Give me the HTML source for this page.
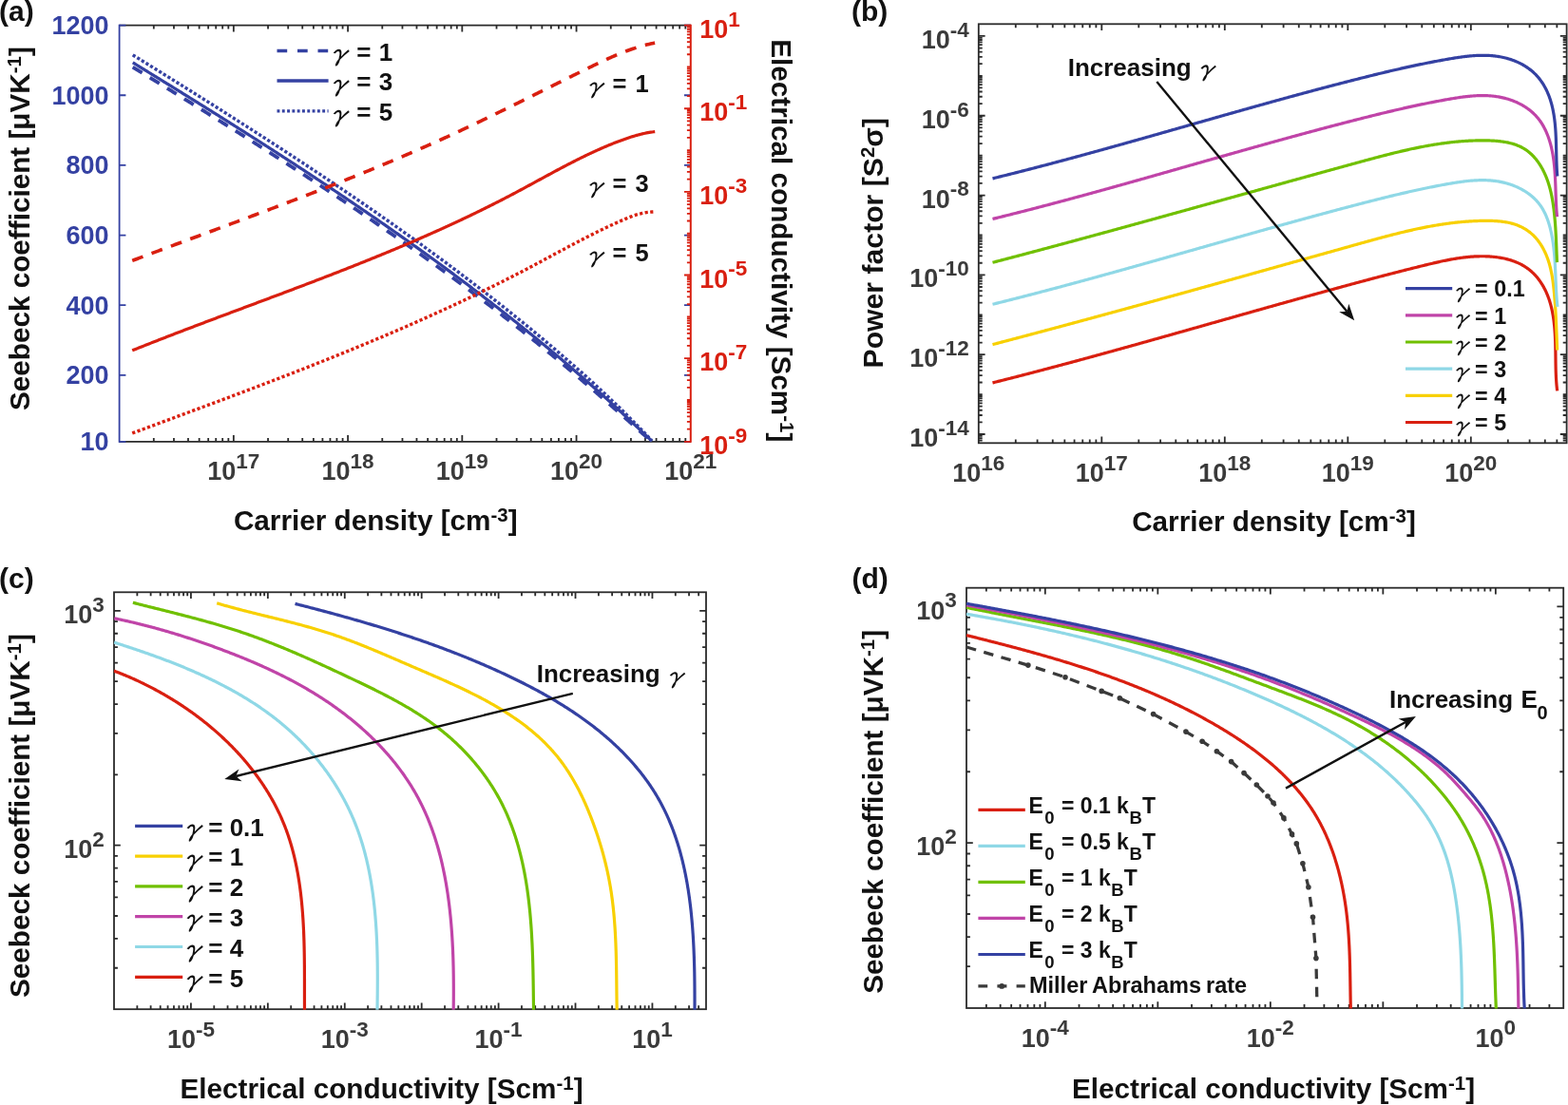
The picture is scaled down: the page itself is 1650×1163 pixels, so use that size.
<!DOCTYPE html>
<html><head><meta charset="utf-8"><title>Figure</title>
<style>html,body{margin:0;padding:0;background:#fff;}svg{display:block;}</style></head>
<body><svg width="1650" height="1163" viewBox="0 0 1650 1163">
<rect width="1650" height="1163" fill="#fff"/>
<path d="M161.8 464.8L161.8 460.9M161.8 26.6L161.8 30.5M182.97 464.8L182.97 460.9M182.97 26.6L182.97 30.5M197.99 464.8L197.99 460.9M197.99 26.6L197.99 30.5M209.64 464.8L209.64 460.9M209.64 26.6L209.64 30.5M219.16 464.8L219.16 460.9M219.16 26.6L219.16 30.5M227.21 464.8L227.21 460.9M227.21 26.6L227.21 30.5M234.19 464.8L234.19 460.9M234.19 26.6L234.19 30.5M240.34 464.8L240.34 460.9M240.34 26.6L240.34 30.5M245.84 464.8L245.84 458M245.84 26.6L245.84 33.4M282.04 464.8L282.04 460.9M282.04 26.6L282.04 30.5M303.21 464.8L303.21 460.9M303.21 26.6L303.21 30.5M318.23 464.8L318.23 460.9M318.23 26.6L318.23 30.5M329.88 464.8L329.88 460.9M329.88 26.6L329.88 30.5M339.4 464.8L339.4 460.9M339.4 26.6L339.4 30.5M347.45 464.8L347.45 460.9M347.45 26.6L347.45 30.5M354.43 464.8L354.43 460.9M354.43 26.6L354.43 30.5M360.58 464.8L360.58 460.9M360.58 26.6L360.58 30.5M366.08 464.8L366.08 458M366.08 26.6L366.08 33.4M402.28 464.8L402.28 460.9M402.28 26.6L402.28 30.5M423.45 464.8L423.45 460.9M423.45 26.6L423.45 30.5M438.47 464.8L438.47 460.9M438.47 26.6L438.47 30.5M450.12 464.8L450.12 460.9M450.12 26.6L450.12 30.5M459.64 464.8L459.64 460.9M459.64 26.6L459.64 30.5M467.69 464.8L467.69 460.9M467.69 26.6L467.69 30.5M474.67 464.8L474.67 460.9M474.67 26.6L474.67 30.5M480.82 464.8L480.82 460.9M480.82 26.6L480.82 30.5M486.32 464.8L486.32 458M486.32 26.6L486.32 33.4M522.52 464.8L522.52 460.9M522.52 26.6L522.52 30.5M543.69 464.8L543.69 460.9M543.69 26.6L543.69 30.5M558.71 464.8L558.71 460.9M558.71 26.6L558.71 30.5M570.36 464.8L570.36 460.9M570.36 26.6L570.36 30.5M579.88 464.8L579.88 460.9M579.88 26.6L579.88 30.5M587.93 464.8L587.93 460.9M587.93 26.6L587.93 30.5M594.91 464.8L594.91 460.9M594.91 26.6L594.91 30.5M601.06 464.8L601.06 460.9M601.06 26.6L601.06 30.5M606.56 464.8L606.56 458M606.56 26.6L606.56 33.4M642.76 464.8L642.76 460.9M642.76 26.6L642.76 30.5M663.93 464.8L663.93 460.9M663.93 26.6L663.93 30.5M678.95 464.8L678.95 460.9M678.95 26.6L678.95 30.5M690.6 464.8L690.6 460.9M690.6 26.6L690.6 30.5M700.12 464.8L700.12 460.9M700.12 26.6L700.12 30.5M708.17 464.8L708.17 460.9M708.17 26.6L708.17 30.5M715.15 464.8L715.15 460.9M715.15 26.6L715.15 30.5M721.3 464.8L721.3 460.9M721.3 26.6L721.3 30.5" stroke="#2b2b2b" stroke-width="1.8" fill="none"/>
<line x1="125.6" y1="26.6" x2="726.8" y2="26.6" stroke="#2b2b2b" stroke-width="1.8"/>
<line x1="125.6" y1="464.8" x2="726.8" y2="464.8" stroke="#2b2b2b" stroke-width="1.8"/>
<path d="M125.6 464.8L132.4 464.8M726.8 464.8L720 464.8M125.6 394.84L132.4 394.84M726.8 394.84L720 394.84M125.6 321.19L132.4 321.19M726.8 321.19L720 321.19M125.6 247.54L132.4 247.54M726.8 247.54L720 247.54M125.6 173.89L132.4 173.89M726.8 173.89L720 173.89M125.6 100.25L132.4 100.25M726.8 100.25L720 100.25M125.6 26.6L132.4 26.6M726.8 26.6L720 26.6" stroke="#3441a2" stroke-width="1.8" fill="none"/>
<path d="M726.8 451.61L722.9 451.61M726.8 443.89L722.9 443.89M726.8 438.42L722.9 438.42M726.8 434.17L722.9 434.17M726.8 430.7L722.9 430.7M726.8 427.77L722.9 427.77M726.8 425.23L722.9 425.23M726.8 422.99L722.9 422.99M726.8 420.98L722.9 420.98M726.8 407.79L722.9 407.79M726.8 400.07L722.9 400.07M726.8 394.6L722.9 394.6M726.8 390.35L722.9 390.35M726.8 386.88L722.9 386.88M726.8 383.95L722.9 383.95M726.8 381.41L722.9 381.41M726.8 379.17L722.9 379.17M726.8 377.16L720 377.16M726.8 363.97L722.9 363.97M726.8 356.25L722.9 356.25M726.8 350.78L722.9 350.78M726.8 346.53L722.9 346.53M726.8 343.06L722.9 343.06M726.8 340.13L722.9 340.13M726.8 337.59L722.9 337.59M726.8 335.35L722.9 335.35M726.8 333.34L722.9 333.34M726.8 320.15L722.9 320.15M726.8 312.43L722.9 312.43M726.8 306.96L722.9 306.96M726.8 302.71L722.9 302.71M726.8 299.24L722.9 299.24M726.8 296.31L722.9 296.31M726.8 293.77L722.9 293.77M726.8 291.53L722.9 291.53M726.8 289.52L720 289.52M726.8 276.33L722.9 276.33M726.8 268.61L722.9 268.61M726.8 263.14L722.9 263.14M726.8 258.89L722.9 258.89M726.8 255.42L722.9 255.42M726.8 252.49L722.9 252.49M726.8 249.95L722.9 249.95M726.8 247.71L722.9 247.71M726.8 245.7L722.9 245.7M726.8 232.51L722.9 232.51M726.8 224.79L722.9 224.79M726.8 219.32L722.9 219.32M726.8 215.07L722.9 215.07M726.8 211.6L722.9 211.6M726.8 208.67L722.9 208.67M726.8 206.13L722.9 206.13M726.8 203.89L722.9 203.89M726.8 201.88L720 201.88M726.8 188.69L722.9 188.69M726.8 180.97L722.9 180.97M726.8 175.5L722.9 175.5M726.8 171.25L722.9 171.25M726.8 167.78L722.9 167.78M726.8 164.85L722.9 164.85M726.8 162.31L722.9 162.31M726.8 160.07L722.9 160.07M726.8 158.06L722.9 158.06M726.8 144.87L722.9 144.87M726.8 137.15L722.9 137.15M726.8 131.68L722.9 131.68M726.8 127.43L722.9 127.43M726.8 123.96L722.9 123.96M726.8 121.03L722.9 121.03M726.8 118.49L722.9 118.49M726.8 116.25L722.9 116.25M726.8 114.24L720 114.24M726.8 101.05L722.9 101.05M726.8 93.33L722.9 93.33M726.8 87.86L722.9 87.86M726.8 83.61L722.9 83.61M726.8 80.14L722.9 80.14M726.8 77.21L722.9 77.21M726.8 74.67L722.9 74.67M726.8 72.43L722.9 72.43M726.8 70.42L722.9 70.42M726.8 57.23L722.9 57.23M726.8 49.51L722.9 49.51M726.8 44.04L722.9 44.04M726.8 39.79L722.9 39.79M726.8 36.32L722.9 36.32M726.8 33.39L722.9 33.39M726.8 30.85L722.9 30.85M726.8 28.61L722.9 28.61M726.8 464.8L720 464.8M726.8 26.6L720 26.6" stroke="#d91f10" stroke-width="1.8" fill="none"/>
<line x1="125.6" y1="25.7" x2="125.6" y2="465.7" stroke="#3441a2" stroke-width="1.8"/>
<line x1="726.8" y1="25.7" x2="726.8" y2="465.7" stroke="#d91f10" stroke-width="2.0"/>
<text x="114.6" y="36.2" font-family="'Liberation Sans', Arial, Helvetica, sans-serif" font-size="27" font-weight="bold" fill="#3441a2" text-anchor="end">1200</text>
<text x="114.6" y="109.85" font-family="'Liberation Sans', Arial, Helvetica, sans-serif" font-size="27" font-weight="bold" fill="#3441a2" text-anchor="end">1000</text>
<text x="114.6" y="183.49" font-family="'Liberation Sans', Arial, Helvetica, sans-serif" font-size="27" font-weight="bold" fill="#3441a2" text-anchor="end">800</text>
<text x="114.6" y="257.14" font-family="'Liberation Sans', Arial, Helvetica, sans-serif" font-size="27" font-weight="bold" fill="#3441a2" text-anchor="end">600</text>
<text x="114.6" y="330.79" font-family="'Liberation Sans', Arial, Helvetica, sans-serif" font-size="27" font-weight="bold" fill="#3441a2" text-anchor="end">400</text>
<text x="114.6" y="404.44" font-family="'Liberation Sans', Arial, Helvetica, sans-serif" font-size="27" font-weight="bold" fill="#3441a2" text-anchor="end">200</text>
<text x="114.6" y="474.4" font-family="'Liberation Sans', Arial, Helvetica, sans-serif" font-size="27" font-weight="bold" fill="#3441a2" text-anchor="end">10</text>
<text x="245.84" y="505.3" font-family="'Liberation Sans', Arial, Helvetica, sans-serif" font-size="27" font-weight="bold" fill="#3a3a3a" text-anchor="middle">10<tspan dy="-12.2" font-size="22.5">17</tspan></text>
<text x="366.08" y="505.3" font-family="'Liberation Sans', Arial, Helvetica, sans-serif" font-size="27" font-weight="bold" fill="#3a3a3a" text-anchor="middle">10<tspan dy="-12.2" font-size="22.5">18</tspan></text>
<text x="486.32" y="505.3" font-family="'Liberation Sans', Arial, Helvetica, sans-serif" font-size="27" font-weight="bold" fill="#3a3a3a" text-anchor="middle">10<tspan dy="-12.2" font-size="22.5">19</tspan></text>
<text x="606.56" y="505.3" font-family="'Liberation Sans', Arial, Helvetica, sans-serif" font-size="27" font-weight="bold" fill="#3a3a3a" text-anchor="middle">10<tspan dy="-12.2" font-size="22.5">20</tspan></text>
<text x="726.8" y="505.3" font-family="'Liberation Sans', Arial, Helvetica, sans-serif" font-size="27" font-weight="bold" fill="#3a3a3a" text-anchor="middle">10<tspan dy="-12.2" font-size="22.5">21</tspan></text>
<text x="736.2" y="39.7" font-family="'Liberation Sans', Arial, Helvetica, sans-serif" font-size="27" font-weight="bold" fill="#d91f10" text-anchor="start">10<tspan dy="-12.2" font-size="22.5">1</tspan></text>
<text x="736.2" y="127.34" font-family="'Liberation Sans', Arial, Helvetica, sans-serif" font-size="27" font-weight="bold" fill="#d91f10" text-anchor="start">10<tspan dy="-12.2" font-size="22.5">-1</tspan></text>
<text x="736.2" y="214.98" font-family="'Liberation Sans', Arial, Helvetica, sans-serif" font-size="27" font-weight="bold" fill="#d91f10" text-anchor="start">10<tspan dy="-12.2" font-size="22.5">-3</tspan></text>
<text x="736.2" y="302.62" font-family="'Liberation Sans', Arial, Helvetica, sans-serif" font-size="27" font-weight="bold" fill="#d91f10" text-anchor="start">10<tspan dy="-12.2" font-size="22.5">-5</tspan></text>
<text x="736.2" y="390.26" font-family="'Liberation Sans', Arial, Helvetica, sans-serif" font-size="27" font-weight="bold" fill="#d91f10" text-anchor="start">10<tspan dy="-12.2" font-size="22.5">-7</tspan></text>
<text x="736.2" y="477.9" font-family="'Liberation Sans', Arial, Helvetica, sans-serif" font-size="27" font-weight="bold" fill="#d91f10" text-anchor="start">10<tspan dy="-12.2" font-size="22.5">-9</tspan></text>
<path d="M1068.79 466.3L1068.79 462.4M1068.79 25.3L1068.79 29.2M1091.59 466.3L1091.59 462.4M1091.59 25.3L1091.59 29.2M1107.77 466.3L1107.77 462.4M1107.77 25.3L1107.77 29.2M1120.32 466.3L1120.32 462.4M1120.32 25.3L1120.32 29.2M1130.58 466.3L1130.58 462.4M1130.58 25.3L1130.58 29.2M1139.25 466.3L1139.25 462.4M1139.25 25.3L1139.25 29.2M1146.76 466.3L1146.76 462.4M1146.76 25.3L1146.76 29.2M1153.38 466.3L1153.38 462.4M1153.38 25.3L1153.38 29.2M1159.31 466.3L1159.31 459.5M1159.31 25.3L1159.31 32.1M1198.29 466.3L1198.29 462.4M1198.29 25.3L1198.29 29.2M1221.1 466.3L1221.1 462.4M1221.1 25.3L1221.1 29.2M1237.28 466.3L1237.28 462.4M1237.28 25.3L1237.28 29.2M1249.83 466.3L1249.83 462.4M1249.83 25.3L1249.83 29.2M1260.08 466.3L1260.08 462.4M1260.08 25.3L1260.08 29.2M1268.75 466.3L1268.75 462.4M1268.75 25.3L1268.75 29.2M1276.26 466.3L1276.26 462.4M1276.26 25.3L1276.26 29.2M1282.89 466.3L1282.89 462.4M1282.89 25.3L1282.89 29.2M1288.81 466.3L1288.81 459.5M1288.81 25.3L1288.81 32.1M1327.8 466.3L1327.8 462.4M1327.8 25.3L1327.8 29.2M1350.6 466.3L1350.6 462.4M1350.6 25.3L1350.6 29.2M1366.78 466.3L1366.78 462.4M1366.78 25.3L1366.78 29.2M1379.33 466.3L1379.33 462.4M1379.33 25.3L1379.33 29.2M1389.59 466.3L1389.59 462.4M1389.59 25.3L1389.59 29.2M1398.26 466.3L1398.26 462.4M1398.26 25.3L1398.26 29.2M1405.77 466.3L1405.77 462.4M1405.77 25.3L1405.77 29.2M1412.39 466.3L1412.39 462.4M1412.39 25.3L1412.39 29.2M1418.32 466.3L1418.32 459.5M1418.32 25.3L1418.32 32.1M1457.3 466.3L1457.3 462.4M1457.3 25.3L1457.3 29.2M1480.11 466.3L1480.11 462.4M1480.11 25.3L1480.11 29.2M1496.29 466.3L1496.29 462.4M1496.29 25.3L1496.29 29.2M1508.84 466.3L1508.84 462.4M1508.84 25.3L1508.84 29.2M1519.09 466.3L1519.09 462.4M1519.09 25.3L1519.09 29.2M1527.76 466.3L1527.76 462.4M1527.76 25.3L1527.76 29.2M1535.27 466.3L1535.27 462.4M1535.27 25.3L1535.27 29.2M1541.9 466.3L1541.9 462.4M1541.9 25.3L1541.9 29.2M1547.82 466.3L1547.82 459.5M1547.82 25.3L1547.82 32.1M1586.81 466.3L1586.81 462.4M1586.81 25.3L1586.81 29.2M1609.61 466.3L1609.61 462.4M1609.61 25.3L1609.61 29.2M1625.8 466.3L1625.8 462.4M1625.8 25.3L1625.8 29.2M1638.35 466.3L1638.35 462.4M1638.35 25.3L1638.35 29.2M1029.8 463.49L1033.7 463.49M1648.6 463.49L1644.7 463.49M1029.8 461.06L1033.7 461.06M1648.6 461.06L1644.7 461.06M1029.8 458.92L1033.7 458.92M1648.6 458.92L1644.7 458.92M1029.8 457L1036.6 457M1648.6 457L1641.8 457M1029.8 444.39L1033.7 444.39M1648.6 444.39L1644.7 444.39M1029.8 437.01L1033.7 437.01M1648.6 437.01L1644.7 437.01M1029.8 431.77L1033.7 431.77M1648.6 431.77L1644.7 431.77M1029.8 427.71L1033.7 427.71M1648.6 427.71L1644.7 427.71M1029.8 424.39L1033.7 424.39M1648.6 424.39L1644.7 424.39M1029.8 421.59L1033.7 421.59M1648.6 421.59L1644.7 421.59M1029.8 419.16L1033.7 419.16M1648.6 419.16L1644.7 419.16M1029.8 417.01L1033.7 417.01M1648.6 417.01L1644.7 417.01M1029.8 415.09L1033.7 415.09M1648.6 415.09L1644.7 415.09M1029.8 402.48L1033.7 402.48M1648.6 402.48L1644.7 402.48M1029.8 395.1L1033.7 395.1M1648.6 395.1L1644.7 395.1M1029.8 389.86L1033.7 389.86M1648.6 389.86L1644.7 389.86M1029.8 385.8L1033.7 385.8M1648.6 385.8L1644.7 385.8M1029.8 382.48L1033.7 382.48M1648.6 382.48L1644.7 382.48M1029.8 379.68L1033.7 379.68M1648.6 379.68L1644.7 379.68M1029.8 377.25L1033.7 377.25M1648.6 377.25L1644.7 377.25M1029.8 375.1L1033.7 375.1M1648.6 375.1L1644.7 375.1M1029.8 373.19L1036.6 373.19M1648.6 373.19L1641.8 373.19M1029.8 360.57L1033.7 360.57M1648.6 360.57L1644.7 360.57M1029.8 353.19L1033.7 353.19M1648.6 353.19L1644.7 353.19M1029.8 347.95L1033.7 347.95M1648.6 347.95L1644.7 347.95M1029.8 343.89L1033.7 343.89M1648.6 343.89L1644.7 343.89M1029.8 340.57L1033.7 340.57M1648.6 340.57L1644.7 340.57M1029.8 337.77L1033.7 337.77M1648.6 337.77L1644.7 337.77M1029.8 335.34L1033.7 335.34M1648.6 335.34L1644.7 335.34M1029.8 333.19L1033.7 333.19M1648.6 333.19L1644.7 333.19M1029.8 331.28L1033.7 331.28M1648.6 331.28L1644.7 331.28M1029.8 318.66L1033.7 318.66M1648.6 318.66L1644.7 318.66M1029.8 311.28L1033.7 311.28M1648.6 311.28L1644.7 311.28M1029.8 306.05L1033.7 306.05M1648.6 306.05L1644.7 306.05M1029.8 301.98L1033.7 301.98M1648.6 301.98L1644.7 301.98M1029.8 298.67L1033.7 298.67M1648.6 298.67L1644.7 298.67M1029.8 295.86L1033.7 295.86M1648.6 295.86L1644.7 295.86M1029.8 293.43L1033.7 293.43M1648.6 293.43L1644.7 293.43M1029.8 291.29L1033.7 291.29M1648.6 291.29L1644.7 291.29M1029.8 289.37L1036.6 289.37M1648.6 289.37L1641.8 289.37M1029.8 276.75L1033.7 276.75M1648.6 276.75L1644.7 276.75M1029.8 269.37L1033.7 269.37M1648.6 269.37L1644.7 269.37M1029.8 264.14L1033.7 264.14M1648.6 264.14L1644.7 264.14M1029.8 260.07L1033.7 260.07M1648.6 260.07L1644.7 260.07M1029.8 256.76L1033.7 256.76M1648.6 256.76L1644.7 256.76M1029.8 253.95L1033.7 253.95M1648.6 253.95L1644.7 253.95M1029.8 251.52L1033.7 251.52M1648.6 251.52L1644.7 251.52M1029.8 249.38L1033.7 249.38M1648.6 249.38L1644.7 249.38M1029.8 247.46L1033.7 247.46M1648.6 247.46L1644.7 247.46M1029.8 234.84L1033.7 234.84M1648.6 234.84L1644.7 234.84M1029.8 227.46L1033.7 227.46M1648.6 227.46L1644.7 227.46M1029.8 222.23L1033.7 222.23M1648.6 222.23L1644.7 222.23M1029.8 218.17L1033.7 218.17M1648.6 218.17L1644.7 218.17M1029.8 214.85L1033.7 214.85M1648.6 214.85L1644.7 214.85M1029.8 212.04L1033.7 212.04M1648.6 212.04L1644.7 212.04M1029.8 209.61L1033.7 209.61M1648.6 209.61L1644.7 209.61M1029.8 207.47L1033.7 207.47M1648.6 207.47L1644.7 207.47M1029.8 205.55L1036.6 205.55M1648.6 205.55L1641.8 205.55M1029.8 192.93L1033.7 192.93M1648.6 192.93L1644.7 192.93M1029.8 185.55L1033.7 185.55M1648.6 185.55L1644.7 185.55M1029.8 180.32L1033.7 180.32M1648.6 180.32L1644.7 180.32M1029.8 176.26L1033.7 176.26M1648.6 176.26L1644.7 176.26M1029.8 172.94L1033.7 172.94M1648.6 172.94L1644.7 172.94M1029.8 170.13L1033.7 170.13M1648.6 170.13L1644.7 170.13M1029.8 167.7L1033.7 167.7M1648.6 167.7L1644.7 167.7M1029.8 165.56L1033.7 165.56M1648.6 165.56L1644.7 165.56M1029.8 163.64L1033.7 163.64M1648.6 163.64L1644.7 163.64M1029.8 151.03L1033.7 151.03M1648.6 151.03L1644.7 151.03M1029.8 143.65L1033.7 143.65M1648.6 143.65L1644.7 143.65M1029.8 138.41L1033.7 138.41M1648.6 138.41L1644.7 138.41M1029.8 134.35L1033.7 134.35M1648.6 134.35L1644.7 134.35M1029.8 131.03L1033.7 131.03M1648.6 131.03L1644.7 131.03M1029.8 128.22L1033.7 128.22M1648.6 128.22L1644.7 128.22M1029.8 125.79L1033.7 125.79M1648.6 125.79L1644.7 125.79M1029.8 123.65L1033.7 123.65M1648.6 123.65L1644.7 123.65M1029.8 121.73L1036.6 121.73M1648.6 121.73L1641.8 121.73M1029.8 109.12L1033.7 109.12M1648.6 109.12L1644.7 109.12M1029.8 101.74L1033.7 101.74M1648.6 101.74L1644.7 101.74M1029.8 96.5L1033.7 96.5M1648.6 96.5L1644.7 96.5M1029.8 92.44L1033.7 92.44M1648.6 92.44L1644.7 92.44M1029.8 89.12L1033.7 89.12M1648.6 89.12L1644.7 89.12M1029.8 86.32L1033.7 86.32M1648.6 86.32L1644.7 86.32M1029.8 83.89L1033.7 83.89M1648.6 83.89L1644.7 83.89M1029.8 81.74L1033.7 81.74M1648.6 81.74L1644.7 81.74M1029.8 79.82L1033.7 79.82M1648.6 79.82L1644.7 79.82M1029.8 67.21L1033.7 67.21M1648.6 67.21L1644.7 67.21M1029.8 59.83L1033.7 59.83M1648.6 59.83L1644.7 59.83M1029.8 54.59L1033.7 54.59M1648.6 54.59L1644.7 54.59M1029.8 50.53L1033.7 50.53M1648.6 50.53L1644.7 50.53M1029.8 47.21L1033.7 47.21M1648.6 47.21L1644.7 47.21M1029.8 44.41L1033.7 44.41M1648.6 44.41L1644.7 44.41M1029.8 41.98L1033.7 41.98M1648.6 41.98L1644.7 41.98M1029.8 39.83L1033.7 39.83M1648.6 39.83L1644.7 39.83M1029.8 37.92L1036.6 37.92M1648.6 37.92L1641.8 37.92" stroke="#2b2b2b" stroke-width="1.8" fill="none"/>
<rect x="1029.8" y="25.3" width="618.8" height="441" fill="none" stroke="#2b2b2b" stroke-width="1.8"/>
<text x="1029.8" y="507.3" font-family="'Liberation Sans', Arial, Helvetica, sans-serif" font-size="27" font-weight="bold" fill="#3a3a3a" text-anchor="middle">10<tspan dy="-12.2" font-size="22.5">16</tspan></text>
<text x="1159.31" y="507.3" font-family="'Liberation Sans', Arial, Helvetica, sans-serif" font-size="27" font-weight="bold" fill="#3a3a3a" text-anchor="middle">10<tspan dy="-12.2" font-size="22.5">17</tspan></text>
<text x="1288.81" y="507.3" font-family="'Liberation Sans', Arial, Helvetica, sans-serif" font-size="27" font-weight="bold" fill="#3a3a3a" text-anchor="middle">10<tspan dy="-12.2" font-size="22.5">18</tspan></text>
<text x="1418.32" y="507.3" font-family="'Liberation Sans', Arial, Helvetica, sans-serif" font-size="27" font-weight="bold" fill="#3a3a3a" text-anchor="middle">10<tspan dy="-12.2" font-size="22.5">19</tspan></text>
<text x="1547.82" y="507.3" font-family="'Liberation Sans', Arial, Helvetica, sans-serif" font-size="27" font-weight="bold" fill="#3a3a3a" text-anchor="middle">10<tspan dy="-12.2" font-size="22.5">20</tspan></text>
<text x="1019.8" y="51.02" font-family="'Liberation Sans', Arial, Helvetica, sans-serif" font-size="27" font-weight="bold" fill="#3a3a3a" text-anchor="end">10<tspan dy="-12.2" font-size="22.5">-4</tspan></text>
<text x="1019.8" y="134.83" font-family="'Liberation Sans', Arial, Helvetica, sans-serif" font-size="27" font-weight="bold" fill="#3a3a3a" text-anchor="end">10<tspan dy="-12.2" font-size="22.5">-6</tspan></text>
<text x="1019.8" y="218.65" font-family="'Liberation Sans', Arial, Helvetica, sans-serif" font-size="27" font-weight="bold" fill="#3a3a3a" text-anchor="end">10<tspan dy="-12.2" font-size="22.5">-8</tspan></text>
<text x="1019.8" y="302.47" font-family="'Liberation Sans', Arial, Helvetica, sans-serif" font-size="27" font-weight="bold" fill="#3a3a3a" text-anchor="end">10<tspan dy="-12.2" font-size="22.5">-10</tspan></text>
<text x="1019.8" y="386.29" font-family="'Liberation Sans', Arial, Helvetica, sans-serif" font-size="27" font-weight="bold" fill="#3a3a3a" text-anchor="end">10<tspan dy="-12.2" font-size="22.5">-12</tspan></text>
<text x="1019.8" y="470.1" font-family="'Liberation Sans', Arial, Helvetica, sans-serif" font-size="27" font-weight="bold" fill="#3a3a3a" text-anchor="end">10<tspan dy="-12.2" font-size="22.5">-14</tspan></text>
<path d="M144.36 1062.2L144.36 1058.3M144.36 623.3L144.36 627.2M158.61 1062.2L158.61 1058.3M158.61 623.3L158.61 627.2M168.72 1062.2L168.72 1058.3M168.72 623.3L168.72 627.2M176.56 1062.2L176.56 1058.3M176.56 623.3L176.56 627.2M182.97 1062.2L182.97 1058.3M182.97 623.3L182.97 627.2M188.39 1062.2L188.39 1058.3M188.39 623.3L188.39 627.2M193.08 1062.2L193.08 1058.3M193.08 623.3L193.08 627.2M197.22 1062.2L197.22 1058.3M197.22 623.3L197.22 627.2M200.92 1062.2L200.92 1055.4M200.92 623.3L200.92 630.1M225.28 1062.2L225.28 1058.3M225.28 623.3L225.28 627.2M239.53 1062.2L239.53 1058.3M239.53 623.3L239.53 627.2M249.64 1062.2L249.64 1058.3M249.64 623.3L249.64 627.2M257.48 1062.2L257.48 1058.3M257.48 623.3L257.48 627.2M263.89 1062.2L263.89 1058.3M263.89 623.3L263.89 627.2M269.31 1062.2L269.31 1058.3M269.31 623.3L269.31 627.2M274 1062.2L274 1058.3M274 623.3L274 627.2M278.14 1062.2L278.14 1058.3M278.14 623.3L278.14 627.2M281.84 1062.2L281.84 1055.4M281.84 623.3L281.84 630.1M306.2 1062.2L306.2 1058.3M306.2 623.3L306.2 627.2M320.45 1062.2L320.45 1058.3M320.45 623.3L320.45 627.2M330.56 1062.2L330.56 1058.3M330.56 623.3L330.56 627.2M338.4 1062.2L338.4 1058.3M338.4 623.3L338.4 627.2M344.81 1062.2L344.81 1058.3M344.81 623.3L344.81 627.2M350.23 1062.2L350.23 1058.3M350.23 623.3L350.23 627.2M354.92 1062.2L354.92 1058.3M354.92 623.3L354.92 627.2M359.06 1062.2L359.06 1058.3M359.06 623.3L359.06 627.2M362.76 1062.2L362.76 1055.4M362.76 623.3L362.76 630.1M387.12 1062.2L387.12 1058.3M387.12 623.3L387.12 627.2M401.37 1062.2L401.37 1058.3M401.37 623.3L401.37 627.2M411.48 1062.2L411.48 1058.3M411.48 623.3L411.48 627.2M419.32 1062.2L419.32 1058.3M419.32 623.3L419.32 627.2M425.73 1062.2L425.73 1058.3M425.73 623.3L425.73 627.2M431.15 1062.2L431.15 1058.3M431.15 623.3L431.15 627.2M435.84 1062.2L435.84 1058.3M435.84 623.3L435.84 627.2M439.98 1062.2L439.98 1058.3M439.98 623.3L439.98 627.2M443.68 1062.2L443.68 1055.4M443.68 623.3L443.68 630.1M468.04 1062.2L468.04 1058.3M468.04 623.3L468.04 627.2M482.29 1062.2L482.29 1058.3M482.29 623.3L482.29 627.2M492.4 1062.2L492.4 1058.3M492.4 623.3L492.4 627.2M500.24 1062.2L500.24 1058.3M500.24 623.3L500.24 627.2M506.65 1062.2L506.65 1058.3M506.65 623.3L506.65 627.2M512.06 1062.2L512.06 1058.3M512.06 623.3L512.06 627.2M516.76 1062.2L516.76 1058.3M516.76 623.3L516.76 627.2M520.9 1062.2L520.9 1058.3M520.9 623.3L520.9 627.2M524.6 1062.2L524.6 1055.4M524.6 623.3L524.6 630.1M548.96 1062.2L548.96 1058.3M548.96 623.3L548.96 627.2M563.21 1062.2L563.21 1058.3M563.21 623.3L563.21 627.2M573.32 1062.2L573.32 1058.3M573.32 623.3L573.32 627.2M581.16 1062.2L581.16 1058.3M581.16 623.3L581.16 627.2M587.57 1062.2L587.57 1058.3M587.57 623.3L587.57 627.2M592.98 1062.2L592.98 1058.3M592.98 623.3L592.98 627.2M597.68 1062.2L597.68 1058.3M597.68 623.3L597.68 627.2M601.82 1062.2L601.82 1058.3M601.82 623.3L601.82 627.2M605.52 1062.2L605.52 1055.4M605.52 623.3L605.52 630.1M629.88 1062.2L629.88 1058.3M629.88 623.3L629.88 627.2M644.13 1062.2L644.13 1058.3M644.13 623.3L644.13 627.2M654.24 1062.2L654.24 1058.3M654.24 623.3L654.24 627.2M662.08 1062.2L662.08 1058.3M662.08 623.3L662.08 627.2M668.49 1062.2L668.49 1058.3M668.49 623.3L668.49 627.2M673.9 1062.2L673.9 1058.3M673.9 623.3L673.9 627.2M678.6 1062.2L678.6 1058.3M678.6 623.3L678.6 627.2M682.74 1062.2L682.74 1058.3M682.74 623.3L682.74 627.2M686.44 1062.2L686.44 1055.4M686.44 623.3L686.44 630.1M710.8 1062.2L710.8 1058.3M710.8 623.3L710.8 627.2M725.05 1062.2L725.05 1058.3M725.05 623.3L725.05 627.2M735.16 1062.2L735.16 1058.3M735.16 623.3L735.16 627.2M120 1018.74L123.9 1018.74M743 1018.74L739.1 1018.74M120 987.9L123.9 987.9M743 987.9L739.1 987.9M120 963.98L123.9 963.98M743 963.98L739.1 963.98M120 944.43L123.9 944.43M743 944.43L739.1 944.43M120 927.91L123.9 927.91M743 927.91L739.1 927.91M120 913.59L123.9 913.59M743 913.59L739.1 913.59M120 900.97L123.9 900.97M743 900.97L739.1 900.97M120 889.67L126.8 889.67M743 889.67L736.2 889.67M120 815.37L123.9 815.37M743 815.37L739.1 815.37M120 771.91L123.9 771.91M743 771.91L739.1 771.91M120 741.07L123.9 741.07M743 741.07L739.1 741.07M120 717.15L123.9 717.15M743 717.15L739.1 717.15M120 697.6L123.9 697.6M743 697.6L739.1 697.6M120 681.08L123.9 681.08M743 681.08L739.1 681.08M120 666.76L123.9 666.76M743 666.76L739.1 666.76M120 654.14L123.9 654.14M743 654.14L739.1 654.14M120 642.84L126.8 642.84M743 642.84L736.2 642.84" stroke="#2b2b2b" stroke-width="1.8" fill="none"/>
<rect x="120.0" y="623.3" width="623" height="438.9" fill="none" stroke="#2b2b2b" stroke-width="1.8"/>
<text x="200.92" y="1102.7" font-family="'Liberation Sans', Arial, Helvetica, sans-serif" font-size="27" font-weight="bold" fill="#3a3a3a" text-anchor="middle">10<tspan dy="-12.2" font-size="22.5">-5</tspan></text>
<text x="362.76" y="1102.7" font-family="'Liberation Sans', Arial, Helvetica, sans-serif" font-size="27" font-weight="bold" fill="#3a3a3a" text-anchor="middle">10<tspan dy="-12.2" font-size="22.5">-3</tspan></text>
<text x="524.6" y="1102.7" font-family="'Liberation Sans', Arial, Helvetica, sans-serif" font-size="27" font-weight="bold" fill="#3a3a3a" text-anchor="middle">10<tspan dy="-12.2" font-size="22.5">-1</tspan></text>
<text x="686.44" y="1102.7" font-family="'Liberation Sans', Arial, Helvetica, sans-serif" font-size="27" font-weight="bold" fill="#3a3a3a" text-anchor="middle">10<tspan dy="-12.2" font-size="22.5">1</tspan></text>
<text x="109.8" y="655.94" font-family="'Liberation Sans', Arial, Helvetica, sans-serif" font-size="27" font-weight="bold" fill="#3a3a3a" text-anchor="end">10<tspan dy="-12.2" font-size="22.5">3</tspan></text>
<text x="109.8" y="902.77" font-family="'Liberation Sans', Arial, Helvetica, sans-serif" font-size="27" font-weight="bold" fill="#3a3a3a" text-anchor="end">10<tspan dy="-12.2" font-size="22.5">2</tspan></text>
<path d="M1037.87 1061L1037.87 1057.1M1037.87 618.7L1037.87 622.6M1052.67 1061L1052.67 1057.1M1052.67 618.7L1052.67 622.6M1064.16 1061L1064.16 1057.1M1064.16 618.7L1064.16 622.6M1073.54 1061L1073.54 1057.1M1073.54 618.7L1073.54 622.6M1081.47 1061L1081.47 1057.1M1081.47 618.7L1081.47 622.6M1088.35 1061L1088.35 1057.1M1088.35 618.7L1088.35 622.6M1094.41 1061L1094.41 1057.1M1094.41 618.7L1094.41 622.6M1099.83 1061L1099.83 1054.2M1099.83 618.7L1099.83 625.5M1135.51 1061L1135.51 1057.1M1135.51 618.7L1135.51 622.6M1156.37 1061L1156.37 1057.1M1156.37 618.7L1156.37 622.6M1171.18 1061L1171.18 1057.1M1171.18 618.7L1171.18 622.6M1182.66 1061L1182.66 1057.1M1182.66 618.7L1182.66 622.6M1192.05 1061L1192.05 1057.1M1192.05 618.7L1192.05 622.6M1199.98 1061L1199.98 1057.1M1199.98 618.7L1199.98 622.6M1206.85 1061L1206.85 1057.1M1206.85 618.7L1206.85 622.6M1212.91 1061L1212.91 1057.1M1212.91 618.7L1212.91 622.6M1218.34 1061L1218.34 1054.2M1218.34 618.7L1218.34 625.5M1254.01 1061L1254.01 1057.1M1254.01 618.7L1254.01 622.6M1274.88 1061L1274.88 1057.1M1274.88 618.7L1274.88 622.6M1289.68 1061L1289.68 1057.1M1289.68 618.7L1289.68 622.6M1301.17 1061L1301.17 1057.1M1301.17 618.7L1301.17 622.6M1310.55 1061L1310.55 1057.1M1310.55 618.7L1310.55 622.6M1318.49 1061L1318.49 1057.1M1318.49 618.7L1318.49 622.6M1325.36 1061L1325.36 1057.1M1325.36 618.7L1325.36 622.6M1331.42 1061L1331.42 1057.1M1331.42 618.7L1331.42 622.6M1336.84 1061L1336.84 1054.2M1336.84 618.7L1336.84 625.5M1372.52 1061L1372.52 1057.1M1372.52 618.7L1372.52 622.6M1393.38 1061L1393.38 1057.1M1393.38 618.7L1393.38 622.6M1408.19 1061L1408.19 1057.1M1408.19 618.7L1408.19 622.6M1419.67 1061L1419.67 1057.1M1419.67 618.7L1419.67 622.6M1429.06 1061L1429.06 1057.1M1429.06 618.7L1429.06 622.6M1436.99 1061L1436.99 1057.1M1436.99 618.7L1436.99 622.6M1443.86 1061L1443.86 1057.1M1443.86 618.7L1443.86 622.6M1449.92 1061L1449.92 1057.1M1449.92 618.7L1449.92 622.6M1455.35 1061L1455.35 1054.2M1455.35 618.7L1455.35 625.5M1491.02 1061L1491.02 1057.1M1491.02 618.7L1491.02 622.6M1511.89 1061L1511.89 1057.1M1511.89 618.7L1511.89 622.6M1526.69 1061L1526.69 1057.1M1526.69 618.7L1526.69 622.6M1538.18 1061L1538.18 1057.1M1538.18 618.7L1538.18 622.6M1547.56 1061L1547.56 1057.1M1547.56 618.7L1547.56 622.6M1555.5 1061L1555.5 1057.1M1555.5 618.7L1555.5 622.6M1562.37 1061L1562.37 1057.1M1562.37 618.7L1562.37 622.6M1568.43 1061L1568.43 1057.1M1568.43 618.7L1568.43 622.6M1573.85 1061L1573.85 1054.2M1573.85 618.7L1573.85 625.5M1609.53 1061L1609.53 1057.1M1609.53 618.7L1609.53 622.6M1630.39 1061L1630.39 1057.1M1630.39 618.7L1630.39 622.6M1017 1017.2L1020.9 1017.2M1645.2 1017.2L1641.3 1017.2M1017 986.12L1020.9 986.12M1645.2 986.12L1641.3 986.12M1017 962.02L1020.9 962.02M1645.2 962.02L1641.3 962.02M1017 942.32L1020.9 942.32M1645.2 942.32L1641.3 942.32M1017 925.67L1020.9 925.67M1645.2 925.67L1641.3 925.67M1017 911.24L1020.9 911.24M1645.2 911.24L1641.3 911.24M1017 898.52L1020.9 898.52M1645.2 898.52L1641.3 898.52M1017 887.14L1023.8 887.14M1645.2 887.14L1638.4 887.14M1017 812.26L1020.9 812.26M1645.2 812.26L1641.3 812.26M1017 768.46L1020.9 768.46M1645.2 768.46L1641.3 768.46M1017 737.38L1020.9 737.38M1645.2 737.38L1641.3 737.38M1017 713.27L1020.9 713.27M1645.2 713.27L1641.3 713.27M1017 693.58L1020.9 693.58M1645.2 693.58L1641.3 693.58M1017 676.93L1020.9 676.93M1645.2 676.93L1641.3 676.93M1017 662.5L1020.9 662.5M1645.2 662.5L1641.3 662.5M1017 649.78L1020.9 649.78M1645.2 649.78L1641.3 649.78M1017 638.4L1023.8 638.4M1645.2 638.4L1638.4 638.4" stroke="#2b2b2b" stroke-width="1.8" fill="none"/>
<rect x="1017.0" y="618.7" width="628.2" height="442.3" fill="none" stroke="#2b2b2b" stroke-width="1.8"/>
<text x="1099.83" y="1101.5" font-family="'Liberation Sans', Arial, Helvetica, sans-serif" font-size="27" font-weight="bold" fill="#3a3a3a" text-anchor="middle">10<tspan dy="-12.2" font-size="22.5">-4</tspan></text>
<text x="1336.84" y="1101.5" font-family="'Liberation Sans', Arial, Helvetica, sans-serif" font-size="27" font-weight="bold" fill="#3a3a3a" text-anchor="middle">10<tspan dy="-12.2" font-size="22.5">-2</tspan></text>
<text x="1573.85" y="1101.5" font-family="'Liberation Sans', Arial, Helvetica, sans-serif" font-size="27" font-weight="bold" fill="#3a3a3a" text-anchor="middle">10<tspan dy="-12.2" font-size="22.5">0</tspan></text>
<text x="1006.8" y="651.5" font-family="'Liberation Sans', Arial, Helvetica, sans-serif" font-size="27" font-weight="bold" fill="#3a3a3a" text-anchor="end">10<tspan dy="-12.2" font-size="22.5">3</tspan></text>
<text x="1006.8" y="900.24" font-family="'Liberation Sans', Arial, Helvetica, sans-serif" font-size="27" font-weight="bold" fill="#3a3a3a" text-anchor="end">10<tspan dy="-12.2" font-size="22.5">2</tspan></text>
<defs>
<clipPath id="cA"><rect x="125.1" y="26.1" width="602.2" height="439.2"/></clipPath>
<clipPath id="cB"><rect x="1029.3" y="24.8" width="619.8" height="442"/></clipPath>
<clipPath id="cC"><rect x="119.5" y="622.8" width="624" height="439.9"/></clipPath>
<clipPath id="cD"><rect x="1016.5" y="618.2" width="629.2" height="443.3"/></clipPath>
</defs>
<g clip-path="url(#cA)">
<path d="M139.72 70.65L141.16 71.53L142.61 72.41L144.05 73.30L145.49 74.18L146.94 75.07L148.38 75.95L149.83 76.84L151.27 77.73L152.71 78.61L154.16 79.50L155.60 80.38L157.05 81.27L158.49 82.16L159.93 83.04L161.38 83.93L162.82 84.82L164.26 85.71L165.71 86.59L167.15 87.48L168.60 88.37L170.04 89.26L171.48 90.15L172.92 91.04L174.37 91.93L175.81 92.82L177.25 93.71L178.70 94.60L180.14 95.49L181.58 96.38L183.03 97.27L184.47 98.16L185.91 99.05L187.35 99.94L188.79 100.83L190.24 101.73L191.68 102.62L193.12 103.51L194.56 104.41L196.00 105.30L197.45 106.19L198.89 107.09L200.33 107.98L201.77 108.88L203.21 109.77L204.65 110.67L206.09 111.56L207.53 112.46L208.97 113.36L210.42 114.25L211.86 115.15L213.30 116.05L214.74 116.94L216.18 117.84L217.62 118.74L219.06 119.64L220.49 120.54L221.93 121.44L223.37 122.34L224.81 123.24L226.25 124.14L227.69 125.04L229.13 125.94L230.57 126.84L232.00 127.74L233.44 128.65L234.88 129.55L236.32 130.45L237.75 131.36L239.19 132.26L240.63 133.16L242.06 134.07L243.50 134.97L244.94 135.88L246.37 136.79L247.81 137.69L249.24 138.60L250.68 139.51L252.12 140.41L253.55 141.32L254.99 142.23L256.42 143.14L257.85 144.05L259.29 144.96L260.72 145.87L262.16 146.78L263.59 147.69L265.02 148.60L266.45 149.51L267.89 150.42L269.32 151.34L270.75 152.25L272.18 153.16L273.61 154.08L275.05 154.99L276.48 155.91L277.91 156.82L279.34 157.74L280.77 158.65L282.20 159.57L283.63 160.49L285.06 161.40L286.49 162.32L287.91 163.24L289.34 164.16L290.77 165.08L292.20 166.00L293.63 166.92L295.05 167.84L296.48 168.76L297.91 169.69L299.33 170.61L300.76 171.53L302.19 172.45L303.61 173.38L305.04 174.30L306.46 175.23L307.89 176.15L309.31 177.08L310.73 178.01L312.16 178.93L313.58 179.86L315.00 180.79L316.42 181.72L317.85 182.65L319.27 183.58L320.69 184.51L322.11 185.44L323.53 186.37L324.95 187.30L326.37 188.24L327.79 189.17L329.21 190.10L330.63 191.04L332.05 191.97L333.46 192.91L334.88 193.84L336.30 194.78L337.72 195.72L339.13 196.66L340.55 197.59L341.96 198.53L343.38 199.47L344.79 200.41L346.21 201.35L347.62 202.30L349.04 203.24L350.45 204.18L351.86 205.12L353.28 206.07L354.69 207.01L356.10 207.96L357.51 208.90L358.92 209.85L360.33 210.79L361.74 211.74L363.15 212.69L364.56 213.64L365.97 214.59L367.38 215.54L368.78 216.49L370.19 217.44L371.60 218.39L373.00 219.34L374.41 220.30L375.81 221.25L377.22 222.21L378.62 223.16L380.03 224.12L381.43 225.07L382.83 226.03L384.24 226.99L385.64 227.95L387.04 228.91L388.44 229.87L389.84 230.83L391.24 231.79L392.64 232.75L394.04 233.71L395.44 234.68L396.84 235.64L398.23 236.61L399.63 237.57L401.03 238.54L402.42 239.50L403.82 240.47L405.21 241.44L406.61 242.41L408.00 243.38L409.40 244.35L410.79 245.32L412.18 246.29L413.57 247.27L414.96 248.24L416.35 249.21L417.74 250.19L419.13 251.16L420.52 252.14L421.91 253.12L423.30 254.09L424.69 255.07L426.07 256.05L427.46 257.03L428.85 258.01L430.23 258.99L431.62 259.97L433.00 260.95L434.38 261.93L435.77 262.91L437.15 263.89L438.53 264.88L439.91 265.86L441.29 266.84L442.67 267.83L444.05 268.81L445.43 269.80L446.81 270.79L448.18 271.78L449.56 272.76L450.94 273.75L452.31 274.74L453.69 275.74L455.06 276.73L456.44 277.72L457.81 278.71L459.18 279.71L460.55 280.70L461.92 281.70L463.30 282.70L464.66 283.69L466.03 284.69L467.40 285.69L468.77 286.69L470.14 287.69L471.50 288.70L472.87 289.70L474.24 290.70L475.60 291.71L476.96 292.71L478.33 293.72L479.69 294.73L481.05 295.73L482.41 296.74L483.78 297.75L485.14 298.76L486.49 299.78L487.85 300.79L489.21 301.80L490.57 302.82L491.92 303.83L493.28 304.85L494.64 305.86L495.99 306.88L497.34 307.90L498.70 308.92L500.05 309.94L501.40 310.96L502.75 311.98L504.10 313.01L505.45 314.03L506.80 315.06L508.15 316.08L509.49 317.11L510.84 318.14L512.19 319.17L513.53 320.20L514.88 321.23L516.22 322.26L517.56 323.29L518.90 324.33L520.25 325.36L521.59 326.40L522.93 327.43L524.27 328.47L525.60 329.51L526.94 330.55L528.28 331.59L529.61 332.63L530.95 333.67L532.28 334.71L533.62 335.76L534.95 336.80L536.28 337.85L537.61 338.90L538.94 339.94L540.27 340.99L541.60 342.04L542.93 343.09L544.26 344.15L545.58 345.20L546.91 346.25L548.23 347.31L549.56 348.37L550.88 349.42L552.20 350.48L553.52 351.54L554.85 352.60L556.17 353.66L557.48 354.72L558.80 355.79L560.12 356.85L561.44 357.91L562.75 358.97L564.07 360.03L565.38 361.09L566.69 362.15L568.01 363.21L569.32 364.27L570.63 365.34L571.94 366.41L573.25 367.47L574.55 368.54L575.86 369.61L577.17 370.68L578.47 371.75L579.78 372.82L581.08 373.90L582.38 374.97L583.69 376.05L584.99 377.12L586.29 378.20L587.59 379.28L588.88 380.36L590.18 381.44L591.48 382.52L592.77 383.61L594.07 384.69L595.36 385.78L596.65 386.86L597.95 387.95L599.24 389.04L600.53 390.13L601.82 391.22L603.10 392.31L604.39 393.41L605.68 394.50L606.96 395.60L608.25 396.69L609.53 397.79L610.81 398.89L612.10 399.99L613.38 401.09L614.66 402.19L615.93 403.30L617.21 404.40L618.49 405.51L619.76 406.62L621.04 407.71L622.31 408.80L623.59 409.88L624.86 410.98L626.13 412.07L627.40 413.16L628.67 414.26L629.94 415.35L631.20 416.45L632.47 417.55L633.73 418.65L635.00 419.75L636.26 420.85L637.52 421.95L638.78 423.05L640.04 424.16L641.30 425.27L642.56 426.37L643.82 427.48L645.07 428.59L646.33 429.71L647.58 430.82L648.84 431.93L650.09 433.05L651.34 434.14L652.59 435.24L653.84 436.34L655.08 437.43L656.33 438.53L657.58 439.64L658.82 440.74L660.06 441.84L661.31 442.95L662.55 444.05L663.79 445.16L665.03 446.27L666.27 447.38L667.50 448.49L668.74 449.61L669.97 450.72L671.21 451.84L672.44 452.96L673.67 454.07L674.90 455.19L676.13 456.27L677.36 457.35L678.59 458.43L679.81 459.50L681.04 460.58L682.26 461.67L683.49 462.75L684.71 463.83L685.93 464.92" stroke="#3441a2" stroke-width="3.8" fill="none" stroke-linejoin="round" stroke-dasharray="11.6 9.6"/>
<path d="M139.72 65.85L141.16 66.73L142.61 67.62L144.05 68.50L145.49 69.39L146.94 70.28L148.38 71.16L149.83 72.05L151.27 72.94L152.71 73.82L154.16 74.71L155.60 75.60L157.05 76.49L158.49 77.38L159.93 78.26L161.38 79.15L162.82 80.04L164.26 80.93L165.71 81.82L167.15 82.71L168.60 83.60L170.04 84.49L171.48 85.38L172.92 86.27L174.37 87.16L175.81 88.05L177.25 88.94L178.70 89.84L180.14 90.73L181.58 91.62L183.03 92.51L184.47 93.40L185.91 94.30L187.35 95.19L188.79 96.08L190.24 96.98L191.68 97.87L193.12 98.77L194.56 99.66L196.00 100.56L197.45 101.45L198.89 102.35L200.33 103.24L201.77 104.14L203.21 105.04L204.65 105.93L206.09 106.83L207.53 107.73L208.97 108.63L210.42 109.53L211.86 110.42L213.30 111.32L214.74 112.22L216.18 113.12L217.62 114.02L219.06 114.92L220.49 115.82L221.93 116.72L223.37 117.62L224.81 118.53L226.25 119.43L227.69 120.33L229.13 121.23L230.57 122.14L232.00 123.04L233.44 123.94L234.88 124.85L236.32 125.75L237.75 126.66L239.19 127.56L240.63 128.47L242.06 129.37L243.50 130.28L244.94 131.19L246.37 132.10L247.81 133.00L249.24 133.91L250.68 134.82L252.12 135.73L253.55 136.64L254.99 137.55L256.42 138.46L257.85 139.37L259.29 140.28L260.72 141.19L262.16 142.10L263.59 143.02L265.02 143.93L266.45 144.84L267.89 145.76L269.32 146.67L270.75 147.58L272.18 148.50L273.61 149.41L275.05 150.33L276.48 151.25L277.91 152.16L279.34 153.08L280.77 154.00L282.20 154.92L283.63 155.84L285.06 156.75L286.49 157.67L287.91 158.59L289.34 159.52L290.77 160.44L292.20 161.36L293.63 162.28L295.05 163.20L296.48 164.13L297.91 165.05L299.33 165.97L300.76 166.90L302.19 167.82L303.61 168.75L305.04 169.67L306.46 170.60L307.89 171.53L309.31 172.46L310.73 173.38L312.16 174.31L313.58 175.24L315.00 176.17L316.42 177.10L317.85 178.03L319.27 178.96L320.69 179.90L322.11 180.83L323.53 181.76L324.95 182.70L326.37 183.63L327.79 184.56L329.21 185.50L330.63 186.44L332.05 187.37L333.46 188.31L334.88 189.25L336.30 190.18L337.72 191.12L339.13 192.06L340.55 193.00L341.96 193.94L343.38 194.88L344.79 195.82L346.21 196.77L347.62 197.71L349.04 198.65L350.45 199.60L351.86 200.54L353.28 201.49L354.69 202.43L356.10 203.38L357.51 204.33L358.92 205.27L360.33 206.22L361.74 207.17L363.15 208.12L364.56 209.07L365.97 210.02L367.38 210.97L368.78 211.93L370.19 212.88L371.60 213.83L373.00 214.79L374.41 215.74L375.81 216.70L377.22 217.65L378.62 218.61L380.03 219.57L381.43 220.52L382.83 221.48L384.24 222.44L385.64 223.40L387.04 224.36L388.44 225.32L389.84 226.29L391.24 227.25L392.64 228.21L394.04 229.18L395.44 230.14L396.84 231.11L398.23 232.07L399.63 233.04L401.03 234.01L402.42 234.98L403.82 235.94L405.21 236.91L406.61 237.89L408.00 238.86L409.40 239.83L410.79 240.80L412.18 241.77L413.57 242.75L414.96 243.72L416.35 244.70L417.74 245.67L419.13 246.65L420.52 247.63L421.91 248.61L423.30 249.59L424.69 250.57L426.07 251.55L427.46 252.53L428.85 253.51L430.23 254.50L431.62 255.48L433.00 256.46L434.38 257.45L435.77 258.44L437.15 259.42L438.53 260.41L439.91 261.40L441.29 262.39L442.67 263.38L444.05 264.37L445.43 265.36L446.81 266.35L448.18 267.35L449.56 268.34L450.94 269.33L452.31 270.33L453.69 271.33L455.06 272.32L456.44 273.32L457.81 274.32L459.18 275.32L460.55 276.32L461.92 277.32L463.30 278.33L464.66 279.33L466.03 280.33L467.40 281.34L468.77 282.34L470.14 283.35L471.50 284.36L472.87 285.36L474.24 286.37L475.60 287.38L476.96 288.39L478.33 289.41L479.69 290.42L481.05 291.43L482.41 292.45L483.78 293.46L485.14 294.48L486.49 295.49L487.85 296.51L489.21 297.53L490.57 298.55L491.92 299.57L493.28 300.59L494.64 301.61L495.99 302.64L497.34 303.66L498.70 304.68L500.05 305.71L501.40 306.74L502.75 307.76L504.10 308.79L505.45 309.82L506.80 310.85L508.15 311.88L509.49 312.92L510.84 313.95L512.19 314.98L513.53 316.02L514.88 317.05L516.22 318.09L517.56 319.13L518.90 320.17L520.25 321.21L521.59 322.25L522.93 323.29L524.27 324.33L525.60 325.37L526.94 326.42L528.28 327.46L529.61 328.51L530.95 329.56L532.28 330.61L533.62 331.66L534.95 332.71L536.28 333.76L537.61 334.81L538.94 335.86L540.27 336.92L541.60 337.97L542.93 339.03L544.26 340.09L545.58 341.14L546.91 342.20L548.23 343.26L549.56 344.33L550.88 345.39L552.20 346.45L553.52 347.52L554.85 348.58L556.17 349.65L557.48 350.71L558.80 351.78L560.12 352.85L561.44 353.92L562.75 354.99L564.07 356.07L565.38 357.14L566.69 358.22L568.01 359.29L569.32 360.37L570.63 361.45L571.94 362.52L573.25 363.60L574.55 364.69L575.86 365.77L577.17 366.85L578.47 367.93L579.78 369.02L581.08 370.11L582.38 371.19L583.69 372.28L584.99 373.37L586.29 374.46L587.59 375.55L588.88 376.65L590.18 377.74L591.48 378.84L592.77 379.93L594.07 381.03L595.36 382.13L596.65 383.23L597.95 384.33L599.24 385.43L600.53 386.53L601.82 387.64L603.10 388.74L604.39 389.85L605.68 390.96L606.96 392.07L608.25 393.17L609.53 394.29L610.81 395.40L612.10 396.51L613.38 397.62L614.66 398.74L615.93 399.86L617.21 400.97L618.49 402.09L619.76 403.21L621.04 404.33L622.31 405.46L623.59 406.58L624.86 407.71L626.13 408.83L627.40 409.96L628.67 411.09L629.94 412.22L631.20 413.35L632.47 414.48L633.73 415.61L635.00 416.75L636.26 417.88L637.52 419.02L638.78 420.16L640.04 421.29L641.30 422.43L642.56 423.58L643.82 424.72L645.07 425.86L646.33 427.01L647.58 428.15L648.84 429.30L650.09 430.45L651.34 431.60L652.59 432.75L653.84 433.90L655.08 435.06L656.33 436.21L657.58 437.37L658.82 438.53L660.06 439.69L661.31 440.85L662.55 442.01L663.79 443.17L665.03 444.33L666.27 445.50L667.50 446.66L668.74 447.83L669.97 449.00L671.21 450.17L672.44 451.34L673.67 452.52L674.90 453.69L676.13 454.86L677.36 456.04L678.59 457.22L679.81 458.40L681.04 459.58L682.26 460.76L683.49 461.94L684.71 463.13L685.93 464.31" stroke="#3441a2" stroke-width="3.2" fill="none" stroke-linejoin="round"/>
<path d="M139.72 57.85L141.16 58.74L142.61 59.63L144.05 60.52L145.49 61.42L146.94 62.31L148.38 63.21L149.83 64.10L151.27 65.00L152.71 65.89L154.16 66.79L155.60 67.68L157.05 68.58L158.49 69.47L159.93 70.37L161.38 71.26L162.82 72.16L164.26 73.06L165.71 73.95L167.15 74.85L168.60 75.75L170.04 76.65L171.48 77.54L172.92 78.44L174.37 79.34L175.81 80.24L177.25 81.14L178.70 82.04L180.14 82.94L181.58 83.83L183.03 84.73L184.47 85.63L185.91 86.54L187.35 87.44L188.79 88.34L190.24 89.24L191.68 90.14L193.12 91.04L194.56 91.94L196.00 92.85L197.45 93.75L198.89 94.65L200.33 95.56L201.77 96.46L203.21 97.36L204.65 98.27L206.09 99.17L207.53 100.08L208.97 100.98L210.42 101.89L211.86 102.80L213.30 103.70L214.74 104.61L216.18 105.52L217.62 106.42L219.06 107.33L220.49 108.24L221.93 109.15L223.37 110.06L224.81 110.96L226.25 111.87L227.69 112.78L229.13 113.69L230.57 114.60L232.00 115.52L233.44 116.43L234.88 117.34L236.32 118.25L237.75 119.16L239.19 120.08L240.63 120.99L242.06 121.90L243.50 122.82L244.94 123.73L246.37 124.65L247.81 125.56L249.24 126.48L250.68 127.39L252.12 128.31L253.55 129.23L254.99 130.14L256.42 131.06L257.85 131.98L259.29 132.90L260.72 133.82L262.16 134.74L263.59 135.66L265.02 136.58L266.45 137.50L267.89 138.42L269.32 139.34L270.75 140.26L272.18 141.18L273.61 142.11L275.05 143.03L276.48 143.95L277.91 144.88L279.34 145.80L280.77 146.73L282.20 147.65L283.63 148.58L285.06 149.51L286.49 150.43L287.91 151.36L289.34 152.29L290.77 153.22L292.20 154.14L293.63 155.07L295.05 156.00L296.48 156.93L297.91 157.87L299.33 158.80L300.76 159.73L302.19 160.66L303.61 161.59L305.04 162.53L306.46 163.46L307.89 164.40L309.31 165.33L310.73 166.27L312.16 167.20L313.58 168.14L315.00 169.08L316.42 170.01L317.85 170.95L319.27 171.89L320.69 172.83L322.11 173.77L323.53 174.71L324.95 175.65L326.37 176.59L327.79 177.54L329.21 178.48L330.63 179.42L332.05 180.36L333.46 181.31L334.88 182.25L336.30 183.20L337.72 184.15L339.13 185.09L340.55 186.04L341.96 186.99L343.38 187.94L344.79 188.88L346.21 189.83L347.62 190.78L349.04 191.73L350.45 192.69L351.86 193.64L353.28 194.59L354.69 195.54L356.10 196.50L357.51 197.45L358.92 198.41L360.33 199.36L361.74 200.32L363.15 201.28L364.56 202.23L365.97 203.19L367.38 204.15L368.78 205.11L370.19 206.07L371.60 207.03L373.00 207.99L374.41 208.95L375.81 209.92L377.22 210.88L378.62 211.84L380.03 212.81L381.43 213.77L382.83 214.74L384.24 215.71L385.64 216.67L387.04 217.64L388.44 218.61L389.84 219.58L391.24 220.55L392.64 221.52L394.04 222.49L395.44 223.46L396.84 224.44L398.23 225.41L399.63 226.38L401.03 227.36L402.42 228.33L403.82 229.31L405.21 230.29L406.61 231.26L408.00 232.24L409.40 233.22L410.79 234.20L412.18 235.18L413.57 236.16L414.96 237.15L416.35 238.13L417.74 239.11L419.13 240.10L420.52 241.08L421.91 242.07L423.30 243.05L424.69 244.04L426.07 245.03L427.46 246.02L428.85 247.01L430.23 248.00L431.62 248.99L433.00 249.99L434.38 250.99L435.77 251.99L437.15 252.99L438.53 253.99L439.91 254.99L441.29 255.99L442.67 256.99L444.05 258.00L445.43 259.00L446.81 260.01L448.18 261.01L449.56 262.02L450.94 263.03L452.31 264.04L453.69 265.05L455.06 266.06L456.44 267.07L457.81 268.08L459.18 269.09L460.55 270.10L461.92 271.12L463.30 272.13L464.66 273.15L466.03 274.16L467.40 275.18L468.77 276.20L470.14 277.22L471.50 278.24L472.87 279.26L474.24 280.28L475.60 281.30L476.96 282.33L478.33 283.35L479.69 284.38L481.05 285.40L482.41 286.43L483.78 287.46L485.14 288.49L486.49 289.51L487.85 290.54L489.21 291.58L490.57 292.61L491.92 293.64L493.28 294.67L494.64 295.71L495.99 296.74L497.34 297.78L498.70 298.82L500.05 299.86L501.40 300.90L502.75 301.94L504.10 302.98L505.45 304.02L506.80 305.06L508.15 306.10L509.49 307.15L510.84 308.19L512.19 309.24L513.53 310.29L514.88 311.34L516.22 312.39L517.56 313.44L518.90 314.49L520.25 315.54L521.59 316.59L522.93 317.65L524.27 318.70L525.60 319.76L526.94 320.81L528.28 321.87L529.61 322.93L530.95 323.99L532.28 325.05L533.62 326.11L534.95 327.18L536.28 328.24L537.61 329.30L538.94 330.37L540.27 331.44L541.60 332.50L542.93 333.57L544.26 334.64L545.58 335.71L546.91 336.78L548.23 337.86L549.56 338.93L550.88 340.00L552.20 341.08L553.52 342.16L554.85 343.23L556.17 344.31L557.48 345.39L558.80 346.47L560.12 347.55L561.44 348.65L562.75 349.74L564.07 350.83L565.38 351.93L566.69 353.03L568.01 354.12L569.32 355.22L570.63 356.32L571.94 357.42L573.25 358.53L574.55 359.63L575.86 360.73L577.17 361.84L578.47 362.94L579.78 364.05L581.08 365.16L582.38 366.27L583.69 367.38L584.99 368.49L586.29 369.60L587.59 370.71L588.88 371.83L590.18 372.94L591.48 374.06L592.77 375.18L594.07 376.30L595.36 377.42L596.65 378.54L597.95 379.66L599.24 380.78L600.53 381.91L601.82 383.03L603.10 384.16L604.39 385.29L605.68 386.42L606.96 387.55L608.25 388.68L609.53 389.81L610.81 390.94L612.10 392.08L613.38 393.21L614.66 394.35L615.93 395.49L617.21 396.63L618.49 397.77L619.76 398.91L621.04 400.08L622.31 401.25L623.59 402.42L624.86 403.60L626.13 404.78L627.40 405.95L628.67 407.13L629.94 408.31L631.20 409.49L632.47 410.68L633.73 411.86L635.00 413.05L636.26 414.23L637.52 415.42L638.78 416.61L640.04 417.80L641.30 418.99L642.56 420.18L643.82 421.37L645.07 422.57L646.33 423.76L647.58 424.96L648.84 426.16L650.09 427.36L651.34 428.58L652.59 429.81L653.84 431.03L655.08 432.26L656.33 433.49L657.58 434.72L658.82 435.96L660.06 437.19L661.31 438.42L662.55 439.66L663.79 440.90L665.03 442.13L666.27 443.37L667.50 444.61L668.74 445.86L669.97 447.10L671.21 448.34L672.44 449.59L673.67 450.84L674.90 452.08L676.13 453.38L677.36 454.68L678.59 455.98L679.81 457.28L681.04 458.58L682.26 459.89L683.49 461.19L684.71 462.50L685.93 463.81" stroke="#3441a2" stroke-width="3.4" fill="none" stroke-linejoin="round" stroke-dasharray="3.2 2.2"/>
<path d="M139.22 274.33L140.62 273.80L142.01 273.27L143.41 272.75L144.81 272.22L146.21 271.69L147.61 271.17L149.01 270.64L150.41 270.12L151.81 269.59L153.21 269.07L154.61 268.54L156.01 268.02L157.41 267.49L158.81 266.97L160.21 266.44L161.61 265.92L163.01 265.40L164.41 264.87L165.81 264.35L167.21 263.83L168.61 263.30L170.02 262.78L171.42 262.26L172.82 261.74L174.22 261.21L175.62 260.69L177.02 260.17L178.42 259.65L179.83 259.13L181.23 258.60L182.63 258.08L184.03 257.56L185.43 257.04L186.83 256.52L188.24 256.00L189.64 255.48L191.04 254.96L192.44 254.43L193.84 253.91L195.25 253.39L196.65 252.87L198.05 252.35L199.45 251.83L200.86 251.31L202.26 250.79L203.66 250.27L205.06 249.75L206.47 249.23L207.87 248.71L209.27 248.19L210.67 247.67L212.08 247.14L213.48 246.62L214.88 246.10L216.28 245.58L217.69 245.06L219.09 244.54L220.49 244.02L221.89 243.50L223.30 242.98L224.70 242.46L226.10 241.94L227.50 241.42L228.91 240.89L230.31 240.37L231.71 239.85L233.11 239.33L234.51 238.81L235.92 238.29L237.32 237.76L238.72 237.24L240.12 236.72L241.53 236.20L242.93 235.68L244.33 235.15L245.73 234.63L247.13 234.11L248.54 233.59L249.94 233.06L251.34 232.54L252.74 232.02L254.14 231.49L255.54 230.97L256.95 230.44L258.35 229.92L259.75 229.40L261.15 228.87L262.55 228.35L263.95 227.82L265.35 227.30L266.76 226.77L268.16 226.25L269.56 225.72L270.96 225.19L272.36 224.67L273.76 224.14L275.16 223.61L276.56 223.09L277.96 222.56L279.36 222.03L280.76 221.50L282.16 220.97L283.56 220.45L284.96 219.92L286.36 219.39L287.76 218.86L289.16 218.33L290.56 217.80L291.96 217.27L293.35 216.74L294.75 216.21L296.15 215.67L297.55 215.14L298.95 214.61L300.35 214.08L301.75 213.54L303.14 213.01L304.54 212.48L305.94 211.94L307.34 211.41L308.73 210.87L310.13 210.34L311.53 209.80L312.92 209.27L314.32 208.73L315.72 208.19L317.11 207.65L318.51 207.12L319.91 206.58L321.30 206.04L322.70 205.50L324.09 204.96L325.49 204.42L326.88 203.88L328.28 203.34L329.67 202.80L331.07 202.26L332.46 201.71L333.85 201.17L335.25 200.63L336.64 200.08L338.03 199.54L339.43 198.99L340.82 198.45L342.21 197.90L343.61 197.35L345.00 196.81L346.39 196.26L347.78 195.71L349.17 195.16L350.56 194.61L351.96 194.06L353.35 193.51L354.74 192.96L356.13 192.41L357.52 191.86L358.91 191.30L360.30 190.75L361.69 190.20L363.08 189.64L364.46 189.09L365.85 188.53L367.24 187.97L368.63 187.42L370.02 186.86L371.40 186.30L372.79 185.74L374.18 185.18L375.56 184.62L376.95 184.06L378.34 183.50L379.72 182.93L381.11 182.37L382.49 181.81L383.88 181.24L385.26 180.68L386.65 180.11L388.03 179.54L389.42 178.98L390.80 178.41L392.18 177.84L393.56 177.27L394.95 176.70L396.33 176.13L397.71 175.56L399.09 174.98L400.47 174.41L401.85 173.84L403.23 173.26L404.61 172.68L405.99 172.11L407.37 171.53L408.75 170.95L410.13 170.37L411.51 169.79L412.89 169.21L414.27 168.63L415.64 168.05L417.02 167.47L418.40 166.88L419.77 166.30L421.15 165.71L422.53 165.13L423.90 164.54L425.28 163.95L426.65 163.36L428.02 162.77L429.40 162.18L430.77 161.59L432.14 161.00L433.52 160.40L434.89 159.81L436.26 159.21L437.63 158.62L439.00 158.02L440.37 157.42L441.74 156.82L443.11 156.22L444.48 155.62L445.85 155.02L447.22 154.42L448.59 153.81L449.96 153.21L451.32 152.60L452.69 152.00L454.06 151.39L455.42 150.78L456.79 150.17L458.16 149.56L459.52 148.95L460.88 148.33L462.25 147.72L463.61 147.11L464.97 146.49L466.34 145.87L467.70 145.26L469.06 144.64L470.42 144.02L471.78 143.40L473.14 142.77L474.50 142.15L475.86 141.53L477.22 140.90L478.58 140.27L479.94 139.65L481.30 139.02L482.65 138.39L484.01 137.76L485.37 137.13L486.72 136.49L488.08 135.86L489.43 135.22L490.79 134.59L492.14 133.95L493.49 133.31L494.85 132.68L496.20 132.04L497.55 131.39L498.90 130.75L500.25 130.11L501.60 129.47L502.96 128.82L504.31 128.18L505.66 127.53L507.00 126.88L508.35 126.24L509.70 125.59L511.05 124.94L512.40 124.29L513.75 123.64L515.09 122.99L516.44 122.34L517.79 121.68L519.13 121.03L520.48 120.38L521.83 119.72L523.17 119.07L524.52 118.41L525.86 117.75L527.21 117.10L528.55 116.44L529.90 115.78L531.24 115.12L532.58 114.46L533.93 113.80L535.27 113.14L536.61 112.48L537.96 111.82L539.30 111.16L540.64 110.50L541.98 109.84L543.32 109.17L544.67 108.51L546.01 107.85L547.35 107.18L548.69 106.52L550.03 105.85L551.37 105.19L552.71 104.53L554.05 103.86L555.39 103.19L556.73 102.53L558.07 101.86L559.41 101.20L560.75 100.53L562.09 99.87L563.43 99.20L564.77 98.53L566.11 97.87L567.45 97.20L568.79 96.53L570.13 95.87L571.47 95.20L572.81 94.53L574.14 93.87L575.48 93.20L576.82 92.53L578.16 91.87L579.50 91.20L580.84 90.53L582.18 89.87L583.52 89.20L584.85 88.53L586.19 87.87L587.53 87.20L588.87 86.54L590.21 85.87L591.55 85.21L592.89 84.54L594.22 83.88L595.56 83.21L596.90 82.55L598.24 81.88L599.58 81.22L600.92 80.56L602.26 79.89L603.60 79.23L604.94 78.57L606.27 77.91L607.61 77.25L608.95 76.58L610.29 75.92L611.63 75.26L612.97 74.60L614.31 73.95L615.65 73.29L616.99 72.63L618.33 71.97L619.67 71.31L621.01 70.66L622.36 70.01L623.70 69.35L625.04 68.70L626.38 68.06L627.73 67.41L629.07 66.77L630.42 66.13L631.77 65.49L633.12 64.86L634.47 64.23L635.82 63.60L637.17 62.98L638.52 62.36L639.88 61.75L641.24 61.14L642.60 60.54L643.96 59.94L645.32 59.35L646.69 58.76L648.06 58.18L649.43 57.61L650.80 57.04L652.17 56.48L653.55 55.93L654.93 55.39L656.31 54.85L657.70 54.32L659.09 53.80L660.48 53.28L661.88 52.78L663.27 52.28L664.68 51.79L666.08 51.31L667.49 50.85L668.90 50.39L670.32 49.94L671.74 49.50L673.16 49.07L674.59 48.65L676.02 48.25L677.45 47.85L678.89 47.47L680.34 47.10L681.78 46.74L683.24 46.39L684.69 46.05L686.16 45.73L687.62 45.42L689.09 45.12" stroke="#d91f10" stroke-width="3.6" fill="none" stroke-linejoin="round" stroke-dasharray="12 9.7"/>
<path d="M139.19 368.85L140.58 368.30L141.97 367.74L143.36 367.19L144.75 366.63L146.14 366.08L147.53 365.53L148.92 364.97L150.31 364.42L151.71 363.87L153.10 363.32L154.49 362.77L155.88 362.22L157.28 361.67L158.67 361.13L160.06 360.58L161.46 360.03L162.85 359.49L164.24 358.94L165.64 358.40L167.03 357.85L168.43 357.31L169.82 356.77L171.22 356.22L172.61 355.68L174.01 355.14L175.41 354.60L176.80 354.06L178.20 353.52L179.60 352.98L180.99 352.44L182.39 351.90L183.79 351.37L185.19 350.83L186.58 350.29L187.98 349.76L189.38 349.22L190.78 348.69L192.18 348.15L193.58 347.62L194.98 347.08L196.38 346.55L197.77 346.02L199.17 345.48L200.57 344.95L201.97 344.42L203.37 343.89L204.77 343.35L206.17 342.82L207.58 342.29L208.98 341.76L210.38 341.23L211.78 340.70L213.18 340.17L214.58 339.64L215.98 339.11L217.38 338.59L218.79 338.06L220.19 337.53L221.59 337.00L222.99 336.47L224.39 335.95L225.79 335.42L227.20 334.89L228.60 334.37L230.00 333.84L231.40 333.31L232.81 332.79L234.21 332.26L235.61 331.73L237.02 331.21L238.42 330.68L239.82 330.16L241.22 329.63L242.63 329.11L244.03 328.58L245.43 328.06L246.84 327.53L248.24 327.01L249.64 326.48L251.05 325.96L252.45 325.43L253.85 324.91L255.26 324.39L256.66 323.86L258.06 323.34L259.47 322.81L260.87 322.29L262.27 321.76L263.68 321.24L265.08 320.71L266.48 320.19L267.89 319.67L269.29 319.14L270.70 318.62L272.10 318.09L273.50 317.57L274.91 317.04L276.31 316.52L277.71 315.99L279.12 315.47L280.52 314.94L281.92 314.42L283.32 313.89L284.73 313.37L286.13 312.84L287.53 312.31L288.94 311.79L290.34 311.26L291.74 310.74L293.14 310.21L294.55 309.68L295.95 309.15L297.35 308.63L298.75 308.10L300.16 307.57L301.56 307.04L302.96 306.52L304.36 305.99L305.76 305.46L307.17 304.93L308.57 304.40L309.97 303.87L311.37 303.34L312.77 302.81L314.17 302.28L315.57 301.75L316.97 301.22L318.37 300.69L319.77 300.16L321.18 299.62L322.58 299.09L323.98 298.56L325.38 298.02L326.77 297.49L328.17 296.96L329.57 296.42L330.97 295.89L332.37 295.35L333.77 294.82L335.17 294.28L336.57 293.74L337.97 293.20L339.36 292.67L340.76 292.13L342.16 291.59L343.56 291.05L344.95 290.51L346.35 289.97L347.75 289.43L349.14 288.89L350.54 288.35L351.94 287.80L353.33 287.26L354.73 286.72L356.12 286.17L357.52 285.63L358.91 285.08L360.31 284.54L361.70 283.99L363.09 283.44L364.49 282.90L365.88 282.35L367.27 281.80L368.67 281.25L370.06 280.70L371.45 280.15L372.84 279.59L374.24 279.04L375.63 278.49L377.02 277.94L378.41 277.38L379.80 276.83L381.19 276.27L382.58 275.71L383.97 275.15L385.36 274.60L386.75 274.04L388.14 273.48L389.53 272.92L390.91 272.35L392.30 271.79L393.69 271.23L395.07 270.67L396.46 270.10L397.85 269.54L399.23 268.97L400.62 268.40L402.00 267.83L403.39 267.26L404.77 266.69L406.16 266.12L407.54 265.55L408.92 264.98L410.31 264.41L411.69 263.83L413.07 263.26L414.45 262.68L415.83 262.10L417.21 261.52L418.59 260.94L419.97 260.36L421.35 259.78L422.73 259.20L424.11 258.62L425.49 258.03L426.87 257.45L428.25 256.86L429.62 256.27L431.00 255.69L432.38 255.10L433.75 254.51L435.13 253.91L436.50 253.32L437.87 252.73L439.25 252.13L440.62 251.54L441.99 250.94L443.37 250.34L444.74 249.74L446.11 249.14L447.48 248.54L448.85 247.94L450.22 247.33L451.59 246.73L452.96 246.12L454.33 245.52L455.70 244.91L457.06 244.30L458.43 243.69L459.80 243.07L461.16 242.46L462.53 241.85L463.89 241.23L465.26 240.61L466.62 239.99L467.98 239.37L469.34 238.75L470.71 238.13L472.07 237.51L473.43 236.88L474.79 236.25L476.15 235.63L477.51 235.00L478.87 234.37L480.22 233.73L481.58 233.10L482.94 232.47L484.29 231.83L485.65 231.19L487.00 230.56L488.36 229.91L489.71 229.27L491.07 228.63L492.42 227.99L493.77 227.34L495.12 226.69L496.47 226.04L497.82 225.39L499.17 224.74L500.52 224.09L501.87 223.43L503.22 222.78L504.56 222.12L505.91 221.46L507.26 220.80L508.60 220.14L509.94 219.47L511.29 218.81L512.63 218.14L513.97 217.47L515.31 216.80L516.66 216.13L518.00 215.46L519.33 214.78L520.67 214.11L522.01 213.43L523.35 212.75L524.69 212.07L526.02 211.38L527.36 210.70L528.69 210.01L530.03 209.32L531.36 208.63L532.69 207.94L534.02 207.25L535.35 206.55L536.68 205.86L538.01 205.16L539.34 204.46L540.67 203.76L542.00 203.05L543.32 202.35L544.65 201.64L545.97 200.93L547.30 200.22L548.62 199.51L549.95 198.80L551.27 198.09L552.59 197.37L553.92 196.66L555.24 195.94L556.56 195.23L557.88 194.51L559.20 193.79L560.52 193.08L561.84 192.36L563.16 191.64L564.48 190.92L565.80 190.20L567.12 189.48L568.44 188.77L569.76 188.05L571.08 187.33L572.40 186.61L573.72 185.90L575.05 185.18L576.37 184.47L577.69 183.75L579.01 183.04L580.33 182.33L581.65 181.61L582.98 180.90L584.30 180.19L585.62 179.49L586.95 178.78L588.27 178.08L589.59 177.37L590.92 176.67L592.25 175.97L593.57 175.28L594.90 174.58L596.23 173.89L597.56 173.20L598.89 172.51L600.22 171.82L601.55 171.14L602.88 170.46L604.22 169.78L605.55 169.10L606.89 168.43L608.22 167.76L609.56 167.09L610.90 166.43L612.24 165.77L613.58 165.11L614.93 164.46L616.27 163.81L617.62 163.16L618.96 162.52L620.31 161.88L621.66 161.24L623.01 160.61L624.36 159.99L625.72 159.36L627.07 158.74L628.43 158.13L629.79 157.52L631.15 156.92L632.51 156.31L633.88 155.72L635.24 155.13L636.61 154.54L637.98 153.96L639.35 153.38L640.73 152.81L642.10 152.25L643.48 151.69L644.86 151.13L646.24 150.59L647.62 150.04L649.01 149.50L650.40 148.97L651.79 148.45L653.18 147.93L654.58 147.41L655.97 146.91L657.37 146.41L658.78 145.91L660.18 145.43L661.59 144.96L663.00 144.49L664.42 144.04L665.84 143.60L667.26 143.17L668.69 142.75L670.12 142.34L671.56 141.95L673.00 141.58L674.45 141.22L675.90 140.87L677.36 140.55L678.82 140.24L680.29 139.94L681.76 139.67L683.24 139.42L684.73 139.18L686.22 138.97L687.72 138.78L689.23 138.61" stroke="#d91f10" stroke-width="3.2" fill="none" stroke-linejoin="round"/>
<path d="M139.22 455.94L140.63 455.42L142.04 454.90L143.44 454.38L144.85 453.85L146.25 453.33L147.66 452.81L149.07 452.29L150.47 451.76L151.88 451.24L153.28 450.72L154.69 450.20L156.10 449.68L157.50 449.16L158.91 448.63L160.32 448.11L161.72 447.59L163.13 447.07L164.54 446.55L165.94 446.03L167.35 445.50L168.76 444.98L170.16 444.46L171.57 443.94L172.98 443.42L174.38 442.90L175.79 442.37L177.20 441.85L178.61 441.33L180.01 440.81L181.42 440.29L182.83 439.77L184.23 439.24L185.64 438.72L187.05 438.20L188.46 437.68L189.86 437.16L191.27 436.63L192.68 436.11L194.08 435.59L195.49 435.07L196.90 434.55L198.31 434.02L199.71 433.50L201.12 432.98L202.53 432.46L203.93 431.93L205.34 431.41L206.75 430.89L208.15 430.36L209.56 429.84L210.97 429.32L212.38 428.79L213.78 428.27L215.19 427.75L216.60 427.22L218.00 426.70L219.41 426.17L220.82 425.65L222.22 425.12L223.63 424.60L225.04 424.07L226.44 423.55L227.85 423.02L229.25 422.50L230.66 421.97L232.07 421.45L233.47 420.92L234.88 420.39L236.29 419.87L237.69 419.34L239.10 418.81L240.50 418.29L241.91 417.76L243.31 417.23L244.72 416.70L246.13 416.17L247.53 415.65L248.94 415.12L250.34 414.59L251.75 414.06L253.15 413.53L254.56 413.00L255.96 412.47L257.37 411.94L258.77 411.41L260.18 410.88L261.58 410.35L262.98 409.81L264.39 409.28L265.79 408.75L267.20 408.22L268.60 407.69L270.00 407.15L271.41 406.62L272.81 406.09L274.21 405.55L275.62 405.02L277.02 404.48L278.42 403.95L279.83 403.41L281.23 402.88L282.63 402.34L284.03 401.80L285.44 401.27L286.84 400.73L288.24 400.19L289.64 399.65L291.04 399.11L292.45 398.58L293.85 398.04L295.25 397.50L296.65 396.96L298.05 396.42L299.45 395.87L300.85 395.33L302.25 394.79L303.65 394.25L305.05 393.71L306.45 393.16L307.85 392.62L309.25 392.08L310.65 391.53L312.05 390.99L313.45 390.44L314.85 389.90L316.24 389.35L317.64 388.80L319.04 388.26L320.44 387.71L321.84 387.16L323.23 386.61L324.63 386.06L326.03 385.51L327.42 384.96L328.82 384.41L330.22 383.86L331.61 383.31L333.01 382.75L334.41 382.20L335.80 381.65L337.20 381.09L338.59 380.54L339.99 379.98L341.38 379.43L342.78 378.87L344.17 378.32L345.56 377.76L346.96 377.20L348.35 376.64L349.74 376.08L351.14 375.52L352.53 374.96L353.92 374.40L355.31 373.84L356.71 373.28L358.10 372.72L359.49 372.15L360.88 371.59L362.27 371.02L363.66 370.46L365.05 369.89L366.44 369.33L367.83 368.76L369.22 368.19L370.61 367.62L372.00 367.05L373.39 366.48L374.78 365.91L376.17 365.34L377.55 364.77L378.94 364.20L380.33 363.62L381.71 363.05L383.10 362.48L384.49 361.90L385.87 361.33L387.26 360.75L388.65 360.17L390.03 359.59L391.42 359.01L392.80 358.43L394.18 357.85L395.57 357.27L396.95 356.69L398.33 356.11L399.72 355.53L401.10 354.94L402.48 354.36L403.86 353.77L405.25 353.19L406.63 352.60L408.01 352.01L409.39 351.42L410.77 350.83L412.15 350.24L413.53 349.65L414.91 349.06L416.29 348.47L417.66 347.87L419.04 347.28L420.42 346.68L421.80 346.09L423.17 345.49L424.55 344.89L425.93 344.30L427.30 343.70L428.68 343.10L430.05 342.50L431.43 341.89L432.80 341.29L434.18 340.69L435.55 340.08L436.92 339.48L438.30 338.87L439.67 338.26L441.04 337.66L442.41 337.05L443.79 336.44L445.16 335.83L446.53 335.22L447.90 334.60L449.27 333.99L450.64 333.38L452.00 332.76L453.37 332.14L454.74 331.53L456.11 330.91L457.48 330.29L458.84 329.67L460.21 329.05L461.58 328.43L462.94 327.81L464.31 327.18L465.67 326.56L467.04 325.93L468.40 325.31L469.76 324.68L471.13 324.05L472.49 323.42L473.85 322.79L475.21 322.16L476.57 321.52L477.93 320.89L479.29 320.26L480.65 319.62L482.01 318.98L483.37 318.35L484.73 317.71L486.09 317.07L487.45 316.43L488.80 315.78L490.16 315.14L491.52 314.50L492.87 313.85L494.23 313.21L495.58 312.56L496.94 311.91L498.29 311.26L499.64 310.61L501.00 309.96L502.35 309.31L503.70 308.65L505.05 308.00L506.40 307.34L507.75 306.69L509.10 306.03L510.45 305.37L511.80 304.71L513.15 304.05L514.50 303.38L515.84 302.72L517.19 302.05L518.54 301.39L519.88 300.72L521.23 300.05L522.57 299.38L523.92 298.71L525.26 298.04L526.60 297.37L527.95 296.69L529.29 296.02L530.63 295.34L531.97 294.66L533.31 293.98L534.65 293.30L535.99 292.62L537.33 291.94L538.67 291.25L540.01 290.57L541.34 289.88L542.68 289.19L544.02 288.51L545.35 287.82L546.69 287.12L548.02 286.43L549.35 285.74L550.69 285.04L552.02 284.35L553.35 283.65L554.68 282.95L556.02 282.25L557.35 281.55L558.68 280.85L560.00 280.14L561.33 279.44L562.66 278.73L563.99 278.02L565.32 277.31L566.64 276.61L567.97 275.90L569.30 275.19L570.62 274.48L571.95 273.76L573.27 273.05L574.60 272.34L575.92 271.63L577.25 270.92L578.57 270.20L579.90 269.49L581.22 268.78L582.55 268.07L583.87 267.35L585.20 266.64L586.52 265.93L587.84 265.22L589.17 264.51L590.49 263.80L591.82 263.09L593.14 262.38L594.47 261.67L595.79 260.96L597.12 260.26L598.44 259.55L599.77 258.85L601.10 258.14L602.42 257.44L603.75 256.74L605.08 256.04L606.41 255.34L607.73 254.65L609.06 253.95L610.39 253.26L611.72 252.57L613.05 251.88L614.38 251.19L615.72 250.50L617.05 249.82L618.38 249.14L619.71 248.46L621.05 247.78L622.38 247.11L623.72 246.44L625.06 245.77L626.40 245.10L627.73 244.44L629.07 243.78L630.41 243.12L631.76 242.46L633.10 241.81L634.44 241.16L635.79 240.51L637.13 239.87L638.48 239.23L639.83 238.59L641.18 237.96L642.53 237.33L643.88 236.71L645.23 236.08L646.59 235.46L647.94 234.85L649.30 234.24L650.66 233.63L652.01 233.03L653.38 232.43L654.74 231.83L656.10 231.25L657.47 230.66L658.84 230.09L660.21 229.52L661.59 228.97L662.97 228.43L664.36 227.91L665.75 227.40L667.15 226.91L668.55 226.44L669.97 225.99L671.39 225.57L672.82 225.17L674.26 224.80L675.71 224.46L677.17 224.15L678.64 223.87L680.12 223.62L681.61 223.41L683.12 223.24L684.64 223.10L686.18 223.01L687.73 222.96L689.29 222.95" stroke="#d91f10" stroke-width="3.4" fill="none" stroke-linejoin="round" stroke-dasharray="3.2 2.4"/>
</g>
<g clip-path="url(#cB)">
<path d="M1044.48 402.88L1045.65 402.59L1046.81 402.30L1047.98 402.01L1049.14 401.71L1050.31 401.42L1051.47 401.13L1052.63 400.84L1053.80 400.54L1054.96 400.25L1056.13 399.95L1057.29 399.66L1058.46 399.36L1059.62 399.07L1060.79 398.77L1061.95 398.47L1063.11 398.18L1064.28 397.88L1065.44 397.58L1066.60 397.29L1067.77 396.99L1068.93 396.69L1070.10 396.39L1071.26 396.09L1072.42 395.79L1073.59 395.49L1074.75 395.19L1075.91 394.89L1077.08 394.59L1078.24 394.29L1079.40 393.99L1080.57 393.69L1081.73 393.39L1082.89 393.08L1084.06 392.78L1085.22 392.48L1086.38 392.18L1087.54 391.87L1088.71 391.57L1089.87 391.26L1091.03 390.96L1092.20 390.66L1093.36 390.35L1094.52 390.05L1095.68 389.74L1096.85 389.43L1098.01 389.13L1099.17 388.82L1100.33 388.52L1101.49 388.21L1102.66 387.90L1103.82 387.59L1104.98 387.29L1106.14 386.98L1107.30 386.67L1108.47 386.36L1109.63 386.05L1110.79 385.74L1111.95 385.43L1113.11 385.13L1114.27 384.82L1115.44 384.51L1116.60 384.19L1117.76 383.88L1118.92 383.57L1120.08 383.26L1121.24 382.95L1122.41 382.64L1123.57 382.33L1124.73 382.02L1125.89 381.70L1127.05 381.39L1128.21 381.08L1129.37 380.77L1130.53 380.45L1131.69 380.14L1132.85 379.83L1134.02 379.51L1135.18 379.20L1136.34 378.88L1137.50 378.57L1138.66 378.25L1139.82 377.94L1140.98 377.62L1142.14 377.31L1143.30 376.99L1144.46 376.68L1145.62 376.36L1146.78 376.04L1147.94 375.73L1149.10 375.41L1150.26 375.09L1151.42 374.78L1152.58 374.46L1153.74 374.14L1154.90 373.82L1156.06 373.51L1157.22 373.19L1158.38 372.87L1159.54 372.55L1160.70 372.23L1161.86 371.91L1163.02 371.60L1164.18 371.28L1165.34 370.96L1166.50 370.64L1167.66 370.32L1168.82 370.00L1169.98 369.68L1171.14 369.36L1172.30 369.04L1173.46 368.72L1174.62 368.40L1175.78 368.08L1176.94 367.75L1178.10 367.43L1179.26 367.11L1180.42 366.79L1181.58 366.47L1182.73 366.15L1183.89 365.83L1185.05 365.50L1186.21 365.18L1187.37 364.86L1188.53 364.54L1189.69 364.21L1190.85 363.89L1192.01 363.57L1193.17 363.25L1194.32 362.92L1195.48 362.60L1196.64 362.28L1197.80 361.95L1198.96 361.63L1200.12 361.30L1201.28 360.98L1202.44 360.66L1203.59 360.33L1204.75 360.01L1205.91 359.68L1207.07 359.36L1208.23 359.03L1209.39 358.71L1210.55 358.39L1211.70 358.06L1212.86 357.74L1214.02 357.41L1215.18 357.08L1216.34 356.76L1217.50 356.43L1218.66 356.11L1219.81 355.78L1220.97 355.46L1222.13 355.13L1223.29 354.81L1224.45 354.48L1225.60 354.15L1226.76 353.83L1227.92 353.50L1229.08 353.18L1230.24 352.85L1231.40 352.52L1232.55 352.20L1233.71 351.87L1234.87 351.54L1236.03 351.22L1237.19 350.89L1238.34 350.56L1239.50 350.24L1240.66 349.91L1241.82 349.58L1242.98 349.26L1244.13 348.93L1245.29 348.60L1246.45 348.27L1247.61 347.95L1248.76 347.62L1249.92 347.29L1251.08 346.96L1252.24 346.64L1253.40 346.31L1254.55 345.98L1255.71 345.65L1256.87 345.33L1258.03 345.00L1259.18 344.67L1260.34 344.34L1261.50 344.02L1262.66 343.69L1263.81 343.36L1264.97 343.03L1266.13 342.71L1267.29 342.38L1268.44 342.05L1269.60 341.72L1270.76 341.40L1271.92 341.07L1273.07 340.74L1274.23 340.41L1275.39 340.08L1276.55 339.76L1277.70 339.43L1278.86 339.10L1280.02 338.77L1281.18 338.44L1282.33 338.12L1283.49 337.79L1284.65 337.46L1285.81 337.13L1286.96 336.81L1288.12 336.48L1289.28 336.15L1290.44 335.82L1291.59 335.50L1292.75 335.17L1293.91 334.84L1295.07 334.51L1296.22 334.19L1297.38 333.86L1298.54 333.53L1299.70 333.20L1300.85 332.88L1302.01 332.55L1303.17 332.22L1304.32 331.89L1305.48 331.57L1306.64 331.24L1307.80 330.91L1308.95 330.58L1310.11 330.26L1311.27 329.93L1312.43 329.60L1313.58 329.28L1314.74 328.95L1315.90 328.62L1317.05 328.30L1318.21 327.97L1319.37 327.64L1320.53 327.32L1321.68 326.99L1322.84 326.66L1324.00 326.34L1325.16 326.01L1326.31 325.69L1327.47 325.36L1328.63 325.03L1329.78 324.71L1330.94 324.38L1332.10 324.06L1333.26 323.73L1334.41 323.40L1335.57 323.08L1336.73 322.75L1337.89 322.43L1339.04 322.10L1340.20 321.78L1341.36 321.45L1342.51 321.13L1343.67 320.80L1344.83 320.48L1345.99 320.15L1347.14 319.83L1348.30 319.51L1349.46 319.18L1350.62 318.86L1351.77 318.53L1352.93 318.21L1354.09 317.89L1355.25 317.56L1356.40 317.24L1357.56 316.92L1358.72 316.59L1359.88 316.27L1361.03 315.95L1362.19 315.62L1363.35 315.30L1364.50 314.98L1365.66 314.66L1366.82 314.33L1367.98 314.01L1369.13 313.69L1370.29 313.37L1371.45 313.05L1372.61 312.73L1373.77 312.40L1374.92 312.08L1376.08 311.76L1377.24 311.44L1378.40 311.12L1379.55 310.80L1380.71 310.48L1381.87 310.16L1383.03 309.84L1384.18 309.52L1385.34 309.20L1386.50 308.88L1387.66 308.56L1388.81 308.24L1389.97 307.92L1391.13 307.60L1392.29 307.28L1393.45 306.97L1394.60 306.65L1395.76 306.33L1396.92 306.01L1398.08 305.69L1399.24 305.38L1400.39 305.06L1401.55 304.74L1402.71 304.42L1403.87 304.11L1405.02 303.79L1406.18 303.47L1407.34 303.16L1408.50 302.84L1409.66 302.53L1410.82 302.21L1411.97 301.90L1413.13 301.58L1414.29 301.27L1415.45 300.95L1416.61 300.64L1417.76 300.32L1418.92 300.01L1420.08 299.70L1421.24 299.38L1422.40 299.07L1423.56 298.76L1424.71 298.44L1425.87 298.13L1427.03 297.82L1428.19 297.51L1429.35 297.19L1430.51 296.88L1431.66 296.57L1432.82 296.26L1433.98 295.95L1435.14 295.64L1436.30 295.33L1437.46 295.02L1438.62 294.71L1439.78 294.40L1440.94 294.09L1442.10 293.78L1443.25 293.47L1444.41 293.16L1445.57 292.86L1446.73 292.55L1447.89 292.24L1449.05 291.93L1450.21 291.63L1451.37 291.32L1452.53 291.02L1453.70 290.71L1454.86 290.41L1456.02 290.10L1457.18 289.80L1458.34 289.49L1459.50 289.19L1460.66 288.89L1461.83 288.59L1462.99 288.28L1464.15 287.98L1465.31 287.68L1466.48 287.38L1467.64 287.08L1468.80 286.78L1469.97 286.48L1471.13 286.18L1472.30 285.88L1473.46 285.58L1474.63 285.29L1475.79 284.99L1476.96 284.69L1478.12 284.40L1479.29 284.10L1480.46 283.81L1481.62 283.51L1482.79 283.22L1483.96 282.93L1485.13 282.63L1486.29 282.34L1487.46 282.05L1488.63 281.76L1489.80 281.47L1490.97 281.18L1492.14 280.89L1493.31 280.60L1494.48 280.31L1495.65 280.02L1496.83 279.74L1498.00 279.45L1499.17 279.16L1500.35 278.88L1501.52 278.59L1502.69 278.31L1503.87 278.03L1505.04 277.75L1506.22 277.47L1507.39 277.19L1508.57 276.91L1509.75 276.64L1510.93 276.37L1512.10 276.10L1513.28 275.83L1514.46 275.57L1515.64 275.31L1516.82 275.05L1518.01 274.80L1519.19 274.55L1520.37 274.31L1521.55 274.06L1522.74 273.83L1523.92 273.59L1525.11 273.37L1526.29 273.14L1527.48 272.93L1528.67 272.71L1529.85 272.51L1531.04 272.31L1532.23 272.11L1533.42 271.92L1534.61 271.74L1535.81 271.57L1537.00 271.40L1538.19 271.23L1539.39 271.08L1540.58 270.93L1541.78 270.79L1542.97 270.66L1544.17 270.54L1545.37 270.42L1546.57 270.31L1547.77 270.21L1548.97 270.12L1550.17 270.04L1551.38 269.97L1552.58 269.91L1553.79 269.86L1554.99 269.81L1556.20 269.78L1557.41 269.76L1558.62 269.74L1559.83 269.74L1561.04 269.75L1562.25 269.77L1563.46 269.80L1564.68 269.85L1565.89 269.90L1567.11 269.97L1568.32 270.04L1569.54 270.13L1570.76 270.24L1571.98 270.35L1573.19 270.48L1574.41 270.63L1575.62 270.78L1576.83 270.96L1578.04 271.14L1579.25 271.34L1580.45 271.56L1581.65 271.79L1582.84 272.04L1584.03 272.31L1585.21 272.59L1586.38 272.88L1587.55 273.20L1588.71 273.53L1589.87 273.88L1591.01 274.25L1592.15 274.64L1593.28 275.05L1594.40 275.47L1595.51 275.92L1596.60 276.39L1597.69 276.87L1598.77 277.38L1599.83 277.90L1600.88 278.45L1601.92 279.02L1602.95 279.61L1603.96 280.21L1604.96 280.84L1605.94 281.49L1606.91 282.16L1607.86 282.84L1608.80 283.55L1609.72 284.28L1610.63 285.02L1611.52 285.79L1612.39 286.57L1613.24 287.37L1614.07 288.19L1614.89 289.03L1615.69 289.89L1616.47 290.77L1617.24 291.66L1617.99 292.56L1618.72 293.48L1619.43 294.42L1620.13 295.37L1620.80 296.33L1621.47 297.31L1622.11 298.30L1622.74 299.30L1623.35 300.32L1623.95 301.34L1624.52 302.38L1625.08 303.43L1625.63 304.48L1626.16 305.55L1626.67 306.62L1627.16 307.70L1627.64 308.79L1628.11 309.88L1628.55 310.99L1628.98 312.09L1629.40 313.21L1629.80 314.33L1630.19 315.46L1630.56 316.59L1630.91 317.73L1631.26 318.87L1631.59 320.02L1631.90 321.18L1632.21 322.34L1632.50 323.50L1632.77 324.67L1633.04 325.85L1633.29 327.03L1633.53 328.21L1633.76 329.40L1633.98 330.59L1634.19 331.78L1634.39 332.98L1634.58 334.18L1634.75 335.39L1634.92 336.60L1635.08 337.81L1635.23 339.02L1635.37 340.24L1635.50 341.46L1635.63 342.68L1635.75 343.91L1635.85 345.14L1635.96 346.37L1636.05 347.60L1636.14 348.83L1636.22 350.06L1636.30 351.30L1636.37 352.54L1636.43 353.77L1636.49 355.01L1636.54 356.25L1636.59 357.49L1636.64 358.73L1636.68 359.97L1636.71 361.21L1636.75 362.45L1636.78 363.69L1636.80 364.93L1636.83 366.17L1636.85 367.41L1636.87 368.65L1636.89 369.89L1636.91 371.12L1636.92 372.36L1636.94 373.59L1636.95 374.82L1636.97 376.05L1636.98 377.28L1636.99 378.51L1637.01 379.73L1637.02 380.95L1637.04 382.17L1637.06 383.39L1637.08 384.60L1637.10 385.81L1637.12 387.02L1637.15 388.22L1637.18 389.42L1637.21 390.62L1637.25 391.81L1637.29 393.00L1637.33 394.19L1637.38 395.37L1637.44 396.55L1637.49 397.72L1637.56 398.88L1637.63 400.05L1637.70 401.20L1637.78 402.36L1637.87 403.50L1637.96 404.65L1638.06 405.78L1638.17 406.91L1638.29 408.04L1638.41 409.15L1638.54 410.27L1638.68 411.37" stroke="#d91f10" stroke-width="3.2" fill="none" stroke-linejoin="round"/>
<path d="M1044.50 362.59L1045.66 362.29L1046.81 361.99L1047.97 361.69L1049.12 361.38L1050.28 361.08L1051.44 360.78L1052.59 360.47L1053.75 360.17L1054.90 359.86L1056.06 359.56L1057.21 359.26L1058.37 358.95L1059.52 358.65L1060.68 358.34L1061.84 358.04L1062.99 357.73L1064.15 357.43L1065.30 357.12L1066.46 356.82L1067.61 356.51L1068.77 356.21L1069.92 355.90L1071.08 355.60L1072.23 355.29L1073.39 354.99L1074.54 354.68L1075.70 354.37L1076.85 354.07L1078.01 353.76L1079.16 353.45L1080.32 353.15L1081.47 352.84L1082.63 352.53L1083.78 352.23L1084.94 351.92L1086.09 351.61L1087.25 351.31L1088.40 351.00L1089.56 350.69L1090.71 350.38L1091.87 350.07L1093.02 349.77L1094.17 349.46L1095.33 349.15L1096.48 348.84L1097.64 348.53L1098.79 348.23L1099.95 347.92L1101.10 347.61L1102.26 347.30L1103.41 346.99L1104.56 346.68L1105.72 346.37L1106.87 346.06L1108.03 345.75L1109.18 345.44L1110.34 345.13L1111.49 344.82L1112.64 344.51L1113.80 344.20L1114.95 343.89L1116.11 343.58L1117.26 343.27L1118.41 342.96L1119.57 342.65L1120.72 342.34L1121.88 342.03L1123.03 341.72L1124.18 341.41L1125.34 341.10L1126.49 340.79L1127.64 340.48L1128.80 340.16L1129.95 339.85L1131.11 339.54L1132.26 339.23L1133.41 338.92L1134.57 338.61L1135.72 338.29L1136.87 337.98L1138.03 337.67L1139.18 337.36L1140.33 337.05L1141.49 336.73L1142.64 336.42L1143.79 336.11L1144.95 335.79L1146.10 335.48L1147.25 335.17L1148.41 334.86L1149.56 334.54L1150.71 334.23L1151.87 333.92L1153.02 333.60L1154.17 333.29L1155.33 332.98L1156.48 332.66L1157.63 332.35L1158.79 332.03L1159.94 331.72L1161.09 331.41L1162.25 331.09L1163.40 330.78L1164.55 330.46L1165.71 330.15L1166.86 329.83L1168.01 329.52L1169.16 329.20L1170.32 328.89L1171.47 328.58L1172.62 328.26L1173.78 327.95L1174.93 327.63L1176.08 327.31L1177.23 327.00L1178.39 326.68L1179.54 326.37L1180.69 326.05L1181.84 325.74L1183.00 325.42L1184.15 325.11L1185.30 324.79L1186.46 324.47L1187.61 324.16L1188.76 323.84L1189.91 323.53L1191.07 323.21L1192.22 322.89L1193.37 322.58L1194.52 322.26L1195.68 321.94L1196.83 321.63L1197.98 321.31L1199.13 320.99L1200.28 320.68L1201.44 320.36L1202.59 320.04L1203.74 319.73L1204.89 319.41L1206.05 319.09L1207.20 318.77L1208.35 318.46L1209.50 318.14L1210.66 317.82L1211.81 317.50L1212.96 317.19L1214.11 316.87L1215.26 316.55L1216.42 316.23L1217.57 315.92L1218.72 315.60L1219.87 315.28L1221.02 314.96L1222.18 314.64L1223.33 314.33L1224.48 314.01L1225.63 313.69L1226.78 313.37L1227.94 313.05L1229.09 312.73L1230.24 312.41L1231.39 312.10L1232.54 311.78L1233.70 311.46L1234.85 311.14L1236.00 310.82L1237.15 310.50L1238.30 310.18L1239.45 309.86L1240.61 309.54L1241.76 309.23L1242.91 308.91L1244.06 308.59L1245.21 308.27L1246.37 307.95L1247.52 307.63L1248.67 307.31L1249.82 306.99L1250.97 306.67L1252.12 306.35L1253.27 306.03L1254.43 305.71L1255.58 305.39L1256.73 305.07L1257.88 304.75L1259.03 304.43L1260.18 304.11L1261.34 303.79L1262.49 303.47L1263.64 303.15L1264.79 302.83L1265.94 302.51L1267.09 302.19L1268.24 301.87L1269.40 301.55L1270.55 301.23L1271.70 300.91L1272.85 300.59L1274.00 300.27L1275.15 299.95L1276.30 299.63L1277.46 299.31L1278.61 298.98L1279.76 298.66L1280.91 298.34L1282.06 298.02L1283.21 297.70L1284.36 297.38L1285.51 297.06L1286.67 296.74L1287.82 296.42L1288.97 296.10L1290.12 295.77L1291.27 295.45L1292.42 295.13L1293.57 294.81L1294.72 294.49L1295.88 294.17L1297.03 293.85L1298.18 293.53L1299.33 293.20L1300.48 292.88L1301.63 292.56L1302.78 292.24L1303.93 291.92L1305.08 291.60L1306.24 291.28L1307.39 290.95L1308.54 290.63L1309.69 290.31L1310.84 289.99L1311.99 289.67L1313.14 289.35L1314.29 289.02L1315.44 288.70L1316.59 288.38L1317.75 288.06L1318.90 287.74L1320.05 287.41L1321.20 287.09L1322.35 286.77L1323.50 286.45L1324.65 286.13L1325.80 285.80L1326.95 285.48L1328.10 285.16L1329.26 284.84L1330.41 284.52L1331.56 284.19L1332.71 283.87L1333.86 283.55L1335.01 283.23L1336.16 282.91L1337.31 282.58L1338.46 282.26L1339.61 281.94L1340.76 281.62L1341.92 281.29L1343.07 280.97L1344.22 280.65L1345.37 280.33L1346.52 280.01L1347.67 279.68L1348.82 279.36L1349.97 279.04L1351.12 278.72L1352.27 278.39L1353.42 278.07L1354.57 277.75L1355.73 277.43L1356.88 277.10L1358.03 276.78L1359.18 276.46L1360.33 276.14L1361.48 275.81L1362.63 275.49L1363.78 275.17L1364.93 274.85L1366.08 274.52L1367.23 274.20L1368.38 273.88L1369.53 273.56L1370.69 273.23L1371.84 272.91L1372.99 272.59L1374.14 272.27L1375.29 271.94L1376.44 271.62L1377.59 271.30L1378.74 270.98L1379.89 270.65L1381.04 270.33L1382.19 270.01L1383.34 269.69L1384.49 269.36L1385.64 269.04L1386.80 268.72L1387.95 268.40L1389.10 268.07L1390.25 267.75L1391.40 267.43L1392.55 267.11L1393.70 266.78L1394.85 266.46L1396.00 266.14L1397.15 265.82L1398.30 265.50L1399.45 265.17L1400.60 264.85L1401.75 264.53L1402.91 264.21L1404.06 263.88L1405.21 263.56L1406.36 263.24L1407.51 262.92L1408.66 262.59L1409.81 262.27L1410.96 261.95L1412.11 261.63L1413.26 261.30L1414.41 260.98L1415.56 260.66L1416.71 260.34L1417.86 260.02L1419.02 259.69L1420.17 259.37L1421.32 259.05L1422.47 258.73L1423.62 258.41L1424.77 258.08L1425.92 257.76L1427.07 257.44L1428.22 257.12L1429.37 256.80L1430.52 256.47L1431.67 256.15L1432.82 255.83L1433.98 255.51L1435.13 255.19L1436.28 254.87L1437.43 254.55L1438.58 254.23L1439.73 253.91L1440.88 253.59L1442.03 253.27L1443.19 252.95L1444.34 252.64L1445.49 252.32L1446.64 252.01L1447.79 251.69L1448.95 251.38L1450.10 251.06L1451.25 250.75L1452.40 250.44L1453.56 250.13L1454.71 249.82L1455.86 249.52L1457.02 249.21L1458.17 248.90L1459.33 248.60L1460.48 248.30L1461.64 248.00L1462.79 247.70L1463.95 247.40L1465.10 247.10L1466.26 246.81L1467.42 246.51L1468.57 246.22L1469.73 245.93L1470.89 245.64L1472.05 245.36L1473.21 245.07L1474.36 244.79L1475.52 244.51L1476.68 244.23L1477.84 243.95L1479.00 243.68L1480.16 243.40L1481.33 243.13L1482.49 242.86L1483.65 242.60L1484.81 242.33L1485.98 242.07L1487.14 241.81L1488.30 241.56L1489.47 241.30L1490.63 241.05L1491.80 240.80L1492.97 240.55L1494.13 240.31L1495.30 240.07L1496.47 239.83L1497.64 239.60L1498.81 239.36L1499.98 239.13L1501.15 238.91L1502.32 238.68L1503.49 238.46L1504.66 238.25L1505.84 238.03L1507.01 237.82L1508.19 237.61L1509.36 237.41L1510.54 237.21L1511.71 237.01L1512.89 236.81L1514.07 236.62L1515.25 236.44L1516.43 236.25L1517.61 236.07L1518.79 235.90L1519.97 235.72L1521.15 235.55L1522.33 235.39L1523.52 235.23L1524.70 235.07L1525.89 234.92L1527.08 234.77L1528.26 234.62L1529.45 234.48L1530.64 234.34L1531.83 234.21L1533.02 234.08L1534.21 233.96L1535.41 233.83L1536.60 233.72L1537.80 233.61L1538.99 233.50L1540.19 233.40L1541.38 233.30L1542.58 233.21L1543.78 233.12L1544.98 233.03L1546.18 232.95L1547.39 232.88L1548.59 232.81L1549.79 232.75L1551.00 232.69L1552.21 232.63L1553.41 232.58L1554.62 232.54L1555.83 232.50L1557.04 232.46L1558.25 232.43L1559.47 232.41L1560.68 232.39L1561.89 232.38L1563.11 232.37L1564.33 232.37L1565.55 232.37L1566.76 232.38L1567.98 232.40L1569.20 232.43L1570.41 232.47L1571.63 232.51L1572.84 232.57L1574.05 232.64L1575.26 232.72L1576.46 232.81L1577.66 232.91L1578.86 233.03L1580.06 233.16L1581.25 233.31L1582.43 233.47L1583.61 233.65L1584.79 233.84L1585.96 234.05L1587.12 234.28L1588.27 234.53L1589.42 234.80L1590.56 235.09L1591.70 235.39L1592.82 235.72L1593.94 236.07L1595.05 236.44L1596.15 236.84L1597.24 237.26L1598.32 237.70L1599.39 238.17L1600.45 238.66L1601.50 239.17L1602.53 239.71L1603.55 240.28L1604.56 240.86L1605.56 241.47L1606.54 242.10L1607.50 242.76L1608.45 243.44L1609.38 244.14L1610.30 244.86L1611.19 245.61L1612.07 246.37L1612.94 247.16L1613.78 247.98L1614.60 248.81L1615.41 249.66L1616.19 250.53L1616.96 251.42L1617.71 252.33L1618.44 253.26L1619.16 254.20L1619.85 255.16L1620.53 256.14L1621.19 257.13L1621.83 258.14L1622.45 259.16L1623.06 260.19L1623.65 261.23L1624.22 262.29L1624.77 263.36L1625.31 264.44L1625.83 265.53L1626.33 266.62L1626.81 267.73L1627.28 268.84L1627.73 269.97L1628.16 271.09L1628.58 272.23L1628.98 273.37L1629.37 274.52L1629.73 275.67L1630.09 276.82L1630.43 277.99L1630.75 279.15L1631.07 280.32L1631.36 281.50L1631.65 282.67L1631.92 283.86L1632.18 285.04L1632.43 286.23L1632.67 287.42L1632.90 288.61L1633.12 289.81L1633.33 291.01L1633.52 292.21L1633.71 293.41L1633.89 294.61L1634.07 295.81L1634.23 297.02L1634.39 298.22L1634.54 299.43L1634.68 300.63L1634.82 301.84L1634.96 303.04L1635.08 304.24L1635.21 305.44L1635.32 306.64L1635.44 307.84L1635.55 309.04L1635.66 310.24L1635.76 311.43L1635.87 312.62L1635.96 313.81L1636.06 315.00L1636.15 316.19L1636.24 317.38L1636.33 318.56L1636.41 319.75L1636.50 320.93L1636.58 322.11L1636.65 323.29L1636.73 324.48L1636.80 325.66L1636.87 326.84L1636.94 328.02L1637.01 329.19L1637.07 330.37L1637.13 331.55L1637.19 332.73L1637.25 333.91L1637.31 335.09L1637.37 336.27L1637.42 337.45L1637.47 338.63L1637.53 339.81L1637.58 340.99L1637.63 342.17L1637.68 343.35L1637.73 344.53L1637.77 345.71L1637.82 346.90L1637.87 348.08L1637.91 349.27L1637.96 350.46L1638.00 351.65L1638.05 352.84L1638.09 354.03L1638.14 355.22L1638.18 356.41L1638.22 357.61L1638.27 358.81L1638.31 360.01L1638.36 361.21L1638.40 362.41L1638.45 363.62L1638.50 364.83L1638.54 366.04L1638.59 367.25L1638.64 368.47" stroke="#f8d000" stroke-width="3.2" fill="none" stroke-linejoin="round"/>
<path d="M1044.50 320.27L1045.64 319.98L1046.79 319.70L1047.94 319.41L1049.09 319.13L1050.24 318.84L1051.39 318.55L1052.54 318.27L1053.68 317.98L1054.83 317.69L1055.98 317.41L1057.13 317.12L1058.28 316.83L1059.43 316.54L1060.57 316.25L1061.72 315.96L1062.87 315.67L1064.02 315.38L1065.17 315.09L1066.31 314.80L1067.46 314.50L1068.61 314.21L1069.76 313.92L1070.91 313.63L1072.05 313.33L1073.20 313.04L1074.35 312.74L1075.50 312.45L1076.65 312.15L1077.79 311.86L1078.94 311.56L1080.09 311.27L1081.24 310.97L1082.38 310.67L1083.53 310.38L1084.68 310.08L1085.83 309.78L1086.97 309.48L1088.12 309.18L1089.27 308.89L1090.41 308.59L1091.56 308.29L1092.71 307.99L1093.86 307.69L1095.00 307.39L1096.15 307.08L1097.30 306.78L1098.44 306.48L1099.59 306.18L1100.74 305.88L1101.89 305.58L1103.03 305.27L1104.18 304.97L1105.33 304.67L1106.47 304.36L1107.62 304.06L1108.77 303.75L1109.91 303.45L1111.06 303.14L1112.21 302.84L1113.35 302.53L1114.50 302.23L1115.65 301.92L1116.79 301.61L1117.94 301.31L1119.08 301.00L1120.23 300.69L1121.38 300.39L1122.52 300.08L1123.67 299.77L1124.82 299.46L1125.96 299.15L1127.11 298.84L1128.25 298.53L1129.40 298.22L1130.55 297.91L1131.69 297.60L1132.84 297.29L1133.99 296.98L1135.13 296.67L1136.28 296.36L1137.42 296.05L1138.57 295.74L1139.71 295.43L1140.86 295.11L1142.01 294.80L1143.15 294.49L1144.30 294.18L1145.44 293.86L1146.59 293.55L1147.73 293.24L1148.88 292.92L1150.03 292.61L1151.17 292.30L1152.32 291.98L1153.46 291.67L1154.61 291.35L1155.75 291.04L1156.90 290.72L1158.04 290.41L1159.19 290.09L1160.34 289.78L1161.48 289.46L1162.63 289.14L1163.77 288.83L1164.92 288.51L1166.06 288.19L1167.21 287.88L1168.35 287.56L1169.50 287.24L1170.64 286.93L1171.79 286.61L1172.93 286.29L1174.08 285.97L1175.22 285.65L1176.37 285.34L1177.51 285.02L1178.66 284.70L1179.80 284.38L1180.95 284.06L1182.09 283.74L1183.24 283.42L1184.38 283.10L1185.53 282.78L1186.67 282.46L1187.82 282.14L1188.96 281.82L1190.11 281.50L1191.25 281.18L1192.40 280.86L1193.54 280.54L1194.69 280.22L1195.83 279.90L1196.97 279.58L1198.12 279.26L1199.26 278.94L1200.41 278.62L1201.55 278.29L1202.70 277.97L1203.84 277.65L1204.99 277.33L1206.13 277.01L1207.27 276.69L1208.42 276.36L1209.56 276.04L1210.71 275.72L1211.85 275.40L1213.00 275.07L1214.14 274.75L1215.29 274.43L1216.43 274.11L1217.57 273.78L1218.72 273.46L1219.86 273.14L1221.01 272.81L1222.15 272.49L1223.30 272.17L1224.44 271.84L1225.58 271.52L1226.73 271.20L1227.87 270.87L1229.02 270.55L1230.16 270.23L1231.30 269.90L1232.45 269.58L1233.59 269.26L1234.74 268.93L1235.88 268.61L1237.02 268.28L1238.17 267.96L1239.31 267.64L1240.46 267.31L1241.60 266.99L1242.74 266.66L1243.89 266.34L1245.03 266.02L1246.18 265.69L1247.32 265.37L1248.46 265.04L1249.61 264.72L1250.75 264.39L1251.89 264.07L1253.04 263.75L1254.18 263.42L1255.33 263.10L1256.47 262.77L1257.61 262.45L1258.76 262.12L1259.90 261.80L1261.04 261.48L1262.19 261.15L1263.33 260.83L1264.48 260.50L1265.62 260.18L1266.76 259.85L1267.91 259.53L1269.05 259.21L1270.19 258.88L1271.34 258.56L1272.48 258.23L1273.62 257.91L1274.77 257.58L1275.91 257.26L1277.05 256.94L1278.20 256.61L1279.34 256.29L1280.48 255.96L1281.63 255.64L1282.77 255.32L1283.92 254.99L1285.06 254.67L1286.20 254.35L1287.35 254.02L1288.49 253.70L1289.63 253.37L1290.78 253.05L1291.92 252.73L1293.06 252.40L1294.21 252.08L1295.35 251.76L1296.49 251.44L1297.64 251.11L1298.78 250.79L1299.92 250.47L1301.07 250.14L1302.21 249.82L1303.35 249.50L1304.50 249.18L1305.64 248.85L1306.78 248.53L1307.93 248.21L1309.07 247.89L1310.21 247.57L1311.36 247.24L1312.50 246.92L1313.64 246.60L1314.79 246.28L1315.93 245.96L1317.07 245.64L1318.22 245.31L1319.36 244.99L1320.50 244.67L1321.65 244.35L1322.79 244.03L1323.93 243.71L1325.08 243.39L1326.22 243.07L1327.36 242.75L1328.51 242.43L1329.65 242.11L1330.79 241.79L1331.93 241.47L1333.08 241.15L1334.22 240.83L1335.36 240.51L1336.51 240.19L1337.65 239.88L1338.79 239.56L1339.94 239.24L1341.08 238.92L1342.22 238.60L1343.37 238.28L1344.51 237.97L1345.65 237.65L1346.80 237.33L1347.94 237.01L1349.08 236.70L1350.23 236.38L1351.37 236.06L1352.51 235.75L1353.66 235.43L1354.80 235.11L1355.94 234.80L1357.09 234.48L1358.23 234.17L1359.37 233.85L1360.52 233.54L1361.66 233.22L1362.80 232.91L1363.94 232.59L1365.09 232.28L1366.23 231.97L1367.37 231.65L1368.52 231.34L1369.66 231.02L1370.80 230.71L1371.95 230.40L1373.09 230.09L1374.23 229.77L1375.38 229.46L1376.52 229.15L1377.66 228.84L1378.81 228.53L1379.95 228.21L1381.09 227.90L1382.24 227.59L1383.38 227.28L1384.52 226.97L1385.67 226.66L1386.81 226.35L1387.95 226.04L1389.10 225.73L1390.24 225.43L1391.38 225.12L1392.53 224.81L1393.67 224.50L1394.81 224.19L1395.96 223.88L1397.10 223.58L1398.24 223.27L1399.39 222.96L1400.53 222.66L1401.67 222.35L1402.82 222.05L1403.96 221.74L1405.10 221.43L1406.25 221.13L1407.39 220.82L1408.53 220.52L1409.68 220.22L1410.82 219.91L1411.96 219.61L1413.11 219.31L1414.25 219.00L1415.39 218.70L1416.54 218.40L1417.68 218.10L1418.82 217.80L1419.97 217.49L1421.11 217.19L1422.25 216.89L1423.40 216.59L1424.54 216.29L1425.68 215.99L1426.83 215.69L1427.97 215.40L1429.12 215.10L1430.26 214.80L1431.40 214.50L1432.55 214.20L1433.69 213.91L1434.83 213.61L1435.98 213.32L1437.12 213.02L1438.27 212.72L1439.41 212.43L1440.56 212.14L1441.70 211.84L1442.84 211.55L1443.99 211.26L1445.13 210.97L1446.28 210.68L1447.43 210.38L1448.57 210.10L1449.72 209.81L1450.86 209.52L1452.01 209.23L1453.16 208.94L1454.31 208.66L1455.45 208.37L1456.60 208.09L1457.75 207.80L1458.90 207.52L1460.05 207.24L1461.20 206.96L1462.35 206.67L1463.50 206.40L1464.65 206.12L1465.80 205.84L1466.95 205.56L1468.10 205.29L1469.25 205.01L1470.41 204.74L1471.56 204.46L1472.71 204.19L1473.87 203.92L1475.02 203.65L1476.18 203.38L1477.33 203.11L1478.49 202.85L1479.65 202.58L1480.81 202.32L1481.96 202.05L1483.12 201.79L1484.28 201.53L1485.44 201.27L1486.60 201.01L1487.77 200.75L1488.93 200.50L1490.09 200.24L1491.25 199.99L1492.42 199.73L1493.58 199.48L1494.75 199.23L1495.92 198.99L1497.08 198.74L1498.25 198.49L1499.42 198.25L1500.59 198.01L1501.76 197.76L1502.93 197.52L1504.11 197.29L1505.28 197.05L1506.45 196.81L1507.63 196.58L1508.80 196.35L1509.98 196.12L1511.16 195.89L1512.34 195.66L1513.52 195.43L1514.70 195.21L1515.88 194.99L1517.06 194.77L1518.25 194.55L1519.43 194.33L1520.62 194.11L1521.80 193.90L1522.99 193.69L1524.18 193.48L1525.37 193.27L1526.56 193.06L1527.75 192.86L1528.95 192.66L1530.14 192.46L1531.33 192.27L1532.53 192.09L1533.72 191.90L1534.92 191.72L1536.11 191.55L1537.31 191.38L1538.50 191.22L1539.70 191.07L1540.89 190.92L1542.09 190.78L1543.29 190.64L1544.48 190.51L1545.68 190.39L1546.87 190.28L1548.07 190.17L1549.26 190.08L1550.46 189.99L1551.65 189.91L1552.84 189.85L1554.04 189.79L1555.23 189.74L1556.42 189.70L1557.61 189.67L1558.80 189.66L1559.99 189.65L1561.17 189.66L1562.36 189.68L1563.55 189.71L1564.73 189.75L1565.91 189.81L1567.09 189.88L1568.27 189.96L1569.45 190.06L1570.63 190.17L1571.80 190.29L1572.98 190.43L1574.15 190.59L1575.32 190.76L1576.49 190.95L1577.65 191.15L1578.82 191.37L1579.98 191.60L1581.13 191.85L1582.29 192.12L1583.44 192.40L1584.59 192.70L1585.73 193.02L1586.87 193.35L1588.00 193.70L1589.13 194.07L1590.25 194.45L1591.36 194.85L1592.47 195.26L1593.57 195.69L1594.66 196.14L1595.74 196.60L1596.81 197.08L1597.88 197.58L1598.93 198.09L1599.98 198.62L1601.01 199.17L1602.03 199.73L1603.05 200.31L1604.05 200.90L1605.03 201.51L1606.01 202.14L1606.97 202.79L1607.92 203.45L1608.86 204.12L1609.78 204.82L1610.68 205.53L1611.57 206.26L1612.45 207.00L1613.31 207.76L1614.15 208.54L1614.98 209.33L1615.79 210.14L1616.58 210.97L1617.35 211.81L1618.11 212.67L1618.84 213.55L1619.56 214.44L1620.25 215.35L1620.93 216.27L1621.59 217.22L1622.22 218.18L1622.84 219.15L1623.43 220.14L1624.01 221.15L1624.56 222.17L1625.10 223.20L1625.62 224.25L1626.12 225.30L1626.61 226.37L1627.07 227.46L1627.52 228.55L1627.96 229.65L1628.38 230.76L1628.78 231.88L1629.17 233.01L1629.54 234.15L1629.90 235.29L1630.25 236.44L1630.58 237.60L1630.90 238.76L1631.21 239.93L1631.50 241.10L1631.78 242.27L1632.06 243.45L1632.32 244.63L1632.57 245.82L1632.81 247.00L1633.04 248.19L1633.26 249.38L1633.48 250.57L1633.68 251.76L1633.87 252.95L1634.06 254.15L1634.24 255.34L1634.40 256.54L1634.57 257.74L1634.72 258.94L1634.87 260.14L1635.01 261.34L1635.14 262.55L1635.26 263.75L1635.38 264.95L1635.50 266.16L1635.61 267.36L1635.71 268.57L1635.81 269.78L1635.90 270.98L1635.99 272.19L1636.07 273.39L1636.15 274.60L1636.22 275.81L1636.29 277.01L1636.36 278.22L1636.43 279.42L1636.49 280.63L1636.55 281.83L1636.61 283.03L1636.66 284.24L1636.71 285.44L1636.76 286.64L1636.81 287.84L1636.86 289.03L1636.91 290.23L1636.96 291.43L1637.00 292.62L1637.05 293.81L1637.10 295.01L1637.14 296.20L1637.19 297.38L1637.24 298.57L1637.29 299.75L1637.34 300.94L1637.40 302.11L1637.45 303.29L1637.51 304.47L1637.57 305.64L1637.63 306.81L1637.70 307.98L1637.77 309.14L1637.84 310.31L1637.91 311.47L1637.99 312.62L1638.08 313.78L1638.17 314.93L1638.26 316.07L1638.36 317.22L1638.47 318.36L1638.58 319.50L1638.69 320.63L1638.81 321.76L1638.94 322.88" stroke="#8fd8e6" stroke-width="3.2" fill="none" stroke-linejoin="round"/>
<path d="M1044.49 276.31L1045.63 276.01L1046.78 275.71L1047.92 275.41L1049.06 275.11L1050.20 274.81L1051.35 274.51L1052.49 274.21L1053.63 273.91L1054.77 273.61L1055.91 273.31L1057.06 273.01L1058.20 272.71L1059.34 272.41L1060.48 272.11L1061.62 271.81L1062.77 271.51L1063.91 271.21L1065.05 270.91L1066.19 270.60L1067.33 270.30L1068.47 270.00L1069.62 269.70L1070.76 269.40L1071.90 269.09L1073.04 268.79L1074.18 268.49L1075.32 268.19L1076.46 267.88L1077.61 267.58L1078.75 267.28L1079.89 266.97L1081.03 266.67L1082.17 266.37L1083.31 266.06L1084.45 265.76L1085.59 265.46L1086.73 265.15L1087.87 264.85L1089.01 264.54L1090.15 264.24L1091.29 263.94L1092.43 263.63L1093.57 263.33L1094.71 263.02L1095.86 262.72L1097.00 262.41L1098.14 262.11L1099.28 261.80L1100.42 261.50L1101.56 261.19L1102.70 260.88L1103.84 260.58L1104.98 260.27L1106.11 259.97L1107.25 259.66L1108.39 259.36L1109.53 259.05L1110.67 258.74L1111.81 258.44L1112.95 258.13L1114.09 257.82L1115.23 257.52L1116.37 257.21L1117.51 256.90L1118.65 256.59L1119.79 256.29L1120.93 255.98L1122.07 255.67L1123.21 255.36L1124.34 255.06L1125.48 254.75L1126.62 254.44L1127.76 254.13L1128.90 253.83L1130.04 253.52L1131.18 253.21L1132.32 252.90L1133.46 252.59L1134.59 252.28L1135.73 251.97L1136.87 251.67L1138.01 251.36L1139.15 251.05L1140.29 250.74L1141.43 250.43L1142.56 250.12L1143.70 249.81L1144.84 249.50L1145.98 249.19L1147.12 248.88L1148.26 248.57L1149.39 248.26L1150.53 247.95L1151.67 247.64L1152.81 247.33L1153.95 247.02L1155.08 246.71L1156.22 246.40L1157.36 246.09L1158.50 245.78L1159.64 245.47L1160.77 245.16L1161.91 244.85L1163.05 244.54L1164.19 244.23L1165.32 243.92L1166.46 243.61L1167.60 243.30L1168.74 242.98L1169.88 242.67L1171.01 242.36L1172.15 242.05L1173.29 241.74L1174.43 241.43L1175.56 241.12L1176.70 240.80L1177.84 240.49L1178.97 240.18L1180.11 239.87L1181.25 239.56L1182.39 239.24L1183.52 238.93L1184.66 238.62L1185.80 238.31L1186.94 238.00L1188.07 237.68L1189.21 237.37L1190.35 237.06L1191.48 236.75L1192.62 236.43L1193.76 236.12L1194.89 235.81L1196.03 235.50L1197.17 235.18L1198.31 234.87L1199.44 234.56L1200.58 234.24L1201.72 233.93L1202.85 233.62L1203.99 233.30L1205.13 232.99L1206.26 232.68L1207.40 232.36L1208.54 232.05L1209.67 231.74L1210.81 231.42L1211.95 231.11L1213.08 230.80L1214.22 230.48L1215.36 230.17L1216.49 229.85L1217.63 229.54L1218.77 229.23L1219.90 228.91L1221.04 228.60L1222.18 228.28L1223.31 227.97L1224.45 227.66L1225.59 227.34L1226.72 227.03L1227.86 226.71L1229.00 226.40L1230.13 226.08L1231.27 225.77L1232.40 225.46L1233.54 225.14L1234.68 224.83L1235.81 224.51L1236.95 224.20L1238.09 223.88L1239.22 223.57L1240.36 223.25L1241.50 222.94L1242.63 222.62L1243.77 222.31L1244.90 221.99L1246.04 221.68L1247.18 221.36L1248.31 221.05L1249.45 220.73L1250.59 220.42L1251.72 220.10L1252.86 219.79L1253.99 219.47L1255.13 219.16L1256.27 218.84L1257.40 218.53L1258.54 218.21L1259.68 217.90L1260.81 217.58L1261.95 217.27L1263.08 216.95L1264.22 216.64L1265.36 216.32L1266.49 216.01L1267.63 215.69L1268.77 215.37L1269.90 215.06L1271.04 214.74L1272.17 214.43L1273.31 214.11L1274.45 213.80L1275.58 213.48L1276.72 213.17L1277.85 212.85L1278.99 212.53L1280.13 212.22L1281.26 211.90L1282.40 211.59L1283.54 211.27L1284.67 210.96L1285.81 210.64L1286.94 210.33L1288.08 210.01L1289.22 209.69L1290.35 209.38L1291.49 209.06L1292.62 208.75L1293.76 208.43L1294.90 208.12L1296.03 207.80L1297.17 207.48L1298.31 207.17L1299.44 206.85L1300.58 206.54L1301.71 206.22L1302.85 205.91L1303.99 205.59L1305.12 205.27L1306.26 204.96L1307.40 204.64L1308.53 204.33L1309.67 204.01L1310.80 203.69L1311.94 203.38L1313.08 203.06L1314.21 202.75L1315.35 202.43L1316.49 202.12L1317.62 201.80L1318.76 201.48L1319.90 201.17L1321.03 200.85L1322.17 200.54L1323.31 200.22L1324.44 199.91L1325.58 199.59L1326.71 199.27L1327.85 198.96L1328.99 198.64L1330.12 198.33L1331.26 198.01L1332.40 197.70L1333.53 197.38L1334.67 197.07L1335.81 196.75L1336.94 196.43L1338.08 196.12L1339.22 195.80L1340.35 195.49L1341.49 195.17L1342.63 194.86L1343.76 194.54L1344.90 194.23L1346.04 193.91L1347.17 193.60L1348.31 193.28L1349.45 192.97L1350.58 192.65L1351.72 192.34L1352.86 192.02L1354.00 191.71L1355.13 191.39L1356.27 191.07L1357.41 190.76L1358.54 190.44L1359.68 190.13L1360.82 189.81L1361.95 189.50L1363.09 189.19L1364.23 188.87L1365.37 188.56L1366.50 188.24L1367.64 187.93L1368.78 187.61L1369.91 187.30L1371.05 186.98L1372.19 186.67L1373.33 186.35L1374.46 186.04L1375.60 185.72L1376.74 185.41L1377.88 185.09L1379.01 184.78L1380.15 184.47L1381.29 184.15L1382.43 183.84L1383.56 183.52L1384.70 183.21L1385.84 182.90L1386.98 182.58L1388.11 182.27L1389.25 181.95L1390.39 181.64L1391.53 181.33L1392.67 181.01L1393.80 180.70L1394.94 180.38L1396.08 180.07L1397.22 179.76L1398.36 179.44L1399.49 179.13L1400.63 178.82L1401.77 178.50L1402.91 178.19L1404.05 177.88L1405.18 177.56L1406.32 177.25L1407.46 176.94L1408.60 176.62L1409.74 176.31L1410.88 176.00L1412.01 175.69L1413.15 175.37L1414.29 175.06L1415.43 174.75L1416.57 174.43L1417.71 174.12L1418.85 173.81L1419.98 173.50L1421.12 173.18L1422.26 172.87L1423.40 172.56L1424.54 172.25L1425.68 171.94L1426.82 171.62L1427.96 171.31L1429.10 171.00L1430.24 170.69L1431.37 170.38L1432.51 170.07L1433.65 169.75L1434.79 169.44L1435.93 169.13L1437.07 168.82L1438.21 168.51L1439.35 168.21L1440.49 167.90L1441.63 167.59L1442.77 167.28L1443.91 166.98L1445.05 166.67L1446.19 166.37L1447.33 166.06L1448.48 165.76L1449.62 165.46L1450.76 165.16L1451.90 164.86L1453.04 164.56L1454.18 164.26L1455.33 163.96L1456.47 163.67L1457.61 163.37L1458.76 163.08L1459.90 162.79L1461.04 162.50L1462.19 162.21L1463.33 161.92L1464.48 161.64L1465.62 161.35L1466.77 161.07L1467.91 160.79L1469.06 160.51L1470.20 160.23L1471.35 159.96L1472.50 159.68L1473.64 159.41L1474.79 159.14L1475.94 158.87L1477.09 158.61L1478.24 158.34L1479.38 158.08L1480.53 157.82L1481.68 157.57L1482.83 157.31L1483.99 157.06L1485.14 156.81L1486.29 156.56L1487.44 156.32L1488.59 156.07L1489.75 155.83L1490.90 155.60L1492.05 155.36L1493.21 155.13L1494.36 154.90L1495.52 154.67L1496.68 154.45L1497.83 154.23L1498.99 154.01L1500.15 153.79L1501.31 153.58L1502.46 153.37L1503.62 153.17L1504.78 152.97L1505.94 152.77L1507.11 152.57L1508.27 152.38L1509.43 152.19L1510.59 152.00L1511.76 151.82L1512.92 151.64L1514.09 151.46L1515.25 151.29L1516.42 151.12L1517.59 150.96L1518.75 150.80L1519.92 150.64L1521.09 150.49L1522.26 150.34L1523.43 150.19L1524.60 150.05L1525.77 149.91L1526.95 149.78L1528.12 149.65L1529.29 149.52L1530.47 149.40L1531.64 149.28L1532.82 149.17L1534.00 149.06L1535.17 148.96L1536.35 148.86L1537.53 148.76L1538.71 148.67L1539.89 148.58L1541.08 148.50L1542.26 148.43L1543.44 148.35L1544.63 148.29L1545.81 148.22L1547.00 148.16L1548.19 148.11L1549.37 148.06L1550.56 148.02L1551.75 147.98L1552.94 147.95L1554.14 147.92L1555.33 147.90L1556.52 147.88L1557.72 147.87L1558.91 147.86L1560.11 147.86L1561.30 147.86L1562.50 147.87L1563.70 147.89L1564.90 147.91L1566.10 147.93L1567.30 147.97L1568.50 148.01L1569.70 148.06L1570.89 148.12L1572.09 148.19L1573.28 148.27L1574.47 148.36L1575.65 148.46L1576.84 148.57L1578.02 148.69L1579.19 148.83L1580.36 148.98L1581.52 149.14L1582.68 149.32L1583.84 149.51L1584.98 149.72L1586.12 149.94L1587.26 150.18L1588.38 150.44L1589.50 150.71L1590.61 151.00L1591.71 151.32L1592.80 151.64L1593.88 151.99L1594.96 152.36L1596.02 152.75L1597.07 153.16L1598.11 153.60L1599.14 154.05L1600.16 154.53L1601.16 155.03L1602.15 155.56L1603.13 156.11L1604.10 156.68L1605.05 157.28L1605.99 157.91L1606.91 158.56L1607.82 159.24L1608.71 159.94L1609.59 160.67L1610.45 161.43L1611.30 162.21L1612.13 163.01L1612.95 163.83L1613.75 164.68L1614.54 165.55L1615.31 166.43L1616.07 167.34L1616.81 168.26L1617.53 169.20L1618.24 170.16L1618.93 171.13L1619.61 172.12L1620.27 173.13L1620.92 174.15L1621.55 175.18L1622.16 176.22L1622.76 177.28L1623.34 178.34L1623.90 179.42L1624.45 180.50L1624.98 181.60L1625.50 182.70L1626.00 183.81L1626.48 184.92L1626.95 186.04L1627.40 187.17L1627.84 188.30L1628.26 189.44L1628.66 190.58L1629.05 191.73L1629.43 192.88L1629.79 194.03L1630.14 195.19L1630.48 196.35L1630.80 197.52L1631.11 198.68L1631.41 199.86L1631.70 201.03L1631.98 202.20L1632.24 203.38L1632.50 204.56L1632.74 205.74L1632.98 206.92L1633.20 208.10L1633.42 209.29L1633.63 210.47L1633.83 211.65L1634.02 212.84L1634.20 214.02L1634.38 215.20L1634.55 216.38L1634.71 217.56L1634.87 218.74L1635.02 219.92L1635.16 221.09L1635.30 222.26L1635.43 223.44L1635.56 224.61L1635.69 225.77L1635.80 226.94L1635.92 228.11L1636.03 229.27L1636.13 230.43L1636.23 231.60L1636.33 232.76L1636.42 233.92L1636.51 235.08L1636.60 236.24L1636.68 237.39L1636.76 238.55L1636.84 239.71L1636.91 240.87L1636.98 242.03L1637.05 243.18L1637.11 244.34L1637.17 245.50L1637.23 246.66L1637.29 247.82L1637.35 248.98L1637.40 250.14L1637.45 251.30L1637.51 252.46L1637.55 253.63L1637.60 254.79L1637.65 255.95L1637.70 257.12L1637.74 258.29L1637.79 259.46L1637.83 260.63L1637.88 261.80L1637.92 262.98L1637.97 264.15L1638.01 265.33L1638.06 266.51L1638.10 267.70L1638.15 268.88L1638.20 270.07L1638.24 271.26L1638.29 272.45L1638.34 273.65L1638.39 274.85L1638.45 276.05" stroke="#70c000" stroke-width="3.2" fill="none" stroke-linejoin="round"/>
<path d="M1044.50 230.45L1045.64 230.17L1046.77 229.89L1047.91 229.61L1049.05 229.33L1050.19 229.05L1051.33 228.77L1052.47 228.49L1053.61 228.21L1054.75 227.92L1055.89 227.64L1057.02 227.36L1058.16 227.07L1059.30 226.79L1060.44 226.50L1061.58 226.22L1062.72 225.93L1063.86 225.65L1064.99 225.36L1066.13 225.07L1067.27 224.79L1068.41 224.50L1069.55 224.21L1070.69 223.92L1071.82 223.63L1072.96 223.34L1074.10 223.05L1075.24 222.76L1076.38 222.47L1077.51 222.18L1078.65 221.89L1079.79 221.60L1080.93 221.31L1082.06 221.01L1083.20 220.72L1084.34 220.43L1085.48 220.13L1086.62 219.84L1087.75 219.54L1088.89 219.25L1090.03 218.95L1091.17 218.66L1092.30 218.36L1093.44 218.06L1094.58 217.77L1095.72 217.47L1096.85 217.17L1097.99 216.87L1099.13 216.57L1100.26 216.28L1101.40 215.98L1102.54 215.68L1103.68 215.38L1104.81 215.08L1105.95 214.78L1107.09 214.47L1108.22 214.17L1109.36 213.87L1110.50 213.57L1111.63 213.27L1112.77 212.96L1113.91 212.66L1115.04 212.36L1116.18 212.05L1117.32 211.75L1118.45 211.45L1119.59 211.14L1120.73 210.84L1121.86 210.53L1123.00 210.23L1124.14 209.92L1125.27 209.61L1126.41 209.31L1127.55 209.00L1128.68 208.69L1129.82 208.39L1130.96 208.08L1132.09 207.77L1133.23 207.46L1134.36 207.15L1135.50 206.85L1136.64 206.54L1137.77 206.23L1138.91 205.92L1140.04 205.61L1141.18 205.30L1142.32 204.99L1143.45 204.68L1144.59 204.37L1145.72 204.06L1146.86 203.74L1148.00 203.43L1149.13 203.12L1150.27 202.81L1151.40 202.50L1152.54 202.18L1153.67 201.87L1154.81 201.56L1155.95 201.24L1157.08 200.93L1158.22 200.62L1159.35 200.30L1160.49 199.99L1161.62 199.68L1162.76 199.36L1163.89 199.05L1165.03 198.73L1166.17 198.42L1167.30 198.10L1168.44 197.79L1169.57 197.47L1170.71 197.15L1171.84 196.84L1172.98 196.52L1174.11 196.20L1175.25 195.89L1176.38 195.57L1177.52 195.25L1178.65 194.94L1179.79 194.62L1180.92 194.30L1182.06 193.98L1183.19 193.67L1184.33 193.35L1185.46 193.03L1186.60 192.71L1187.73 192.39L1188.87 192.07L1190.00 191.76L1191.14 191.44L1192.27 191.12L1193.41 190.80L1194.54 190.48L1195.68 190.16L1196.81 189.84L1197.95 189.52L1199.08 189.20L1200.22 188.88L1201.35 188.56L1202.49 188.24L1203.62 187.92L1204.76 187.60L1205.89 187.28L1207.03 186.96L1208.16 186.64L1209.30 186.32L1210.43 186.00L1211.56 185.67L1212.70 185.35L1213.83 185.03L1214.97 184.71L1216.10 184.39L1217.24 184.07L1218.37 183.75L1219.51 183.42L1220.64 183.10L1221.77 182.78L1222.91 182.46L1224.04 182.14L1225.18 181.81L1226.31 181.49L1227.45 181.17L1228.58 180.85L1229.72 180.53L1230.85 180.20L1231.98 179.88L1233.12 179.56L1234.25 179.24L1235.39 178.91L1236.52 178.59L1237.65 178.27L1238.79 177.95L1239.92 177.62L1241.06 177.30L1242.19 176.98L1243.33 176.66L1244.46 176.33L1245.59 176.01L1246.73 175.69L1247.86 175.37L1249.00 175.04L1250.13 174.72L1251.26 174.40L1252.40 174.08L1253.53 173.75L1254.67 173.43L1255.80 173.11L1256.93 172.78L1258.07 172.46L1259.20 172.14L1260.34 171.82L1261.47 171.49L1262.60 171.17L1263.74 170.85L1264.87 170.53L1266.01 170.20L1267.14 169.88L1268.27 169.56L1269.41 169.24L1270.54 168.91L1271.68 168.59L1272.81 168.27L1273.94 167.95L1275.08 167.63L1276.21 167.30L1277.35 166.98L1278.48 166.66L1279.61 166.34L1280.75 166.02L1281.88 165.69L1283.01 165.37L1284.15 165.05L1285.28 164.73L1286.42 164.41L1287.55 164.09L1288.68 163.77L1289.82 163.45L1290.95 163.12L1292.09 162.80L1293.22 162.48L1294.35 162.16L1295.49 161.84L1296.62 161.52L1297.75 161.20L1298.89 160.88L1300.02 160.56L1301.16 160.24L1302.29 159.92L1303.42 159.60L1304.56 159.28L1305.69 158.96L1306.82 158.64L1307.96 158.32L1309.09 158.00L1310.23 157.68L1311.36 157.37L1312.49 157.05L1313.63 156.73L1314.76 156.41L1315.89 156.09L1317.03 155.77L1318.16 155.46L1319.30 155.14L1320.43 154.82L1321.56 154.50L1322.70 154.19L1323.83 153.87L1324.96 153.55L1326.10 153.24L1327.23 152.92L1328.37 152.60L1329.50 152.29L1330.63 151.97L1331.77 151.65L1332.90 151.34L1334.04 151.02L1335.17 150.71L1336.30 150.39L1337.44 150.08L1338.57 149.76L1339.70 149.45L1340.84 149.14L1341.97 148.82L1343.11 148.51L1344.24 148.19L1345.37 147.88L1346.51 147.57L1347.64 147.25L1348.77 146.94L1349.91 146.63L1351.04 146.32L1352.18 146.01L1353.31 145.69L1354.44 145.38L1355.58 145.07L1356.71 144.76L1357.85 144.45L1358.98 144.14L1360.11 143.83L1361.25 143.52L1362.38 143.21L1363.52 142.90L1364.65 142.59L1365.78 142.28L1366.92 141.97L1368.05 141.67L1369.19 141.36L1370.32 141.05L1371.45 140.74L1372.59 140.44L1373.72 140.13L1374.85 139.82L1375.99 139.52L1377.12 139.21L1378.26 138.91L1379.39 138.60L1380.53 138.30L1381.66 137.99L1382.79 137.69L1383.93 137.38L1385.06 137.08L1386.20 136.77L1387.33 136.47L1388.46 136.17L1389.60 135.87L1390.73 135.56L1391.87 135.26L1393.00 134.96L1394.13 134.66L1395.27 134.36L1396.40 134.06L1397.54 133.76L1398.67 133.46L1399.81 133.16L1400.94 132.86L1402.07 132.56L1403.21 132.26L1404.34 131.97L1405.48 131.67L1406.61 131.37L1407.75 131.08L1408.88 130.78L1410.02 130.48L1411.15 130.19L1412.28 129.89L1413.42 129.60L1414.55 129.30L1415.69 129.01L1416.82 128.71L1417.96 128.42L1419.09 128.13L1420.23 127.84L1421.36 127.54L1422.49 127.25L1423.63 126.96L1424.76 126.67L1425.90 126.38L1427.03 126.09L1428.17 125.80L1429.30 125.51L1430.44 125.22L1431.57 124.93L1432.71 124.65L1433.84 124.36L1434.98 124.07L1436.11 123.79L1437.25 123.50L1438.38 123.22L1439.52 122.93L1440.65 122.65L1441.79 122.36L1442.93 122.08L1444.06 121.80L1445.20 121.52L1446.34 121.24L1447.47 120.95L1448.61 120.67L1449.75 120.40L1450.89 120.12L1452.02 119.84L1453.16 119.56L1454.30 119.29L1455.44 119.01L1456.58 118.74L1457.72 118.46L1458.86 118.19L1460.00 117.92L1461.14 117.64L1462.28 117.37L1463.42 117.10L1464.56 116.83L1465.71 116.57L1466.85 116.30L1467.99 116.03L1469.14 115.77L1470.28 115.50L1471.43 115.24L1472.57 114.98L1473.72 114.71L1474.87 114.45L1476.01 114.19L1477.16 113.93L1478.31 113.68L1479.46 113.42L1480.61 113.16L1481.76 112.91L1482.91 112.65L1484.06 112.40L1485.21 112.15L1486.36 111.90L1487.52 111.65L1488.67 111.40L1489.83 111.15L1490.98 110.91L1492.14 110.66L1493.30 110.42L1494.45 110.17L1495.61 109.93L1496.77 109.69L1497.93 109.45L1499.09 109.22L1500.26 108.98L1501.42 108.74L1502.58 108.51L1503.75 108.28L1504.91 108.05L1506.08 107.82L1507.25 107.59L1508.41 107.36L1509.58 107.13L1510.75 106.91L1511.93 106.69L1513.10 106.46L1514.27 106.24L1515.44 106.02L1516.62 105.81L1517.80 105.59L1518.97 105.38L1520.15 105.16L1521.33 104.95L1522.51 104.74L1523.69 104.53L1524.87 104.32L1526.06 104.12L1527.24 103.92L1528.43 103.72L1529.61 103.52L1530.80 103.33L1531.99 103.14L1533.17 102.96L1534.36 102.78L1535.55 102.61L1536.74 102.44L1537.92 102.27L1539.11 102.11L1540.30 101.96L1541.49 101.81L1542.68 101.68L1543.87 101.54L1545.05 101.42L1546.24 101.30L1547.43 101.19L1548.62 101.09L1549.80 101.00L1550.99 100.91L1552.17 100.84L1553.36 100.77L1554.54 100.71L1555.72 100.67L1556.90 100.63L1558.08 100.61L1559.26 100.59L1560.44 100.59L1561.62 100.60L1562.79 100.62L1563.97 100.65L1565.14 100.70L1566.31 100.76L1567.48 100.83L1568.65 100.92L1569.81 101.01L1570.97 101.13L1572.14 101.25L1573.30 101.40L1574.45 101.55L1575.61 101.73L1576.76 101.91L1577.91 102.12L1579.06 102.34L1580.21 102.58L1581.35 102.83L1582.49 103.10L1583.62 103.38L1584.75 103.68L1585.88 104.00L1587.00 104.34L1588.12 104.69L1589.22 105.05L1590.33 105.43L1591.42 105.83L1592.51 106.25L1593.59 106.68L1594.67 107.13L1595.73 107.59L1596.79 108.07L1597.83 108.57L1598.87 109.09L1599.90 109.61L1600.92 110.16L1601.92 110.72L1602.92 111.30L1603.90 111.90L1604.88 112.51L1605.84 113.14L1606.78 113.78L1607.72 114.45L1608.64 115.12L1609.55 115.82L1610.44 116.53L1611.32 117.26L1612.19 118.00L1613.03 118.76L1613.87 119.54L1614.68 120.33L1615.48 121.14L1616.27 121.97L1617.03 122.82L1617.78 123.68L1618.51 124.55L1619.23 125.45L1619.92 126.36L1620.60 127.28L1621.25 128.22L1621.89 129.18L1622.52 130.15L1623.12 131.13L1623.71 132.13L1624.28 133.14L1624.84 134.16L1625.38 135.19L1625.90 136.24L1626.41 137.29L1626.90 138.36L1627.37 139.43L1627.83 140.52L1628.28 141.61L1628.71 142.71L1629.12 143.82L1629.53 144.94L1629.91 146.06L1630.28 147.19L1630.64 148.33L1630.99 149.47L1631.32 150.62L1631.64 151.77L1631.94 152.92L1632.24 154.08L1632.52 155.24L1632.78 156.41L1633.04 157.58L1633.29 158.75L1633.52 159.92L1633.74 161.10L1633.96 162.28L1634.16 163.47L1634.35 164.65L1634.53 165.84L1634.71 167.03L1634.87 168.22L1635.03 169.41L1635.17 170.61L1635.31 171.81L1635.44 173.01L1635.57 174.21L1635.69 175.41L1635.80 176.61L1635.90 177.81L1636.00 179.02L1636.09 180.22L1636.17 181.42L1636.25 182.63L1636.33 183.83L1636.40 185.04L1636.47 186.24L1636.53 187.45L1636.59 188.65L1636.64 189.85L1636.69 191.05L1636.74 192.26L1636.79 193.46L1636.83 194.65L1636.88 195.85L1636.92 197.05L1636.96 198.24L1636.99 199.43L1637.03 200.62L1637.07 201.81L1637.11 203.00L1637.14 204.18L1637.18 205.36L1637.22 206.54L1637.26 207.71L1637.30 208.88L1637.34 210.05L1637.39 211.22L1637.44 212.38L1637.49 213.54L1637.54 214.69L1637.60 215.84L1637.66 216.99L1637.72 218.13L1637.79 219.27L1637.86 220.40L1637.94 221.53L1638.02 222.65L1638.11 223.77L1638.21 224.88L1638.31 225.99L1638.41 227.09L1638.52 228.19" stroke="#c044a8" stroke-width="3.2" fill="none" stroke-linejoin="round"/>
<path d="M1044.50 187.84L1045.64 187.57L1046.78 187.29L1047.92 187.01L1049.06 186.73L1050.20 186.45L1051.34 186.17L1052.48 185.89L1053.62 185.60L1054.76 185.32L1055.90 185.04L1057.04 184.76L1058.18 184.47L1059.32 184.19L1060.46 183.91L1061.59 183.62L1062.73 183.34L1063.87 183.05L1065.01 182.76L1066.15 182.48L1067.29 182.19L1068.43 181.90L1069.57 181.61L1070.71 181.33L1071.85 181.04L1072.99 180.75L1074.13 180.46L1075.27 180.17L1076.41 179.88L1077.54 179.59L1078.68 179.29L1079.82 179.00L1080.96 178.71L1082.10 178.42L1083.24 178.12L1084.38 177.83L1085.52 177.54L1086.66 177.24L1087.79 176.95L1088.93 176.65L1090.07 176.36L1091.21 176.06L1092.35 175.76L1093.49 175.47L1094.62 175.17L1095.76 174.87L1096.90 174.57L1098.04 174.28L1099.18 173.98L1100.32 173.68L1101.45 173.38L1102.59 173.08L1103.73 172.78L1104.87 172.48L1106.01 172.18L1107.15 171.88L1108.28 171.57L1109.42 171.27L1110.56 170.97L1111.70 170.67L1112.83 170.36L1113.97 170.06L1115.11 169.76L1116.25 169.45L1117.39 169.15L1118.52 168.84L1119.66 168.54L1120.80 168.23L1121.94 167.93L1123.07 167.62L1124.21 167.32L1125.35 167.01L1126.49 166.70L1127.62 166.40L1128.76 166.09L1129.90 165.78L1131.04 165.47L1132.17 165.17L1133.31 164.86L1134.45 164.55L1135.58 164.24L1136.72 163.93L1137.86 163.62L1139.00 163.31L1140.13 163.00L1141.27 162.69L1142.41 162.38L1143.54 162.07L1144.68 161.76L1145.82 161.44L1146.95 161.13L1148.09 160.82L1149.23 160.51L1150.37 160.20L1151.50 159.88L1152.64 159.57L1153.78 159.26L1154.91 158.94L1156.05 158.63L1157.19 158.31L1158.32 158.00L1159.46 157.69L1160.60 157.37L1161.73 157.06L1162.87 156.74L1164.01 156.43L1165.14 156.11L1166.28 155.79L1167.41 155.48L1168.55 155.16L1169.69 154.85L1170.82 154.53L1171.96 154.21L1173.10 153.90L1174.23 153.58L1175.37 153.26L1176.50 152.94L1177.64 152.63L1178.78 152.31L1179.91 151.99L1181.05 151.67L1182.19 151.35L1183.32 151.04L1184.46 150.72L1185.59 150.40L1186.73 150.08L1187.87 149.76L1189.00 149.44L1190.14 149.12L1191.27 148.80L1192.41 148.48L1193.55 148.16L1194.68 147.84L1195.82 147.52L1196.95 147.20L1198.09 146.88L1199.23 146.56L1200.36 146.24L1201.50 145.92L1202.63 145.60L1203.77 145.28L1204.90 144.96L1206.04 144.64L1207.18 144.31L1208.31 143.99L1209.45 143.67L1210.58 143.35L1211.72 143.03L1212.85 142.71L1213.99 142.38L1215.12 142.06L1216.26 141.74L1217.40 141.42L1218.53 141.10L1219.67 140.77L1220.80 140.45L1221.94 140.13L1223.07 139.81L1224.21 139.48L1225.34 139.16L1226.48 138.84L1227.61 138.52L1228.75 138.19L1229.89 137.87L1231.02 137.55L1232.16 137.22L1233.29 136.90L1234.43 136.58L1235.56 136.25L1236.70 135.93L1237.83 135.61L1238.97 135.29L1240.10 134.96L1241.24 134.64L1242.37 134.32L1243.51 133.99L1244.64 133.67L1245.78 133.35L1246.91 133.02L1248.05 132.70L1249.18 132.38L1250.32 132.05L1251.45 131.73L1252.59 131.41L1253.73 131.08L1254.86 130.76L1256.00 130.44L1257.13 130.11L1258.27 129.79L1259.40 129.47L1260.54 129.14L1261.67 128.82L1262.81 128.50L1263.94 128.18L1265.08 127.85L1266.21 127.53L1267.35 127.21L1268.48 126.88L1269.62 126.56L1270.75 126.24L1271.89 125.92L1273.02 125.59L1274.16 125.27L1275.29 124.95L1276.43 124.63L1277.56 124.30L1278.70 123.98L1279.83 123.66L1280.97 123.34L1282.10 123.01L1283.24 122.69L1284.37 122.37L1285.51 122.05L1286.64 121.73L1287.78 121.41L1288.91 121.08L1290.05 120.76L1291.18 120.44L1292.31 120.12L1293.45 119.80L1294.58 119.48L1295.72 119.16L1296.85 118.84L1297.99 118.52L1299.12 118.20L1300.26 117.88L1301.39 117.56L1302.53 117.24L1303.66 116.92L1304.80 116.60L1305.93 116.28L1307.07 115.96L1308.20 115.64L1309.34 115.32L1310.47 115.00L1311.61 114.68L1312.74 114.36L1313.88 114.04L1315.01 113.72L1316.15 113.41L1317.28 113.09L1318.42 112.77L1319.55 112.45L1320.69 112.13L1321.82 111.82L1322.96 111.50L1324.09 111.18L1325.23 110.86L1326.36 110.55L1327.50 110.23L1328.63 109.92L1329.77 109.60L1330.90 109.28L1332.04 108.97L1333.17 108.65L1334.31 108.34L1335.44 108.02L1336.58 107.71L1337.71 107.39L1338.85 107.08L1339.98 106.76L1341.12 106.45L1342.25 106.14L1343.39 105.82L1344.52 105.51L1345.66 105.20L1346.79 104.88L1347.93 104.57L1349.06 104.26L1350.20 103.95L1351.33 103.63L1352.47 103.32L1353.60 103.01L1354.74 102.70L1355.87 102.39L1357.01 102.08L1358.14 101.77L1359.28 101.46L1360.41 101.15L1361.55 100.84L1362.68 100.53L1363.82 100.22L1364.95 99.91L1366.09 99.61L1367.22 99.30L1368.36 98.99L1369.49 98.68L1370.63 98.38L1371.76 98.07L1372.90 97.76L1374.03 97.46L1375.17 97.15L1376.30 96.85L1377.44 96.54L1378.57 96.24L1379.71 95.93L1380.85 95.63L1381.98 95.32L1383.12 95.02L1384.25 94.72L1385.39 94.41L1386.52 94.11L1387.66 93.81L1388.79 93.51L1389.93 93.20L1391.06 92.90L1392.20 92.60L1393.33 92.30L1394.47 92.00L1395.61 91.70L1396.74 91.40L1397.88 91.10L1399.01 90.81L1400.15 90.51L1401.28 90.21L1402.42 89.91L1403.55 89.61L1404.69 89.32L1405.83 89.02L1406.96 88.73L1408.10 88.43L1409.23 88.13L1410.37 87.84L1411.50 87.55L1412.64 87.25L1413.78 86.96L1414.91 86.67L1416.05 86.37L1417.18 86.08L1418.32 85.79L1419.45 85.50L1420.59 85.21L1421.73 84.92L1422.86 84.63L1424.00 84.34L1425.13 84.05L1426.27 83.76L1427.41 83.47L1428.54 83.18L1429.68 82.89L1430.81 82.61L1431.95 82.32L1433.09 82.03L1434.22 81.75L1435.36 81.46L1436.50 81.18L1437.63 80.89L1438.77 80.61L1439.91 80.33L1441.04 80.05L1442.18 79.76L1443.32 79.48L1444.46 79.20L1445.59 78.92L1446.73 78.64L1447.87 78.37L1449.01 78.09L1450.15 77.81L1451.29 77.54L1452.43 77.26L1453.57 76.99L1454.71 76.71L1455.85 76.44L1456.99 76.17L1458.13 75.89L1459.27 75.62L1460.41 75.35L1461.56 75.08L1462.70 74.81L1463.84 74.55L1464.99 74.28L1466.13 74.01L1467.28 73.75L1468.42 73.48L1469.57 73.22L1470.71 72.96L1471.86 72.70L1473.01 72.44L1474.15 72.18L1475.30 71.92L1476.45 71.66L1477.60 71.41L1478.75 71.15L1479.90 70.90L1481.05 70.64L1482.21 70.39L1483.36 70.14L1484.51 69.89L1485.67 69.64L1486.82 69.39L1487.98 69.15L1489.13 68.90L1490.29 68.66L1491.45 68.41L1492.61 68.17L1493.77 67.93L1494.93 67.69L1496.09 67.45L1497.25 67.21L1498.41 66.98L1499.57 66.74L1500.74 66.51L1501.90 66.28L1503.07 66.05L1504.24 65.82L1505.40 65.59L1506.57 65.36L1507.74 65.13L1508.91 64.91L1510.08 64.69L1511.26 64.47L1512.43 64.25L1513.61 64.03L1514.78 63.81L1515.96 63.59L1517.13 63.38L1518.31 63.17L1519.49 62.95L1520.67 62.74L1521.86 62.54L1523.04 62.33L1524.22 62.12L1525.41 61.92L1526.59 61.72L1527.78 61.52L1528.97 61.33L1530.16 61.14L1531.35 60.95L1532.53 60.76L1533.72 60.58L1534.91 60.41L1536.11 60.24L1537.30 60.07L1538.49 59.91L1539.68 59.76L1540.87 59.61L1542.06 59.46L1543.25 59.33L1544.44 59.20L1545.63 59.08L1546.82 58.96L1548.01 58.86L1549.20 58.76L1550.38 58.67L1551.57 58.59L1552.76 58.51L1553.94 58.45L1555.13 58.40L1556.31 58.35L1557.49 58.32L1558.68 58.29L1559.86 58.28L1561.04 58.28L1562.21 58.29L1563.39 58.31L1564.56 58.34L1565.74 58.39L1566.91 58.44L1568.08 58.51L1569.25 58.60L1570.41 58.69L1571.58 58.80L1572.74 58.93L1573.90 59.07L1575.06 59.22L1576.21 59.39L1577.37 59.57L1578.52 59.77L1579.66 59.98L1580.81 60.21L1581.95 60.46L1583.09 60.72L1584.23 61.00L1585.36 61.30L1586.49 61.61L1587.61 61.94L1588.73 62.28L1589.84 62.64L1590.95 63.02L1592.05 63.41L1593.14 63.82L1594.22 64.25L1595.30 64.69L1596.37 65.15L1597.43 65.63L1598.49 66.12L1599.53 66.64L1600.56 67.16L1601.58 67.71L1602.60 68.27L1603.60 68.84L1604.59 69.44L1605.56 70.05L1606.53 70.68L1607.48 71.32L1608.42 71.98L1609.35 72.66L1610.26 73.36L1611.16 74.07L1612.04 74.80L1612.91 75.55L1613.77 76.31L1614.60 77.09L1615.42 77.89L1616.23 78.70L1617.01 79.54L1617.78 80.39L1618.54 81.25L1619.27 82.13L1619.99 83.03L1620.69 83.94L1621.38 84.87L1622.04 85.81L1622.69 86.76L1623.33 87.73L1623.94 88.71L1624.55 89.70L1625.13 90.71L1625.70 91.72L1626.25 92.75L1626.78 93.78L1627.30 94.83L1627.80 95.89L1628.29 96.95L1628.76 98.02L1629.21 99.10L1629.65 100.19L1630.07 101.29L1630.48 102.39L1630.87 103.50L1631.24 104.61L1631.61 105.73L1631.95 106.86L1632.28 108.00L1632.60 109.13L1632.91 110.28L1633.20 111.43L1633.48 112.58L1633.75 113.74L1634.00 114.91L1634.24 116.08L1634.47 117.25L1634.69 118.43L1634.90 119.61L1635.10 120.79L1635.29 121.98L1635.47 123.17L1635.63 124.37L1635.79 125.56L1635.94 126.76L1636.08 127.97L1636.22 129.17L1636.34 130.38L1636.46 131.58L1636.57 132.79L1636.67 134.00L1636.76 135.22L1636.85 136.43L1636.93 137.64L1637.01 138.86L1637.08 140.07L1637.15 141.29L1637.21 142.50L1637.26 143.72L1637.31 144.93L1637.36 146.14L1637.40 147.36L1637.44 148.57L1637.48 149.78L1637.52 150.99L1637.55 152.19L1637.58 153.40L1637.60 154.60L1637.63 155.80L1637.65 157.00L1637.68 158.19L1637.70 159.39L1637.72 160.57L1637.75 161.76L1637.77 162.94L1637.79 164.12L1637.82 165.29L1637.85 166.47L1637.87 167.63L1637.90 168.79L1637.94 169.95L1637.97 171.10L1638.01 172.25L1638.05 173.39L1638.09 174.52L1638.14 175.65L1638.19 176.78L1638.25 177.89L1638.31 179.00L1638.37 180.11L1638.44 181.21L1638.52 182.30L1638.60 183.38L1638.69 184.46L1638.79 185.52" stroke="#3441a2" stroke-width="3.2" fill="none" stroke-linejoin="round"/>
</g>
<g clip-path="url(#cC)">
<path d="M119.98 706.10L121.02 706.49L122.05 706.88L123.08 707.28L124.11 707.68L125.14 708.08L126.17 708.49L127.20 708.90L128.23 709.31L129.26 709.73L130.28 710.15L131.31 710.58L132.34 711.01L133.36 711.44L134.39 711.87L135.41 712.31L136.44 712.75L137.46 713.20L138.48 713.65L139.51 714.10L140.53 714.56L141.55 715.02L142.57 715.48L143.58 715.95L144.60 716.42L145.62 716.89L146.63 717.37L147.65 717.85L148.66 718.33L149.67 718.82L150.69 719.31L151.70 719.81L152.71 720.31L153.71 720.81L154.72 721.31L155.73 721.82L156.73 722.33L157.74 722.85L158.74 723.36L159.74 723.88L160.74 724.41L161.74 724.94L162.74 725.47L163.73 726.00L164.73 726.54L165.72 727.08L166.72 727.63L167.71 728.18L168.70 728.73L169.68 729.28L170.67 729.84L171.66 730.40L172.64 730.97L173.62 731.54L174.60 732.11L175.58 732.68L176.56 733.26L177.53 733.84L178.51 734.43L179.48 735.01L180.45 735.60L181.42 736.20L182.39 736.80L183.35 737.40L184.32 738.00L185.28 738.61L186.24 739.22L187.20 739.83L188.15 740.45L189.11 741.07L190.06 741.69L191.01 742.31L191.96 742.94L192.91 743.58L193.85 744.21L194.80 744.85L195.74 745.49L196.68 746.14L197.61 746.78L198.55 747.44L199.48 748.09L200.41 748.75L201.34 749.41L202.26 750.07L203.19 750.74L204.11 751.41L205.03 752.08L205.95 752.76L206.86 753.43L207.77 754.12L208.68 754.80L209.59 755.49L210.50 756.18L211.40 756.87L212.30 757.57L213.20 758.27L214.09 758.97L214.99 759.68L215.88 760.39L216.77 761.10L217.65 761.82L218.53 762.53L219.41 763.26L220.29 763.98L221.17 764.71L222.04 765.44L222.91 766.17L223.78 766.90L224.64 767.64L225.50 768.38L226.36 769.13L227.22 769.88L228.07 770.63L228.92 771.38L229.77 772.14L230.61 772.89L231.45 773.66L232.29 774.42L233.13 775.19L233.96 775.96L234.79 776.73L235.62 777.51L236.44 778.29L237.26 779.07L238.08 779.85L238.89 780.64L239.70 781.43L240.51 782.22L241.32 783.02L242.12 783.82L242.92 784.62L243.71 785.42L244.50 786.23L245.29 787.04L246.08 787.85L246.86 788.67L247.64 789.49L248.41 790.31L249.18 791.13L249.95 791.96L250.72 792.79L251.48 793.62L252.24 794.45L252.99 795.29L253.74 796.13L254.49 796.97L255.23 797.82L255.97 798.66L256.71 799.51L257.44 800.37L258.17 801.22L258.90 802.08L259.62 802.94L260.34 803.81L261.05 804.67L261.76 805.54L262.47 806.41L263.17 807.29L263.87 808.16L264.57 809.04L265.26 809.93L265.95 810.81L266.63 811.70L267.31 812.59L267.98 813.48L268.66 814.37L269.32 815.27L269.99 816.17L270.65 817.07L271.30 817.98L271.95 818.89L272.60 819.80L273.24 820.71L273.88 821.62L274.52 822.54L275.15 823.46L275.77 824.38L276.40 825.31L277.01 826.24L277.63 827.17L278.24 828.10L278.84 829.03L279.44 829.97L280.04 830.91L280.63 831.85L281.22 832.80L281.80 833.75L282.38 834.70L282.95 835.65L283.52 836.60L284.09 837.56L284.65 838.52L285.20 839.48L285.75 840.44L286.30 841.41L286.84 842.38L287.38 843.35L287.91 844.32L288.44 845.30L288.96 846.28L289.48 847.26L289.99 848.24L290.50 849.23L291.00 850.21L291.50 851.20L291.99 852.19L292.48 853.19L292.97 854.19L293.45 855.18L293.92 856.19L294.39 857.19L294.85 858.19L295.31 859.20L295.77 860.21L296.22 861.23L296.66 862.24L297.10 863.26L297.53 864.28L297.96 865.30L298.38 866.32L298.80 867.35L299.21 868.38L299.62 869.41L300.02 870.44L300.42 871.47L300.81 872.51L301.20 873.55L301.58 874.59L301.96 875.63L302.33 876.68L302.70 877.72L303.06 878.77L303.41 879.82L303.77 880.88L304.11 881.93L304.45 882.99L304.79 884.05L305.12 885.11L305.45 886.17L305.77 887.24L306.09 888.30L306.41 889.37L306.72 890.44L307.02 891.51L307.32 892.59L307.61 893.66L307.91 894.74L308.19 895.82L308.47 896.90L308.75 897.98L309.03 899.06L309.29 900.15L309.56 901.23L309.82 902.32L310.08 903.41L310.33 904.50L310.58 905.59L310.82 906.69L311.06 907.78L311.30 908.88L311.53 909.98L311.76 911.08L311.98 912.18L312.20 913.28L312.42 914.38L312.63 915.49L312.84 916.59L313.04 917.70L313.25 918.81L313.44 919.92L313.64 921.03L313.83 922.14L314.01 923.26L314.20 924.37L314.38 925.48L314.55 926.60L314.73 927.72L314.89 928.84L315.06 929.96L315.22 931.08L315.38 932.20L315.54 933.32L315.69 934.44L315.84 935.57L315.99 936.69L316.13 937.82L316.27 938.95L316.41 940.07L316.54 941.20L316.67 942.33L316.80 943.46L316.93 944.59L317.05 945.72L317.17 946.86L317.28 947.99L317.40 949.12L317.51 950.26L317.62 951.39L317.72 952.53L317.83 953.66L317.93 954.80L318.02 955.93L318.12 957.07L318.21 958.21L318.30 959.35L318.39 960.49L318.47 961.63L318.56 962.76L318.64 963.90L318.72 965.04L318.79 966.19L318.87 967.33L318.94 968.47L319.01 969.61L319.07 970.75L319.14 971.89L319.20 973.03L319.26 974.18L319.32 975.32L319.38 976.46L319.43 977.60L319.48 978.75L319.54 979.89L319.59 981.03L319.63 982.17L319.68 983.32L319.72 984.46L319.76 985.60L319.80 986.74L319.84 987.89L319.88 989.03L319.92 990.17L319.95 991.31L319.98 992.46L320.01 993.60L320.04 994.74L320.07 995.88L320.10 997.02L320.12 998.16L320.15 999.30L320.17 1000.44L320.19 1001.58L320.21 1002.72L320.23 1003.86L320.25 1005.00L320.27 1006.14L320.28 1007.28L320.30 1008.41L320.31 1009.55L320.33 1010.69L320.34 1011.82L320.35 1012.96L320.36 1014.09L320.37 1015.23L320.38 1016.36L320.39 1017.49L320.39 1018.62L320.40 1019.76L320.41 1020.89L320.41 1022.02L320.42 1023.15L320.42 1024.27L320.43 1025.40L320.43 1026.53L320.43 1027.65L320.43 1028.78L320.44 1029.90L320.44 1031.03L320.44 1032.15L320.44 1033.27L320.44 1034.39L320.44 1035.51L320.44 1036.63L320.44 1037.75L320.44 1038.87L320.44 1039.98L320.44 1041.10L320.44 1042.21L320.44 1043.32L320.44 1044.43L320.44 1045.54L320.44 1046.65L320.44 1047.76L320.44 1048.86L320.44 1049.97L320.45 1051.07L320.45 1052.17L320.45 1053.28L320.45 1054.38L320.45 1055.47L320.46 1056.57L320.46 1057.67L320.46 1058.76L320.47 1059.85L320.47 1060.94L320.48 1062.03L320.49 1063.12L320.49 1064.21L320.50 1065.29L320.51 1066.38" stroke="#d91f10" stroke-width="3.2" fill="none" stroke-linejoin="round"/>
<path d="M120.06 676.11L121.28 676.50L122.50 676.89L123.72 677.28L124.94 677.67L126.16 678.06L127.39 678.45L128.61 678.85L129.84 679.25L131.07 679.65L132.30 680.05L133.54 680.45L134.77 680.86L136.00 681.27L137.24 681.68L138.48 682.09L139.72 682.50L140.95 682.91L142.20 683.33L143.44 683.75L144.68 684.17L145.92 684.59L147.17 685.02L148.41 685.44L149.66 685.87L150.91 686.30L152.15 686.74L153.40 687.17L154.65 687.61L155.90 688.05L157.15 688.49L158.40 688.93L159.65 689.38L160.90 689.83L162.16 690.28L163.41 690.73L164.66 691.19L165.91 691.64L167.17 692.10L168.42 692.57L169.67 693.03L170.93 693.50L172.18 693.97L173.44 694.44L174.69 694.92L175.94 695.39L177.20 695.87L178.45 696.36L179.70 696.84L180.96 697.33L182.21 697.82L183.46 698.31L184.72 698.81L185.97 699.30L187.22 699.81L188.47 700.31L189.72 700.82L190.97 701.33L192.22 701.84L193.47 702.35L194.72 702.87L195.96 703.39L197.21 703.91L198.45 704.44L199.70 704.97L200.94 705.50L202.19 706.04L203.43 706.58L204.67 707.12L205.91 707.66L207.15 708.21L208.39 708.76L209.62 709.31L210.86 709.87L212.09 710.43L213.32 710.99L214.56 711.56L215.78 712.13L217.01 712.70L218.24 713.28L219.47 713.86L220.69 714.44L221.91 715.03L223.13 715.62L224.35 716.21L225.57 716.81L226.78 717.41L228.00 718.01L229.21 718.62L230.42 719.23L231.63 719.84L232.83 720.46L234.04 721.08L235.24 721.70L236.44 722.33L237.64 722.96L238.83 723.59L240.03 724.23L241.22 724.88L242.41 725.52L243.59 726.17L244.78 726.82L245.96 727.48L247.14 728.14L248.31 728.81L249.49 729.48L250.66 730.15L251.83 730.82L252.99 731.50L254.16 732.19L255.32 732.88L256.48 733.57L257.63 734.26L258.78 734.96L259.93 735.67L261.08 736.38L262.22 737.09L263.36 737.81L264.50 738.53L265.63 739.25L266.76 739.98L267.89 740.71L269.01 741.45L270.13 742.19L271.25 742.93L272.37 743.68L273.48 744.44L274.58 745.20L275.69 745.96L276.79 746.73L277.88 747.50L278.98 748.27L280.06 749.05L281.15 749.84L282.23 750.63L283.31 751.42L284.38 752.22L285.45 753.02L286.52 753.83L287.58 754.64L288.64 755.45L289.69 756.28L290.74 757.10L291.79 757.93L292.83 758.77L293.87 759.60L294.90 760.45L295.93 761.30L296.95 762.15L297.97 763.01L298.99 763.87L300.00 764.74L301.01 765.61L302.01 766.48L303.01 767.36L304.00 768.25L304.99 769.14L305.98 770.03L306.96 770.93L307.94 771.83L308.91 772.73L309.87 773.64L310.84 774.56L311.79 775.48L312.75 776.40L313.70 777.33L314.64 778.26L315.58 779.20L316.52 780.14L317.45 781.08L318.37 782.03L319.29 782.99L320.21 783.94L321.12 784.90L322.02 785.87L322.93 786.84L323.82 787.81L324.71 788.79L325.60 789.77L326.48 790.76L327.36 791.75L328.23 792.74L329.10 793.74L329.96 794.74L330.81 795.75L331.67 796.76L332.51 797.77L333.35 798.79L334.19 799.81L335.02 800.84L335.85 801.87L336.67 802.90L337.48 803.93L338.29 804.98L339.10 806.02L339.90 807.07L340.69 808.12L341.48 809.18L342.26 810.23L343.04 811.30L343.81 812.36L344.58 813.44L345.34 814.51L346.10 815.59L346.85 816.67L347.60 817.75L348.34 818.84L349.07 819.93L349.80 821.03L350.52 822.13L351.24 823.23L351.95 824.34L352.66 825.45L353.36 826.56L354.05 827.68L354.74 828.80L355.42 829.92L356.10 831.05L356.77 832.18L357.44 833.31L358.10 834.45L358.75 835.59L359.40 836.73L360.04 837.88L360.68 839.03L361.31 840.18L361.94 841.34L362.55 842.50L363.17 843.66L363.77 844.83L364.37 846.00L364.97 847.17L365.56 848.34L366.14 849.52L366.71 850.70L367.28 851.89L367.85 853.08L368.40 854.27L368.95 855.46L369.50 856.66L370.04 857.86L370.57 859.06L371.09 860.27L371.61 861.48L372.13 862.69L372.63 863.91L373.13 865.12L373.63 866.35L374.11 867.57L374.60 868.80L375.07 870.03L375.54 871.26L376.00 872.49L376.45 873.73L376.90 874.97L377.34 876.21L377.78 877.46L378.21 878.71L378.63 879.96L379.05 881.21L379.46 882.47L379.87 883.73L380.27 884.99L380.66 886.25L381.05 887.52L381.43 888.79L381.81 890.06L382.18 891.33L382.54 892.60L382.90 893.88L383.25 895.16L383.60 896.44L383.94 897.73L384.28 899.01L384.61 900.30L384.93 901.59L385.25 902.88L385.57 904.17L385.88 905.47L386.18 906.77L386.48 908.07L386.77 909.37L387.06 910.67L387.35 911.98L387.62 913.28L387.90 914.59L388.17 915.90L388.43 917.21L388.69 918.52L388.94 919.84L389.19 921.15L389.43 922.47L389.67 923.79L389.91 925.11L390.14 926.43L390.36 927.76L390.58 929.08L390.80 930.41L391.01 931.73L391.22 933.06L391.42 934.39L391.62 935.72L391.82 937.05L392.01 938.39L392.19 939.72L392.37 941.05L392.55 942.39L392.72 943.73L392.89 945.07L393.06 946.40L393.22 947.74L393.38 949.08L393.53 950.42L393.68 951.77L393.83 953.11L393.97 954.45L394.11 955.80L394.24 957.14L394.38 958.49L394.50 959.83L394.63 961.18L394.75 962.52L394.87 963.87L394.98 965.22L395.09 966.57L395.20 967.92L395.30 969.26L395.40 970.61L395.50 971.96L395.60 973.31L395.69 974.66L395.78 976.01L395.86 977.36L395.94 978.71L396.02 980.06L396.10 981.41L396.17 982.76L396.24 984.11L396.31 985.46L396.38 986.81L396.44 988.16L396.50 989.51L396.56 990.86L396.61 992.21L396.66 993.56L396.71 994.91L396.76 996.26L396.81 997.60L396.85 998.95L396.89 1000.30L396.93 1001.65L396.96 1002.99L397.00 1004.34L397.03 1005.68L397.06 1007.03L397.09 1008.37L397.11 1009.71L397.14 1011.06L397.16 1012.40L397.18 1013.74L397.20 1015.08L397.21 1016.42L397.23 1017.76L397.24 1019.09L397.25 1020.43L397.26 1021.77L397.27 1023.10L397.28 1024.44L397.28 1025.77L397.29 1027.10L397.29 1028.43L397.29 1029.76L397.29 1031.09L397.29 1032.41L397.28 1033.74L397.28 1035.06L397.27 1036.39L397.27 1037.71L397.26 1039.03L397.25 1040.35L397.24 1041.66L397.23 1042.98L397.22 1044.29L397.21 1045.61L397.20 1046.92L397.18 1048.23L397.17 1049.54L397.15 1050.84L397.14 1052.15L397.12 1053.45L397.10 1054.75L397.09 1056.05L397.07 1057.35L397.05 1058.64L397.03 1059.93L397.01 1061.23L396.99 1062.52L396.97 1063.80L396.96 1065.09L396.94 1066.37" stroke="#8fd8e6" stroke-width="3.2" fill="none" stroke-linejoin="round"/>
<path d="M120.29 650.80L121.78 651.10L123.27 651.41L124.76 651.73L126.26 652.04L127.75 652.36L129.24 652.69L130.73 653.01L132.22 653.34L133.70 653.68L135.19 654.02L136.68 654.36L138.17 654.70L139.65 655.05L141.14 655.40L142.62 655.76L144.11 656.11L145.59 656.47L147.07 656.84L148.56 657.21L150.04 657.58L151.52 657.95L153.00 658.33L154.48 658.71L155.96 659.10L157.44 659.48L158.92 659.87L160.39 660.27L161.87 660.66L163.35 661.07L164.82 661.47L166.30 661.88L167.78 662.29L169.25 662.70L170.72 663.11L172.20 663.53L173.67 663.96L175.14 664.38L176.61 664.81L178.08 665.24L179.55 665.68L181.02 666.12L182.49 666.56L183.96 667.00L185.43 667.45L186.90 667.90L188.36 668.35L189.83 668.81L191.30 669.27L192.76 669.73L194.23 670.20L195.69 670.66L197.15 671.13L198.62 671.61L200.08 672.09L201.54 672.57L203.00 673.05L204.46 673.53L205.92 674.02L207.38 674.51L208.84 675.01L210.30 675.51L211.76 676.01L213.21 676.51L214.67 677.01L216.13 677.52L217.58 678.03L219.04 678.55L220.49 679.06L221.95 679.58L223.40 680.11L224.85 680.63L226.30 681.16L227.76 681.69L229.21 682.22L230.66 682.76L232.11 683.30L233.56 683.84L235.01 684.38L236.45 684.93L237.90 685.48L239.35 686.03L240.80 686.58L242.24 687.14L243.69 687.70L245.13 688.26L246.57 688.83L248.02 689.40L249.46 689.97L250.90 690.55L252.34 691.12L253.78 691.71L255.21 692.29L256.65 692.88L258.08 693.47L259.52 694.06L260.95 694.66L262.38 695.26L263.81 695.87L265.24 696.47L266.67 697.08L268.09 697.70L269.52 698.32L270.94 698.94L272.36 699.56L273.78 700.19L275.20 700.82L276.62 701.46L278.03 702.10L279.45 702.74L280.86 703.39L282.27 704.04L283.68 704.69L285.08 705.35L286.49 706.02L287.89 706.68L289.29 707.35L290.69 708.03L292.09 708.70L293.48 709.39L294.87 710.07L296.26 710.76L297.65 711.46L299.04 712.16L300.42 712.86L301.80 713.57L303.18 714.28L304.56 715.00L305.93 715.72L307.30 716.44L308.67 717.17L310.04 717.91L311.40 718.64L312.76 719.39L314.12 720.13L315.48 720.89L316.83 721.64L318.18 722.40L319.53 723.17L320.87 723.94L322.22 724.72L323.55 725.50L324.89 726.28L326.22 727.07L327.55 727.87L328.88 728.67L330.21 729.48L331.53 730.29L332.85 731.10L334.16 731.92L335.47 732.75L336.78 733.58L338.09 734.42L339.39 735.26L340.69 736.10L341.98 736.96L343.27 737.81L344.56 738.68L345.84 739.54L347.12 740.42L348.40 741.30L349.68 742.18L350.94 743.07L352.21 743.97L353.47 744.87L354.73 745.77L355.99 746.69L357.24 747.60L358.48 748.53L359.72 749.45L360.96 750.39L362.20 751.33L363.43 752.27L364.65 753.22L365.87 754.18L367.09 755.14L368.30 756.10L369.51 757.07L370.71 758.05L371.91 759.03L373.10 760.02L374.29 761.01L375.47 762.01L376.65 763.02L377.82 764.02L378.99 765.04L380.15 766.06L381.31 767.08L382.46 768.11L383.61 769.15L384.75 770.19L385.89 771.23L387.02 772.28L388.14 773.34L389.26 774.40L390.37 775.47L391.48 776.54L392.58 777.62L393.68 778.70L394.77 779.79L395.86 780.88L396.93 781.98L398.01 783.08L399.07 784.19L400.13 785.30L401.18 786.42L402.23 787.55L403.27 788.67L404.31 789.81L405.33 790.95L406.36 792.09L407.37 793.24L408.38 794.40L409.38 795.56L410.37 796.72L411.36 797.89L412.34 799.06L413.31 800.24L414.28 801.43L415.24 802.62L416.19 803.81L417.13 805.01L418.07 806.22L419.00 807.43L419.92 808.64L420.84 809.86L421.75 811.09L422.65 812.32L423.54 813.55L424.42 814.79L425.30 816.04L426.17 817.29L427.03 818.54L427.88 819.80L428.73 821.07L429.56 822.34L430.39 823.61L431.21 824.89L432.02 826.17L432.83 827.46L433.62 828.76L434.41 830.06L435.19 831.36L435.96 832.67L436.72 833.98L437.47 835.30L438.22 836.62L438.95 837.95L439.68 839.28L440.39 840.62L441.10 841.96L441.80 843.31L442.49 844.66L443.17 846.02L443.85 847.38L444.51 848.74L445.17 850.11L445.81 851.49L446.45 852.87L447.08 854.25L447.70 855.64L448.32 857.03L448.92 858.42L449.52 859.82L450.11 861.23L450.69 862.63L451.26 864.04L451.83 865.46L452.38 866.88L452.93 868.30L453.47 869.73L454.01 871.16L454.53 872.59L455.05 874.03L455.56 875.47L456.06 876.92L456.56 878.37L457.04 879.82L457.52 881.27L458.00 882.73L458.46 884.19L458.92 885.66L459.37 887.13L459.81 888.60L460.25 890.07L460.68 891.55L461.10 893.03L461.52 894.51L461.93 895.99L462.33 897.48L462.72 898.97L463.11 900.47L463.49 901.96L463.87 903.46L464.24 904.96L464.60 906.47L464.95 907.97L465.30 909.48L465.65 910.99L465.98 912.51L466.31 914.02L466.64 915.54L466.95 917.06L467.27 918.58L467.57 920.10L467.87 921.63L468.17 923.16L468.45 924.68L468.74 926.22L469.01 927.75L469.28 929.28L469.55 930.82L469.81 932.36L470.06 933.89L470.31 935.43L470.56 936.98L470.79 938.52L471.03 940.06L471.25 941.61L471.47 943.16L471.69 944.71L471.90 946.26L472.11 947.81L472.31 949.36L472.51 950.91L472.70 952.46L472.89 954.02L473.07 955.57L473.25 957.13L473.42 958.68L473.59 960.24L473.75 961.80L473.91 963.36L474.07 964.92L474.22 966.47L474.36 968.03L474.51 969.59L474.64 971.15L474.78 972.71L474.91 974.27L475.03 975.84L475.15 977.40L475.27 978.96L475.38 980.52L475.49 982.08L475.60 983.64L475.70 985.20L475.80 986.76L475.89 988.32L475.98 989.88L476.07 991.44L476.15 993.00L476.23 994.55L476.31 996.11L476.39 997.67L476.46 999.23L476.52 1000.78L476.59 1002.34L476.65 1003.89L476.71 1005.44L476.76 1007.00L476.81 1008.55L476.86 1010.10L476.91 1011.65L476.95 1013.20L476.99 1014.74L477.03 1016.29L477.07 1017.83L477.10 1019.38L477.13 1020.92L477.16 1022.46L477.18 1024.00L477.21 1025.54L477.23 1027.07L477.25 1028.61L477.26 1030.14L477.28 1031.67L477.29 1033.20L477.30 1034.73L477.31 1036.25L477.31 1037.78L477.32 1039.30L477.32 1040.82L477.32 1042.33L477.32 1043.85L477.32 1045.36L477.32 1046.87L477.31 1048.38L477.30 1049.89L477.30 1051.39L477.29 1052.89L477.27 1054.39L477.26 1055.89L477.25 1057.38L477.23 1058.87L477.22 1060.36L477.20 1061.85L477.18 1063.33L477.16 1064.81L477.14 1066.29" stroke="#c044a8" stroke-width="3.2" fill="none" stroke-linejoin="round"/>
<path d="M139.87 634.25L141.51 634.67L143.15 635.09L144.79 635.51L146.43 635.93L148.08 636.35L149.72 636.77L151.37 637.18L153.02 637.60L154.67 638.01L156.31 638.43L157.96 638.84L159.62 639.25L161.27 639.67L162.92 640.08L164.57 640.49L166.23 640.91L167.88 641.32L169.53 641.73L171.19 642.15L172.84 642.56L174.50 642.98L176.16 643.39L177.81 643.81L179.47 644.23L181.12 644.64L182.78 645.06L184.44 645.48L186.09 645.90L187.75 646.33L189.41 646.75L191.06 647.17L192.72 647.60L194.37 648.03L196.03 648.46L197.69 648.89L199.34 649.32L200.99 649.75L202.65 650.19L204.30 650.63L205.95 651.07L207.60 651.51L209.26 651.95L210.91 652.40L212.56 652.85L214.20 653.30L215.85 653.76L217.50 654.21L219.14 654.67L220.79 655.14L222.43 655.60L224.07 656.07L225.72 656.54L227.36 657.02L228.99 657.50L230.63 657.98L232.27 658.46L233.90 658.95L235.53 659.45L237.17 659.94L238.80 660.44L240.42 660.95L242.05 661.45L243.67 661.96L245.30 662.48L246.92 663.00L248.54 663.52L250.15 664.05L251.77 664.59L253.38 665.12L254.99 665.67L256.60 666.21L258.21 666.76L259.81 667.32L261.42 667.88L263.02 668.44L264.62 669.01L266.21 669.58L267.81 670.16L269.40 670.74L271.00 671.33L272.59 671.91L274.17 672.51L275.76 673.10L277.35 673.70L278.93 674.31L280.51 674.92L282.09 675.53L283.67 676.14L285.25 676.76L286.83 677.38L288.40 678.01L289.98 678.64L291.55 679.27L293.12 679.90L294.69 680.54L296.26 681.18L297.82 681.83L299.39 682.48L300.96 683.13L302.52 683.78L304.08 684.44L305.64 685.10L307.20 685.76L308.76 686.42L310.32 687.09L311.88 687.76L313.44 688.44L315.00 689.11L316.55 689.79L318.11 690.47L319.66 691.15L321.21 691.84L322.77 692.52L324.32 693.21L325.87 693.90L327.42 694.60L328.97 695.29L330.52 695.99L332.07 696.69L333.62 697.39L335.17 698.09L336.71 698.80L338.26 699.51L339.81 700.21L341.36 700.92L342.90 701.63L344.45 702.35L346.00 703.06L347.54 703.78L349.09 704.49L350.64 705.21L352.18 705.93L353.73 706.65L355.27 707.37L356.82 708.10L358.37 708.82L359.91 709.55L361.46 710.27L363.00 711.00L364.55 711.72L366.10 712.45L367.65 713.18L369.19 713.91L370.74 714.64L372.29 715.37L373.84 716.10L375.38 716.84L376.93 717.57L378.48 718.31L380.02 719.05L381.57 719.79L383.11 720.53L384.65 721.28L386.19 722.02L387.74 722.77L389.28 723.53L390.81 724.28L392.35 725.04L393.89 725.80L395.42 726.56L396.95 727.33L398.48 728.10L400.01 728.87L401.54 729.65L403.06 730.43L404.59 731.21L406.11 732.00L407.62 732.79L409.14 733.58L410.65 734.39L412.16 735.19L413.67 736.00L415.17 736.81L416.67 737.63L418.17 738.46L419.66 739.28L421.15 740.12L422.64 740.96L424.12 741.80L425.60 742.65L427.08 743.51L428.55 744.37L430.02 745.24L431.48 746.11L432.94 746.99L434.39 747.88L435.85 748.77L437.29 749.67L438.73 750.58L440.17 751.49L441.60 752.41L443.03 753.34L444.45 754.27L445.87 755.21L447.28 756.16L448.69 757.12L450.09 758.09L451.48 759.06L452.87 760.04L454.25 761.03L455.63 762.03L457.00 763.03L458.37 764.05L459.73 765.07L461.08 766.10L462.43 767.14L463.77 768.19L465.10 769.25L466.43 770.32L467.75 771.39L469.06 772.48L470.37 773.58L471.67 774.68L472.96 775.80L474.24 776.92L475.52 778.06L476.79 779.20L478.05 780.35L479.30 781.51L480.55 782.68L481.79 783.86L483.02 785.05L484.24 786.25L485.45 787.45L486.66 788.66L487.85 789.89L489.04 791.12L490.22 792.35L491.39 793.60L492.55 794.86L493.71 796.12L494.85 797.39L495.98 798.67L497.11 799.95L498.22 801.25L499.33 802.55L500.43 803.86L501.51 805.18L502.59 806.50L503.66 807.83L504.72 809.17L505.76 810.52L506.80 811.87L507.83 813.23L508.84 814.60L509.85 815.97L510.84 817.36L511.83 818.74L512.80 820.14L513.76 821.54L514.72 822.95L515.66 824.36L516.59 825.78L517.50 827.21L518.41 828.64L519.31 830.08L520.19 831.53L521.06 832.98L521.92 834.44L522.77 835.90L523.60 837.37L524.43 838.85L525.24 840.33L526.04 841.81L526.82 843.31L527.60 844.80L528.36 846.31L529.11 847.81L529.85 849.33L530.58 850.85L531.30 852.37L532.00 853.90L532.69 855.43L533.38 856.97L534.05 858.51L534.71 860.06L535.36 861.61L535.99 863.17L536.62 864.73L537.24 866.30L537.84 867.87L538.44 869.44L539.02 871.02L539.60 872.61L540.16 874.20L540.71 875.79L541.26 877.39L541.79 878.99L542.32 880.59L542.83 882.20L543.33 883.81L543.83 885.43L544.32 887.05L544.79 888.67L545.26 890.29L545.72 891.92L546.16 893.56L546.60 895.20L547.03 896.84L547.46 898.48L547.87 900.13L548.27 901.77L548.67 903.43L549.06 905.08L549.44 906.74L549.81 908.40L550.17 910.07L550.53 911.73L550.87 913.40L551.21 915.08L551.54 916.75L551.87 918.43L552.18 920.11L552.49 921.79L552.79 923.47L553.09 925.16L553.37 926.85L553.65 928.54L553.93 930.23L554.19 931.92L554.45 933.62L554.70 935.32L554.95 937.02L555.19 938.72L555.42 940.42L555.65 942.13L555.87 943.83L556.08 945.54L556.29 947.25L556.49 948.96L556.69 950.67L556.88 952.38L557.06 954.09L557.24 955.81L557.42 957.52L557.59 959.24L557.75 960.96L557.91 962.68L558.06 964.39L558.21 966.11L558.35 967.83L558.49 969.55L558.62 971.27L558.75 972.99L558.88 974.72L559.00 976.44L559.11 978.16L559.23 979.88L559.33 981.60L559.44 983.32L559.54 985.05L559.63 986.77L559.72 988.49L559.81 990.21L559.90 991.93L559.98 993.65L560.06 995.37L560.13 997.09L560.20 998.81L560.27 1000.53L560.34 1002.24L560.40 1003.96L560.46 1005.68L560.52 1007.39L560.57 1009.10L560.62 1010.82L560.67 1012.53L560.72 1014.24L560.77 1015.95L560.81 1017.66L560.85 1019.36L560.89 1021.07L560.93 1022.77L560.96 1024.47L561.00 1026.17L561.03 1027.87L561.06 1029.57L561.09 1031.26L561.12 1032.95L561.14 1034.65L561.17 1036.33L561.20 1038.02L561.22 1039.71L561.24 1041.39L561.27 1043.07L561.29 1044.75L561.31 1046.42L561.33 1048.09L561.35 1049.76L561.37 1051.43L561.39 1053.10L561.41 1054.76L561.44 1056.42L561.46 1058.07L561.48 1059.73L561.50 1061.38L561.52 1063.02L561.54 1064.67L561.57 1066.31" stroke="#70c000" stroke-width="3.2" fill="none" stroke-linejoin="round"/>
<path d="M228.19 634.84L229.79 635.31L231.40 635.78L233.01 636.25L234.63 636.71L236.25 637.17L237.87 637.62L239.50 638.08L241.13 638.52L242.76 638.97L244.39 639.41L246.03 639.85L247.67 640.29L249.31 640.72L250.96 641.15L252.61 641.58L254.26 642.01L255.91 642.44L257.56 642.86L259.22 643.28L260.88 643.70L262.54 644.12L264.20 644.54L265.86 644.96L267.53 645.37L269.20 645.78L270.86 646.20L272.53 646.61L274.20 647.02L275.87 647.44L277.55 647.85L279.22 648.26L280.89 648.67L282.56 649.08L284.24 649.50L285.91 649.91L287.59 650.32L289.26 650.74L290.94 651.15L292.61 651.57L294.29 651.99L295.96 652.40L297.64 652.82L299.31 653.24L300.99 653.67L302.66 654.09L304.33 654.52L306.00 654.95L307.67 655.38L309.34 655.81L311.01 656.25L312.68 656.69L314.34 657.13L316.00 657.58L317.67 658.02L319.33 658.47L320.99 658.93L322.64 659.39L324.30 659.85L325.95 660.31L327.60 660.78L329.25 661.25L330.90 661.73L332.54 662.21L334.18 662.70L335.82 663.19L337.46 663.68L339.09 664.18L340.72 664.69L342.35 665.20L343.97 665.71L345.59 666.23L347.21 666.76L348.82 667.29L350.43 667.83L352.04 668.37L353.64 668.92L355.24 669.47L356.84 670.03L358.43 670.59L360.02 671.16L361.61 671.74L363.20 672.31L364.78 672.90L366.37 673.48L367.94 674.07L369.52 674.67L371.10 675.27L372.67 675.87L374.24 676.48L375.81 677.09L377.38 677.71L378.95 678.33L380.51 678.95L382.08 679.57L383.64 680.20L385.20 680.83L386.76 681.47L388.32 682.11L389.88 682.75L391.44 683.39L392.99 684.04L394.55 684.69L396.11 685.34L397.66 685.99L399.22 686.65L400.77 687.31L402.33 687.97L403.88 688.63L405.44 689.29L407.00 689.96L408.55 690.62L410.11 691.29L411.67 691.96L413.23 692.63L414.79 693.31L416.35 693.98L417.91 694.65L419.47 695.33L421.03 696.00L422.60 696.68L424.16 697.36L425.73 698.03L427.30 698.71L428.87 699.39L430.45 700.06L432.02 700.74L433.60 701.42L435.18 702.10L436.76 702.77L438.34 703.45L439.92 704.13L441.50 704.81L443.09 705.49L444.67 706.17L446.26 706.86L447.85 707.54L449.44 708.22L451.02 708.91L452.61 709.60L454.20 710.28L455.79 710.97L457.38 711.67L458.97 712.36L460.55 713.06L462.14 713.75L463.73 714.45L465.32 715.16L466.90 715.86L468.49 716.57L470.07 717.28L471.65 717.99L473.23 718.70L474.81 719.42L476.39 720.14L477.97 720.86L479.54 721.59L481.12 722.32L482.69 723.05L484.26 723.79L485.82 724.53L487.39 725.28L488.95 726.02L490.51 726.78L492.06 727.53L493.62 728.29L495.17 729.06L496.71 729.83L498.26 730.60L499.80 731.38L501.34 732.16L502.87 732.95L504.40 733.74L505.93 734.54L507.45 735.34L508.97 736.15L510.48 736.96L511.99 737.78L513.50 738.60L515.00 739.43L516.49 740.27L517.98 741.11L519.47 741.96L520.95 742.81L522.43 743.67L523.90 744.53L525.36 745.41L526.82 746.29L528.27 747.17L529.72 748.06L531.16 748.96L532.60 749.87L534.03 750.78L535.45 751.70L536.87 752.62L538.28 753.56L539.69 754.50L541.08 755.45L542.47 756.41L543.86 757.37L545.23 758.34L546.60 759.32L547.96 760.31L549.32 761.31L550.66 762.31L552.00 763.33L553.33 764.35L554.66 765.38L555.97 766.42L557.28 767.47L558.58 768.52L559.87 769.59L561.15 770.66L562.42 771.75L563.68 772.84L564.94 773.95L566.18 775.06L567.42 776.18L568.65 777.31L569.86 778.46L571.07 779.61L572.27 780.77L573.46 781.94L574.64 783.13L575.80 784.32L576.96 785.52L578.11 786.74L579.25 787.96L580.37 789.20L581.49 790.44L582.60 791.70L583.69 792.97L584.77 794.25L585.85 795.54L586.91 796.85L587.96 798.16L589.00 799.49L590.02 800.83L591.04 802.18L592.04 803.54L593.03 804.91L594.01 806.30L594.98 807.69L595.94 809.10L596.88 810.52L597.81 811.94L598.74 813.38L599.65 814.83L600.55 816.29L601.44 817.75L602.32 819.23L603.19 820.71L604.05 822.21L604.89 823.71L605.73 825.22L606.56 826.73L607.38 828.26L608.18 829.79L608.98 831.33L609.77 832.87L610.54 834.42L611.31 835.98L612.07 837.54L612.82 839.11L613.56 840.68L614.29 842.26L615.01 843.84L615.72 845.43L616.43 847.02L617.12 848.62L617.81 850.22L618.48 851.82L619.15 853.43L619.81 855.04L620.46 856.65L621.10 858.26L621.74 859.88L622.37 861.50L622.99 863.12L623.60 864.74L624.20 866.36L624.80 867.98L625.38 869.61L625.96 871.23L626.54 872.85L627.10 874.48L627.66 876.10L628.21 877.73L628.76 879.35L629.29 880.98L629.82 882.61L630.34 884.24L630.85 885.86L631.36 887.49L631.85 889.12L632.34 890.75L632.83 892.39L633.30 894.02L633.77 895.65L634.22 897.29L634.68 898.92L635.12 900.56L635.55 902.20L635.98 903.84L636.40 905.48L636.81 907.12L637.22 908.76L637.61 910.41L638.00 912.05L638.38 913.70L638.75 915.35L639.12 917.00L639.47 918.65L639.82 920.31L640.16 921.96L640.50 923.62L640.82 925.28L641.14 926.94L641.44 928.60L641.74 930.27L642.04 931.93L642.32 933.60L642.60 935.27L642.86 936.95L643.12 938.62L643.37 940.30L643.62 941.98L643.85 943.66L644.08 945.34L644.30 947.03L644.52 948.71L644.72 950.40L644.92 952.09L645.12 953.79L645.30 955.48L645.48 957.17L645.65 958.87L645.82 960.57L645.98 962.27L646.13 963.97L646.28 965.67L646.42 967.38L646.56 969.08L646.69 970.79L646.81 972.49L646.93 974.20L647.05 975.91L647.16 977.62L647.26 979.33L647.36 981.04L647.46 982.75L647.55 984.47L647.63 986.18L647.72 987.89L647.79 989.61L647.87 991.32L647.94 993.04L648.00 994.76L648.07 996.47L648.13 998.19L648.18 999.91L648.24 1001.62L648.29 1003.34L648.33 1005.06L648.38 1006.77L648.42 1008.49L648.46 1010.21L648.50 1011.92L648.53 1013.64L648.56 1015.36L648.59 1017.07L648.62 1018.79L648.65 1020.51L648.68 1022.22L648.70 1023.94L648.72 1025.65L648.75 1027.36L648.77 1029.07L648.79 1030.79L648.81 1032.50L648.82 1034.21L648.84 1035.92L648.86 1037.63L648.88 1039.33L648.90 1041.04L648.91 1042.74L648.93 1044.45L648.95 1046.15L648.97 1047.85L648.99 1049.55L649.01 1051.25L649.03 1052.95L649.05 1054.65L649.07 1056.34L649.10 1058.03L649.12 1059.73L649.15 1061.42L649.18 1063.10L649.21 1064.79L649.24 1066.47" stroke="#f8d000" stroke-width="3.2" fill="none" stroke-linejoin="round"/>
<path d="M310.54 635.40L312.20 635.83L313.87 636.25L315.53 636.68L317.20 637.10L318.86 637.53L320.52 637.96L322.18 638.39L323.84 638.82L325.49 639.25L327.15 639.68L328.80 640.11L330.46 640.54L332.11 640.98L333.76 641.41L335.41 641.85L337.06 642.28L338.71 642.72L340.36 643.16L342.01 643.60L343.65 644.04L345.29 644.48L346.94 644.92L348.58 645.37L350.22 645.81L351.86 646.26L353.50 646.71L355.14 647.16L356.77 647.61L358.41 648.06L360.04 648.51L361.68 648.96L363.31 649.42L364.94 649.88L366.57 650.33L368.20 650.79L369.83 651.25L371.46 651.72L373.08 652.18L374.71 652.65L376.33 653.11L377.96 653.58L379.58 654.05L381.20 654.52L382.82 655.00L384.44 655.47L386.06 655.95L387.68 656.42L389.29 656.90L390.91 657.39L392.52 657.87L394.14 658.35L395.75 658.84L397.36 659.33L398.97 659.82L400.58 660.31L402.19 660.81L403.80 661.30L405.41 661.80L407.02 662.30L408.62 662.80L410.23 663.31L411.83 663.81L413.43 664.32L415.04 664.83L416.64 665.34L418.24 665.85L419.84 666.37L421.44 666.89L423.03 667.41L424.63 667.93L426.23 668.46L427.82 668.98L429.42 669.51L431.01 670.04L432.60 670.58L434.19 671.11L435.79 671.65L437.38 672.19L438.97 672.74L440.55 673.28L442.14 673.83L443.73 674.38L445.32 674.93L446.90 675.49L448.49 676.05L450.07 676.61L451.65 677.17L453.24 677.74L454.82 678.30L456.40 678.87L457.98 679.45L459.56 680.02L461.14 680.60L462.72 681.18L464.29 681.77L465.87 682.36L467.45 682.94L469.02 683.54L470.59 684.13L472.17 684.73L473.74 685.33L475.31 685.94L476.89 686.54L478.46 687.15L480.03 687.77L481.60 688.38L483.17 689.00L484.73 689.62L486.30 690.25L487.87 690.87L489.43 691.50L491.00 692.14L492.56 692.78L494.13 693.42L495.69 694.06L497.26 694.71L498.82 695.36L500.38 696.01L501.94 696.67L503.50 697.33L505.06 697.99L506.62 698.66L508.18 699.32L509.74 700.00L511.30 700.67L512.85 701.35L514.41 702.04L515.97 702.72L517.52 703.41L519.08 704.11L520.63 704.81L522.18 705.51L523.74 706.21L525.29 706.92L526.84 707.63L528.39 708.35L529.94 709.06L531.49 709.79L533.04 710.51L534.59 711.24L536.14 711.98L537.68 712.72L539.23 713.46L540.77 714.20L542.32 714.95L543.86 715.71L545.40 716.47L546.94 717.23L548.47 717.99L550.01 718.76L551.54 719.54L553.07 720.32L554.60 721.10L556.13 721.89L557.65 722.68L559.18 723.48L560.70 724.28L562.22 725.09L563.74 725.90L565.25 726.71L566.76 727.53L568.27 728.35L569.78 729.18L571.28 730.02L572.78 730.86L574.28 731.70L575.78 732.55L577.27 733.40L578.76 734.26L580.24 735.12L581.73 735.99L583.21 736.86L584.68 737.74L586.16 738.63L587.62 739.51L589.09 740.41L590.55 741.31L592.01 742.21L593.46 743.12L594.91 744.04L596.36 744.96L597.80 745.88L599.24 746.82L600.68 747.75L602.11 748.70L603.53 749.65L604.95 750.60L606.37 751.56L607.78 752.53L609.19 753.50L610.59 754.48L611.99 755.46L613.38 756.45L614.77 757.44L616.15 758.44L617.53 759.45L618.90 760.46L620.27 761.48L621.63 762.51L622.99 763.54L624.34 764.58L625.68 765.62L627.02 766.67L628.36 767.73L629.68 768.80L631.01 769.86L632.32 770.94L633.63 772.02L634.94 773.11L636.23 774.21L637.53 775.31L638.81 776.42L640.09 777.54L641.36 778.66L642.63 779.79L643.89 780.93L645.14 782.07L646.39 783.22L647.63 784.38L648.86 785.54L650.08 786.71L651.30 787.89L652.51 789.07L653.71 790.26L654.91 791.46L656.09 792.66L657.27 793.87L658.44 795.09L659.61 796.31L660.76 797.54L661.91 798.78L663.05 800.02L664.17 801.27L665.30 802.53L666.41 803.79L667.51 805.06L668.60 806.34L669.69 807.62L670.76 808.91L671.83 810.21L672.89 811.51L673.94 812.82L674.97 814.14L676.00 815.46L677.02 816.79L678.03 818.13L679.03 819.47L680.01 820.82L680.99 822.18L681.96 823.54L682.92 824.91L683.86 826.28L684.80 827.66L685.72 829.05L686.64 830.45L687.54 831.85L688.43 833.25L689.31 834.67L690.18 836.09L691.04 837.52L691.88 838.95L692.71 840.39L693.54 841.83L694.35 843.29L695.15 844.75L695.93 846.21L696.71 847.68L697.47 849.16L698.22 850.64L698.96 852.13L699.69 853.63L700.41 855.13L701.12 856.63L701.82 858.14L702.50 859.66L703.18 861.19L703.84 862.71L704.50 864.25L705.14 865.79L705.78 867.33L706.40 868.88L707.01 870.43L707.61 871.99L708.21 873.55L708.79 875.12L709.36 876.70L709.92 878.27L710.48 879.86L711.02 881.44L711.55 883.03L712.08 884.63L712.59 886.23L713.10 887.83L713.59 889.44L714.08 891.05L714.56 892.67L715.03 894.29L715.49 895.91L715.94 897.54L716.38 899.17L716.81 900.81L717.24 902.45L717.66 904.09L718.06 905.73L718.46 907.38L718.86 909.03L719.24 910.69L719.62 912.35L719.98 914.01L720.34 915.67L720.69 917.34L721.04 919.01L721.38 920.68L721.70 922.35L722.03 924.03L722.34 925.71L722.65 927.39L722.95 929.07L723.24 930.76L723.52 932.45L723.80 934.14L724.08 935.83L724.34 937.53L724.60 939.22L724.85 940.92L725.09 942.62L725.33 944.32L725.57 946.03L725.79 947.73L726.01 949.44L726.22 951.15L726.43 952.85L726.63 954.56L726.83 956.28L727.02 957.99L727.20 959.70L727.38 961.42L727.55 963.13L727.72 964.85L727.88 966.56L728.04 968.28L728.19 970.00L728.34 971.71L728.48 973.43L728.62 975.15L728.75 976.87L728.88 978.59L729.00 980.31L729.12 982.03L729.23 983.74L729.34 985.46L729.44 987.18L729.54 988.90L729.64 990.62L729.73 992.33L729.82 994.05L729.90 995.77L729.98 997.48L730.06 999.20L730.13 1000.91L730.20 1002.62L730.27 1004.34L730.33 1006.05L730.39 1007.76L730.45 1009.47L730.50 1011.17L730.55 1012.88L730.59 1014.58L730.64 1016.29L730.68 1017.99L730.72 1019.69L730.75 1021.39L730.79 1023.08L730.82 1024.78L730.84 1026.47L730.87 1028.16L730.89 1029.85L730.91 1031.54L730.93 1033.22L730.95 1034.90L730.96 1036.58L730.98 1038.26L730.99 1039.93L731.00 1041.61L731.01 1043.27L731.02 1044.94L731.02 1046.60L731.03 1048.26L731.03 1049.92L731.03 1051.58L731.03 1053.23L731.03 1054.88L731.03 1056.52L731.03 1058.16L731.03 1059.80L731.02 1061.44L731.02 1063.07L731.01 1064.69L731.01 1066.32" stroke="#3441a2" stroke-width="3.2" fill="none" stroke-linejoin="round"/>
</g>
<g clip-path="url(#cD)">
<path d="M1017.00 681.00L1081.90 700.10L1121.00 712.80L1159.20 727.40L1178.30 734.80L1213.60 751.60L1247.90 770.10L1265.10 780.20L1280.40 790.70L1295.60 801.60L1309.00 813.60L1322.30 826.00L1334.00 838.00L1340.00 845.00L1350.90 860.90L1359.50 877.90L1364.30 887.90L1370.90 908.80L1376.90 933.70L1381.50 965.20L1384.90 1008.50L1385.90 1055.40" stroke="#3a3a3a" stroke-width="3.3" fill="none" stroke-linejoin="round" stroke-dasharray="10.5 8.5"/>
<circle cx="1081.9" cy="700.1" r="2.8" fill="#3a3a3a"/>
<circle cx="1121" cy="712.8" r="2.8" fill="#3a3a3a"/>
<circle cx="1159.2" cy="727.4" r="2.8" fill="#3a3a3a"/>
<circle cx="1178.3" cy="734.8" r="2.8" fill="#3a3a3a"/>
<circle cx="1213.6" cy="751.6" r="2.8" fill="#3a3a3a"/>
<circle cx="1247.9" cy="770.1" r="2.8" fill="#3a3a3a"/>
<circle cx="1265.1" cy="780.2" r="2.8" fill="#3a3a3a"/>
<circle cx="1280.4" cy="790.7" r="2.8" fill="#3a3a3a"/>
<circle cx="1295.6" cy="801.6" r="2.8" fill="#3a3a3a"/>
<circle cx="1309" cy="813.6" r="2.8" fill="#3a3a3a"/>
<circle cx="1322.3" cy="826" r="2.8" fill="#3a3a3a"/>
<circle cx="1334" cy="838" r="2.8" fill="#3a3a3a"/>
<circle cx="1340" cy="845" r="2.8" fill="#3a3a3a"/>
<circle cx="1350.9" cy="860.9" r="2.8" fill="#3a3a3a"/>
<circle cx="1359.5" cy="877.9" r="2.8" fill="#3a3a3a"/>
<circle cx="1364.3" cy="887.9" r="2.8" fill="#3a3a3a"/>
<circle cx="1370.9" cy="908.8" r="2.8" fill="#3a3a3a"/>
<circle cx="1376.9" cy="933.7" r="2.8" fill="#3a3a3a"/>
<circle cx="1381.5" cy="965.2" r="2.8" fill="#3a3a3a"/>
<circle cx="1384.9" cy="1008.5" r="2.8" fill="#3a3a3a"/>
<path d="M1017.01 668.61L1018.56 668.99L1020.11 669.38L1021.66 669.76L1023.21 670.15L1024.76 670.54L1026.31 670.92L1027.86 671.31L1029.41 671.70L1030.96 672.09L1032.50 672.48L1034.05 672.87L1035.60 673.26L1037.15 673.65L1038.70 674.04L1040.24 674.43L1041.79 674.83L1043.34 675.22L1044.88 675.61L1046.43 676.01L1047.98 676.41L1049.52 676.80L1051.07 677.20L1052.61 677.60L1054.15 678.00L1055.70 678.40L1057.24 678.81L1058.78 679.21L1060.33 679.61L1061.87 680.02L1063.41 680.42L1064.95 680.83L1066.49 681.24L1068.03 681.65L1069.57 682.06L1071.11 682.47L1072.65 682.89L1074.19 683.30L1075.73 683.72L1077.26 684.13L1078.80 684.55L1080.34 684.97L1081.87 685.39L1083.41 685.82L1084.94 686.24L1086.48 686.66L1088.01 687.09L1089.54 687.52L1091.08 687.95L1092.61 688.38L1094.14 688.81L1095.67 689.25L1097.20 689.68L1098.73 690.12L1100.26 690.56L1101.79 691.00L1103.31 691.44L1104.84 691.89L1106.37 692.33L1107.89 692.78L1109.42 693.23L1110.94 693.68L1112.46 694.13L1113.99 694.59L1115.51 695.04L1117.03 695.50L1118.55 695.96L1120.07 696.42L1121.59 696.89L1123.11 697.35L1124.63 697.82L1126.14 698.29L1127.66 698.76L1129.18 699.24L1130.69 699.71L1132.20 700.19L1133.72 700.67L1135.23 701.15L1136.74 701.64L1138.25 702.13L1139.76 702.61L1141.27 703.11L1142.78 703.60L1144.29 704.10L1145.79 704.59L1147.30 705.09L1148.80 705.60L1150.31 706.10L1151.81 706.61L1153.31 707.12L1154.81 707.63L1156.31 708.15L1157.81 708.66L1159.31 709.18L1160.81 709.71L1162.30 710.23L1163.80 710.76L1165.29 711.29L1166.79 711.82L1168.28 712.36L1169.77 712.90L1171.26 713.44L1172.75 713.98L1174.24 714.53L1175.73 715.08L1177.21 715.63L1178.70 716.18L1180.18 716.74L1181.67 717.30L1183.15 717.86L1184.63 718.43L1186.11 719.00L1187.59 719.57L1189.07 720.15L1190.55 720.72L1192.02 721.30L1193.50 721.89L1194.97 722.48L1196.44 723.07L1197.91 723.66L1199.38 724.26L1200.85 724.85L1202.32 725.46L1203.79 726.06L1205.25 726.67L1206.72 727.28L1208.18 727.90L1209.64 728.52L1211.10 729.14L1212.56 729.77L1214.02 730.40L1215.48 731.03L1216.93 731.66L1218.39 732.30L1219.84 732.95L1221.29 733.59L1222.74 734.24L1224.19 734.89L1225.64 735.55L1227.09 736.21L1228.53 736.87L1229.98 737.54L1231.42 738.21L1232.86 738.89L1234.30 739.56L1235.74 740.25L1237.18 740.93L1238.62 741.62L1240.05 742.31L1241.48 743.01L1242.92 743.71L1244.35 744.42L1245.78 745.13L1247.20 745.84L1248.63 746.55L1250.05 747.27L1251.48 748.00L1252.90 748.73L1254.32 749.46L1255.74 750.19L1257.16 750.93L1258.57 751.68L1259.99 752.43L1261.40 753.18L1262.81 753.94L1264.22 754.70L1265.63 755.46L1267.04 756.23L1268.45 757.00L1269.85 757.78L1271.25 758.56L1272.66 759.35L1274.05 760.14L1275.45 760.93L1276.85 761.73L1278.24 762.54L1279.64 763.34L1281.03 764.16L1282.42 764.97L1283.80 765.79L1285.19 766.62L1286.57 767.45L1287.95 768.29L1289.33 769.13L1290.71 769.97L1292.08 770.82L1293.45 771.67L1294.82 772.53L1296.18 773.40L1297.54 774.26L1298.90 775.14L1300.25 776.02L1301.60 776.90L1302.95 777.79L1304.29 778.68L1305.63 779.58L1306.97 780.48L1308.30 781.39L1309.63 782.30L1310.95 783.22L1312.27 784.15L1313.59 785.08L1314.90 786.01L1316.20 786.95L1317.51 787.90L1318.80 788.85L1320.09 789.80L1321.38 790.77L1322.66 791.73L1323.94 792.71L1325.21 793.68L1326.48 794.67L1327.74 795.66L1328.99 796.65L1330.24 797.65L1331.48 798.66L1332.72 799.67L1333.95 800.69L1335.18 801.71L1336.40 802.74L1337.61 803.78L1338.81 804.82L1340.01 805.87L1341.21 806.92L1342.39 807.98L1343.57 809.05L1344.74 810.12L1345.91 811.20L1347.07 812.28L1348.22 813.37L1349.36 814.47L1350.49 815.57L1351.62 816.68L1352.74 817.80L1353.85 818.92L1354.96 820.05L1356.06 821.18L1357.14 822.33L1358.22 823.47L1359.29 824.63L1360.36 825.79L1361.41 826.96L1362.46 828.13L1363.50 829.31L1364.52 830.50L1365.54 831.69L1366.55 832.90L1367.56 834.10L1368.55 835.32L1369.53 836.54L1370.50 837.77L1371.47 839.00L1372.42 840.25L1373.36 841.50L1374.30 842.75L1375.22 844.02L1376.13 845.29L1377.04 846.57L1377.93 847.85L1378.81 849.14L1379.69 850.44L1380.55 851.75L1381.40 853.06L1382.24 854.39L1383.07 855.72L1383.89 857.05L1384.69 858.40L1385.49 859.75L1386.27 861.10L1387.05 862.47L1387.81 863.84L1388.56 865.22L1389.31 866.61L1390.04 868.00L1390.76 869.40L1391.47 870.80L1392.17 872.21L1392.86 873.63L1393.54 875.05L1394.21 876.48L1394.87 877.92L1395.52 879.36L1396.16 880.80L1396.79 882.26L1397.41 883.71L1398.02 885.18L1398.62 886.64L1399.21 888.12L1399.79 889.59L1400.36 891.08L1400.92 892.57L1401.47 894.06L1402.01 895.56L1402.54 897.06L1403.07 898.56L1403.58 900.07L1404.09 901.59L1404.58 903.11L1405.07 904.63L1405.54 906.16L1406.01 907.69L1406.47 909.22L1406.92 910.76L1407.36 912.30L1407.80 913.84L1408.22 915.39L1408.64 916.94L1409.04 918.50L1409.44 920.05L1409.83 921.61L1410.21 923.18L1410.59 924.74L1410.95 926.31L1411.31 927.88L1411.66 929.45L1412.00 931.03L1412.33 932.61L1412.65 934.18L1412.97 935.77L1413.28 937.35L1413.58 938.93L1413.87 940.52L1414.16 942.11L1414.43 943.70L1414.70 945.29L1414.97 946.88L1415.22 948.47L1415.47 950.07L1415.71 951.66L1415.94 953.26L1416.17 954.85L1416.38 956.45L1416.59 958.05L1416.80 959.64L1417.00 961.24L1417.18 962.84L1417.37 964.44L1417.54 966.04L1417.71 967.64L1417.88 969.24L1418.04 970.84L1418.19 972.44L1418.33 974.04L1418.47 975.63L1418.61 977.23L1418.74 978.83L1418.86 980.43L1418.98 982.03L1419.09 983.63L1419.20 985.23L1419.30 986.83L1419.40 988.43L1419.49 990.03L1419.58 991.63L1419.67 993.22L1419.75 994.82L1419.83 996.42L1419.90 998.02L1419.97 999.61L1420.04 1001.21L1420.10 1002.80L1420.16 1004.40L1420.22 1006.00L1420.27 1007.59L1420.32 1009.18L1420.37 1010.78L1420.42 1012.37L1420.46 1013.96L1420.50 1015.55L1420.54 1017.14L1420.58 1018.73L1420.61 1020.32L1420.64 1021.91L1420.68 1023.50L1420.71 1025.09L1420.73 1026.67L1420.76 1028.26L1420.79 1029.84L1420.81 1031.43L1420.84 1033.01L1420.86 1034.59L1420.89 1036.17L1420.91 1037.75L1420.94 1039.33L1420.96 1040.90L1420.98 1042.48L1421.01 1044.06L1421.03 1045.63L1421.05 1047.20L1421.08 1048.77L1421.11 1050.34L1421.13 1051.91L1421.16 1053.48L1421.19 1055.05L1421.22 1056.61L1421.25 1058.17L1421.29 1059.74L1421.32 1061.30L1421.36 1062.86L1421.40 1064.41" stroke="#d91f10" stroke-width="3.2" fill="none" stroke-linejoin="round"/>
<path d="M1016.90 646.25L1018.77 646.57L1020.64 646.88L1022.51 647.20L1024.38 647.53L1026.25 647.85L1028.12 648.17L1029.99 648.50L1031.86 648.83L1033.72 649.16L1035.59 649.49L1037.46 649.82L1039.32 650.16L1041.18 650.50L1043.05 650.83L1044.91 651.17L1046.77 651.52L1048.64 651.86L1050.50 652.21L1052.36 652.55L1054.22 652.90L1056.07 653.26L1057.93 653.61L1059.79 653.96L1061.65 654.32L1063.50 654.68L1065.36 655.04L1067.21 655.40L1069.07 655.77L1070.92 656.14L1072.77 656.50L1074.62 656.88L1076.47 657.25L1078.32 657.62L1080.17 658.00L1082.02 658.38L1083.87 658.76L1085.72 659.14L1087.56 659.53L1089.41 659.91L1091.26 660.30L1093.10 660.69L1094.94 661.08L1096.79 661.48L1098.63 661.88L1100.47 662.28L1102.31 662.68L1104.15 663.08L1105.99 663.49L1107.83 663.89L1109.67 664.30L1111.50 664.72L1113.34 665.13L1115.18 665.55L1117.01 665.97L1118.85 666.39L1120.68 666.81L1122.51 667.24L1124.34 667.66L1126.17 668.09L1128.00 668.53L1129.83 668.96L1131.66 669.40L1133.49 669.84L1135.32 670.28L1137.15 670.72L1138.97 671.17L1140.80 671.62L1142.62 672.07L1144.44 672.52L1146.27 672.98L1148.09 673.44L1149.91 673.90L1151.73 674.36L1153.55 674.82L1155.37 675.29L1157.19 675.76L1159.01 676.23L1160.82 676.71L1162.64 677.19L1164.45 677.67L1166.27 678.15L1168.08 678.64L1169.90 679.12L1171.71 679.61L1173.52 680.11L1175.33 680.60L1177.14 681.10L1178.95 681.60L1180.76 682.10L1182.56 682.61L1184.37 683.12L1186.18 683.63L1187.98 684.14L1189.79 684.66L1191.59 685.18L1193.39 685.70L1195.20 686.22L1197.00 686.75L1198.80 687.28L1200.60 687.81L1202.40 688.35L1204.19 688.88L1205.99 689.42L1207.79 689.97L1209.58 690.51L1211.38 691.06L1213.17 691.61L1214.97 692.17L1216.76 692.72L1218.55 693.28L1220.34 693.85L1222.13 694.41L1223.92 694.98L1225.71 695.55L1227.50 696.13L1229.28 696.70L1231.07 697.28L1232.85 697.87L1234.64 698.45L1236.42 699.04L1238.20 699.63L1239.99 700.23L1241.77 700.83L1243.55 701.43L1245.33 702.03L1247.11 702.64L1248.88 703.25L1250.66 703.86L1252.44 704.47L1254.21 705.09L1255.99 705.71L1257.76 706.34L1259.53 706.97L1261.30 707.60L1263.08 708.23L1264.85 708.87L1266.62 709.51L1268.38 710.15L1270.15 710.80L1271.92 711.45L1273.68 712.10L1275.45 712.76L1277.21 713.42L1278.98 714.08L1280.74 714.74L1282.50 715.41L1284.26 716.08L1286.02 716.76L1287.78 717.44L1289.54 718.12L1291.30 718.80L1293.06 719.49L1294.81 720.18L1296.57 720.88L1298.32 721.58L1300.08 722.28L1301.83 722.98L1303.58 723.69L1305.33 724.40L1307.08 725.12L1308.83 725.83L1310.58 726.56L1312.33 727.28L1314.07 728.01L1315.82 728.74L1317.56 729.48L1319.31 730.21L1321.05 730.96L1322.79 731.70L1324.53 732.45L1326.27 733.20L1328.01 733.96L1329.75 734.72L1331.49 735.48L1333.23 736.25L1334.96 737.02L1336.70 737.79L1338.43 738.57L1340.16 739.35L1341.89 740.14L1343.62 740.92L1345.35 741.72L1347.08 742.52L1348.80 743.32L1350.52 744.12L1352.24 744.93L1353.96 745.75L1355.68 746.56L1357.39 747.39L1359.11 748.21L1360.82 749.05L1362.52 749.88L1364.23 750.72L1365.93 751.57L1367.63 752.42L1369.33 753.28L1371.03 754.14L1372.72 755.00L1374.41 755.87L1376.09 756.75L1377.77 757.63L1379.45 758.52L1381.13 759.41L1382.80 760.30L1384.47 761.21L1386.14 762.11L1387.80 763.03L1389.46 763.95L1391.11 764.87L1392.76 765.80L1394.41 766.74L1396.05 767.68L1397.69 768.62L1399.33 769.58L1400.96 770.54L1402.58 771.50L1404.20 772.48L1405.82 773.45L1407.43 774.44L1409.04 775.43L1410.64 776.43L1412.24 777.43L1413.83 778.44L1415.42 779.46L1417.00 780.48L1418.58 781.51L1420.15 782.55L1421.72 783.59L1423.28 784.64L1424.84 785.70L1426.39 786.76L1427.93 787.83L1429.47 788.91L1431.00 790.00L1432.53 791.09L1434.05 792.19L1435.56 793.30L1437.07 794.41L1438.57 795.53L1440.07 796.66L1441.56 797.80L1443.04 798.95L1444.52 800.10L1445.99 801.26L1447.45 802.43L1448.91 803.61L1450.36 804.79L1451.80 805.99L1453.23 807.19L1454.66 808.40L1456.08 809.61L1457.49 810.84L1458.90 812.07L1460.29 813.31L1461.68 814.57L1463.07 815.82L1464.44 817.09L1465.81 818.37L1467.17 819.65L1468.52 820.95L1469.86 822.25L1471.19 823.56L1472.52 824.88L1473.84 826.21L1475.15 827.55L1476.45 828.90L1477.74 830.26L1479.02 831.63L1480.30 833.00L1481.56 834.39L1482.82 835.78L1484.07 837.19L1485.31 838.60L1486.54 840.02L1487.76 841.46L1488.97 842.90L1490.17 844.35L1491.35 845.82L1492.53 847.29L1493.69 848.78L1494.84 850.27L1495.98 851.78L1497.09 853.30L1498.20 854.82L1499.29 856.36L1500.36 857.92L1501.41 859.48L1502.45 861.05L1503.47 862.64L1504.48 864.23L1505.46 865.83L1506.43 867.45L1507.38 869.08L1508.31 870.71L1509.23 872.36L1510.12 874.01L1511.00 875.68L1511.86 877.35L1512.69 879.04L1513.51 880.73L1514.31 882.43L1515.08 884.15L1515.84 885.87L1516.58 887.60L1517.29 889.34L1517.99 891.08L1518.68 892.84L1519.34 894.60L1519.98 896.37L1520.61 898.15L1521.22 899.93L1521.81 901.72L1522.39 903.52L1522.95 905.32L1523.50 907.13L1524.02 908.94L1524.54 910.76L1525.04 912.59L1525.52 914.42L1525.99 916.25L1526.45 918.09L1526.89 919.93L1527.32 921.78L1527.74 923.63L1528.14 925.48L1528.53 927.34L1528.91 929.20L1529.28 931.06L1529.64 932.92L1529.98 934.79L1530.32 936.66L1530.65 938.53L1530.96 940.40L1531.27 942.27L1531.56 944.14L1531.85 946.02L1532.13 947.89L1532.40 949.76L1532.66 951.64L1532.92 953.51L1533.16 955.38L1533.40 957.26L1533.63 959.13L1533.86 961.00L1534.08 962.88L1534.29 964.75L1534.49 966.62L1534.69 968.49L1534.88 970.37L1535.06 972.24L1535.24 974.11L1535.41 975.98L1535.57 977.86L1535.73 979.73L1535.88 981.60L1536.03 983.48L1536.17 985.35L1536.30 987.22L1536.43 989.10L1536.55 990.97L1536.67 992.84L1536.79 994.72L1536.89 996.59L1537.00 998.47L1537.10 1000.34L1537.19 1002.22L1537.28 1004.09L1537.37 1005.97L1537.45 1007.85L1537.52 1009.72L1537.60 1011.60L1537.67 1013.48L1537.73 1015.36L1537.79 1017.23L1537.85 1019.11L1537.91 1020.99L1537.96 1022.87L1538.01 1024.75L1538.05 1026.63L1538.09 1028.52L1538.13 1030.40L1538.17 1032.28L1538.20 1034.16L1538.24 1036.05L1538.27 1037.93L1538.29 1039.82L1538.32 1041.71L1538.34 1043.59L1538.37 1045.48L1538.39 1047.37L1538.40 1049.26L1538.42 1051.15L1538.44 1053.04L1538.45 1054.93L1538.47 1056.83L1538.48 1058.72L1538.49 1060.61L1538.50 1062.51L1538.52 1064.41" stroke="#8fd8e6" stroke-width="3.2" fill="none" stroke-linejoin="round"/>
<path d="M1017.00 639.39L1018.94 639.79L1020.87 640.18L1022.80 640.58L1024.74 640.97L1026.67 641.36L1028.60 641.75L1030.54 642.13L1032.47 642.52L1034.41 642.90L1036.35 643.29L1038.28 643.67L1040.22 644.05L1042.16 644.43L1044.09 644.82L1046.03 645.20L1047.97 645.57L1049.91 645.95L1051.85 646.33L1053.79 646.71L1055.72 647.08L1057.66 647.46L1059.60 647.84L1061.54 648.21L1063.48 648.59L1065.42 648.96L1067.36 649.34L1069.30 649.71L1071.24 650.08L1073.18 650.46L1075.12 650.83L1077.06 651.21L1079.00 651.58L1080.94 651.96L1082.88 652.33L1084.82 652.71L1086.77 653.08L1088.71 653.46L1090.65 653.84L1092.59 654.21L1094.53 654.59L1096.47 654.97L1098.41 655.35L1100.35 655.73L1102.29 656.11L1104.22 656.49L1106.16 656.88L1108.10 657.26L1110.04 657.64L1111.98 658.03L1113.92 658.42L1115.86 658.80L1117.80 659.19L1119.73 659.58L1121.67 659.98L1123.61 660.37L1125.54 660.76L1127.48 661.16L1129.42 661.56L1131.35 661.96L1133.29 662.36L1135.22 662.76L1137.16 663.17L1139.09 663.57L1141.02 663.98L1142.96 664.39L1144.89 664.80L1146.82 665.22L1148.75 665.63L1150.69 666.05L1152.62 666.47L1154.55 666.90L1156.48 667.32L1158.41 667.75L1160.33 668.18L1162.26 668.61L1164.19 669.05L1166.12 669.49L1168.04 669.93L1169.97 670.37L1171.89 670.82L1173.81 671.27L1175.74 671.72L1177.66 672.17L1179.58 672.63L1181.50 673.09L1183.42 673.56L1185.34 674.02L1187.26 674.49L1189.18 674.97L1191.09 675.44L1193.01 675.92L1194.92 676.41L1196.84 676.89L1198.75 677.38L1200.66 677.88L1202.57 678.38L1204.48 678.88L1206.39 679.38L1208.30 679.89L1210.21 680.41L1212.11 680.92L1214.02 681.44L1215.92 681.97L1217.82 682.50L1219.72 683.03L1221.62 683.57L1223.52 684.11L1225.42 684.65L1227.31 685.20L1229.21 685.76L1231.10 686.32L1232.99 686.88L1234.88 687.45L1236.77 688.02L1238.66 688.60L1240.54 689.18L1242.43 689.76L1244.31 690.35L1246.19 690.95L1248.07 691.55L1249.95 692.16L1251.83 692.77L1253.70 693.38L1255.58 694.00L1257.45 694.63L1259.32 695.25L1261.19 695.88L1263.06 696.52L1264.93 697.16L1266.80 697.80L1268.66 698.45L1270.53 699.10L1272.39 699.75L1274.25 700.41L1276.12 701.07L1277.98 701.73L1279.84 702.39L1281.70 703.06L1283.55 703.73L1285.41 704.40L1287.27 705.08L1289.13 705.75L1290.98 706.43L1292.84 707.11L1294.69 707.80L1296.55 708.48L1298.40 709.17L1300.25 709.85L1302.11 710.54L1303.96 711.23L1305.81 711.92L1307.66 712.61L1309.52 713.30L1311.37 714.00L1313.22 714.69L1315.07 715.38L1316.92 716.08L1318.77 716.77L1320.62 717.47L1322.48 718.16L1324.33 718.85L1326.18 719.55L1328.03 720.24L1329.88 720.93L1331.73 721.62L1333.59 722.31L1335.44 723.01L1337.29 723.70L1339.14 724.39L1341.00 725.08L1342.85 725.77L1344.70 726.46L1346.55 727.15L1348.40 727.85L1350.25 728.54L1352.10 729.24L1353.95 729.94L1355.79 730.64L1357.64 731.34L1359.49 732.04L1361.33 732.75L1363.17 733.46L1365.01 734.17L1366.85 734.89L1368.69 735.61L1370.53 736.33L1372.36 737.05L1374.20 737.78L1376.03 738.52L1377.85 739.26L1379.68 740.00L1381.51 740.75L1383.33 741.50L1385.15 742.26L1386.96 743.02L1388.78 743.79L1390.59 744.57L1392.40 745.35L1394.21 746.14L1396.01 746.93L1397.81 747.73L1399.61 748.54L1401.40 749.35L1403.19 750.18L1404.98 751.01L1406.76 751.84L1408.54 752.69L1410.32 753.54L1412.09 754.40L1413.86 755.27L1415.62 756.15L1417.38 757.04L1419.14 757.93L1420.89 758.84L1422.64 759.76L1424.38 760.68L1426.12 761.62L1427.85 762.56L1429.58 763.52L1431.31 764.48L1433.03 765.46L1434.74 766.44L1436.45 767.44L1438.15 768.44L1439.85 769.46L1441.55 770.48L1443.23 771.52L1444.91 772.57L1446.59 773.62L1448.26 774.69L1449.92 775.76L1451.58 776.85L1453.23 777.94L1454.88 779.05L1456.52 780.16L1458.15 781.29L1459.77 782.42L1461.39 783.57L1463.00 784.72L1464.61 785.88L1466.21 787.06L1467.80 788.24L1469.38 789.44L1470.95 790.64L1472.52 791.85L1474.08 793.08L1475.63 794.31L1477.18 795.55L1478.72 796.80L1480.24 798.06L1481.76 799.33L1483.28 800.61L1484.78 801.91L1486.28 803.21L1487.76 804.51L1489.24 805.83L1490.71 807.16L1492.17 808.50L1493.62 809.85L1495.06 811.21L1496.49 812.57L1497.92 813.95L1499.33 815.34L1500.73 816.73L1502.13 818.14L1503.51 819.55L1504.89 820.97L1506.25 822.41L1507.61 823.85L1508.95 825.30L1510.28 826.76L1511.61 828.23L1512.92 829.71L1514.22 831.20L1515.51 832.70L1516.79 834.21L1518.06 835.73L1519.32 837.26L1520.56 838.79L1521.79 840.34L1523.01 841.89L1524.21 843.46L1525.40 845.03L1526.58 846.62L1527.75 848.21L1528.89 849.81L1530.03 851.43L1531.15 853.05L1532.25 854.68L1533.34 856.32L1534.41 857.98L1535.47 859.64L1536.51 861.31L1537.53 862.99L1538.54 864.68L1539.53 866.38L1540.50 868.09L1541.46 869.80L1542.40 871.53L1543.32 873.26L1544.23 875.01L1545.13 876.76L1546.00 878.52L1546.86 880.28L1547.71 882.06L1548.53 883.84L1549.35 885.63L1550.14 887.43L1550.92 889.23L1551.68 891.04L1552.43 892.86L1553.16 894.69L1553.88 896.52L1554.58 898.36L1555.26 900.20L1555.93 902.05L1556.58 903.91L1557.21 905.77L1557.83 907.64L1558.43 909.51L1559.02 911.39L1559.59 913.28L1560.14 915.17L1560.68 917.06L1561.21 918.96L1561.71 920.86L1562.21 922.77L1562.68 924.68L1563.14 926.60L1563.59 928.52L1564.02 930.45L1564.44 932.38L1564.84 934.31L1565.23 936.24L1565.61 938.18L1565.97 940.13L1566.32 942.07L1566.66 944.02L1566.98 945.98L1567.30 947.93L1567.60 949.89L1567.89 951.85L1568.16 953.82L1568.43 955.78L1568.69 957.75L1568.94 959.72L1569.17 961.70L1569.40 963.67L1569.62 965.65L1569.82 967.63L1570.02 969.61L1570.21 971.59L1570.39 973.57L1570.57 975.56L1570.73 977.54L1570.89 979.53L1571.04 981.52L1571.19 983.51L1571.32 985.50L1571.45 987.49L1571.58 989.48L1571.70 991.47L1571.81 993.46L1571.92 995.45L1572.02 997.45L1572.12 999.44L1572.21 1001.43L1572.30 1003.42L1572.39 1005.41L1572.47 1007.40L1572.55 1009.39L1572.62 1011.38L1572.69 1013.36L1572.76 1015.35L1572.83 1017.34L1572.90 1019.32L1572.96 1021.30L1573.02 1023.28L1573.08 1025.26L1573.14 1027.24L1573.20 1029.22L1573.26 1031.19L1573.32 1033.16L1573.38 1035.13L1573.44 1037.10L1573.51 1039.07L1573.57 1041.03L1573.63 1042.99L1573.70 1044.95L1573.76 1046.90L1573.83 1048.85L1573.91 1050.80L1573.98 1052.74L1574.06 1054.68L1574.14 1056.62L1574.22 1058.56L1574.31 1060.49L1574.41 1062.41L1574.50 1064.34" stroke="#70c000" stroke-width="3.2" fill="none" stroke-linejoin="round"/>
<path d="M1017.02 636.84L1019.01 637.21L1021.00 637.58L1022.99 637.96L1024.98 638.33L1026.97 638.70L1028.97 639.08L1030.96 639.45L1032.95 639.83L1034.95 640.20L1036.94 640.58L1038.93 640.95L1040.93 641.33L1042.92 641.71L1044.91 642.09L1046.91 642.46L1048.90 642.84L1050.90 643.22L1052.89 643.60L1054.89 643.98L1056.88 644.36L1058.88 644.75L1060.87 645.13L1062.87 645.51L1064.86 645.90L1066.86 646.28L1068.85 646.67L1070.85 647.05L1072.84 647.44L1074.84 647.83L1076.83 648.22L1078.83 648.61L1080.83 649.00L1082.82 649.39L1084.82 649.78L1086.81 650.18L1088.81 650.57L1090.80 650.97L1092.80 651.37L1094.79 651.76L1096.79 652.16L1098.78 652.56L1100.78 652.97L1102.77 653.37L1104.77 653.77L1106.76 654.18L1108.76 654.59L1110.75 654.99L1112.74 655.40L1114.74 655.81L1116.73 656.22L1118.73 656.64L1120.72 657.05L1122.71 657.47L1124.70 657.89L1126.70 658.30L1128.69 658.72L1130.68 659.15L1132.67 659.57L1134.66 659.99L1136.65 660.42L1138.64 660.85L1140.64 661.28L1142.63 661.71L1144.61 662.14L1146.60 662.58L1148.59 663.01L1150.58 663.45L1152.57 663.89L1154.56 664.33L1156.54 664.78L1158.53 665.22L1160.52 665.67L1162.50 666.12L1164.49 666.57L1166.47 667.02L1168.46 667.48L1170.44 667.93L1172.43 668.39L1174.41 668.85L1176.39 669.32L1178.37 669.78L1180.35 670.25L1182.34 670.72L1184.32 671.19L1186.30 671.66L1188.27 672.14L1190.25 672.61L1192.23 673.09L1194.21 673.58L1196.18 674.06L1198.16 674.55L1200.14 675.04L1202.11 675.53L1204.08 676.02L1206.06 676.52L1208.03 677.01L1210.00 677.51L1211.97 678.02L1213.94 678.52L1215.91 679.03L1217.88 679.54L1219.85 680.05L1221.82 680.57L1223.78 681.09L1225.75 681.61L1227.71 682.13L1229.68 682.66L1231.64 683.19L1233.60 683.72L1235.56 684.25L1237.52 684.79L1239.48 685.33L1241.44 685.87L1243.40 686.42L1245.36 686.97L1247.31 687.52L1249.27 688.07L1251.22 688.63L1253.18 689.19L1255.13 689.75L1257.08 690.31L1259.03 690.88L1260.98 691.45L1262.93 692.03L1264.88 692.61L1266.82 693.19L1268.77 693.77L1270.71 694.36L1272.65 694.95L1274.60 695.54L1276.54 696.14L1278.48 696.74L1280.42 697.34L1282.35 697.95L1284.29 698.55L1286.23 699.17L1288.16 699.78L1290.09 700.40L1292.02 701.02L1293.95 701.65L1295.88 702.28L1297.81 702.91L1299.74 703.55L1301.67 704.19L1303.59 704.83L1305.51 705.48L1307.43 706.13L1309.36 706.78L1311.27 707.44L1313.19 708.10L1315.11 708.77L1317.03 709.44L1318.94 710.11L1320.85 710.78L1322.76 711.46L1324.67 712.15L1326.58 712.83L1328.49 713.53L1330.40 714.22L1332.30 714.92L1334.20 715.62L1336.11 716.33L1338.01 717.04L1339.91 717.75L1341.80 718.47L1343.70 719.19L1345.60 719.92L1347.49 720.64L1349.38 721.38L1351.27 722.11L1353.16 722.85L1355.05 723.59L1356.94 724.34L1358.83 725.09L1360.71 725.85L1362.60 726.60L1364.48 727.36L1366.36 728.13L1368.24 728.89L1370.12 729.67L1372.00 730.44L1373.88 731.22L1375.76 732.00L1377.63 732.78L1379.51 733.57L1381.38 734.36L1383.26 735.16L1385.13 735.95L1387.00 736.75L1388.87 737.56L1390.74 738.37L1392.61 739.18L1394.47 739.99L1396.34 740.81L1398.21 741.63L1400.07 742.45L1401.93 743.27L1403.80 744.10L1405.66 744.93L1407.52 745.77L1409.38 746.61L1411.24 747.45L1413.10 748.29L1414.96 749.14L1416.82 749.99L1418.68 750.84L1420.54 751.69L1422.39 752.55L1424.25 753.41L1426.10 754.28L1427.96 755.14L1429.81 756.01L1431.67 756.88L1433.52 757.76L1435.37 758.64L1437.21 759.52L1439.06 760.41L1440.90 761.31L1442.75 762.20L1444.58 763.11L1446.42 764.01L1448.25 764.93L1450.08 765.84L1451.91 766.77L1453.73 767.70L1455.54 768.64L1457.36 769.58L1459.17 770.53L1460.97 771.49L1462.77 772.46L1464.56 773.43L1466.35 774.41L1468.13 775.40L1469.91 776.40L1471.67 777.40L1473.44 778.42L1475.19 779.44L1476.94 780.48L1478.69 781.52L1480.42 782.57L1482.15 783.64L1483.87 784.71L1485.58 785.79L1487.28 786.89L1488.98 787.99L1490.66 789.11L1492.34 790.24L1494.01 791.38L1495.67 792.53L1497.31 793.69L1498.95 794.87L1500.58 796.06L1502.20 797.26L1503.80 798.48L1505.40 799.71L1506.99 800.95L1508.56 802.21L1510.12 803.48L1511.67 804.76L1513.21 806.06L1514.74 807.38L1516.25 808.71L1517.75 810.05L1519.24 811.41L1520.71 812.79L1522.17 814.18L1523.62 815.59L1525.05 817.02L1526.48 818.46L1527.88 819.92L1529.28 821.39L1530.67 822.87L1532.04 824.36L1533.41 825.87L1534.77 827.38L1536.13 828.90L1537.47 830.43L1538.82 831.96L1540.16 833.50L1541.49 835.05L1542.82 836.60L1544.14 838.16L1545.46 839.71L1546.78 841.28L1548.08 842.84L1549.38 844.42L1550.67 846.00L1551.94 847.59L1553.20 849.19L1554.44 850.80L1555.65 852.43L1556.85 854.07L1558.02 855.73L1559.16 857.40L1560.28 859.08L1561.37 860.79L1562.44 862.50L1563.49 864.24L1564.51 865.98L1565.51 867.74L1566.48 869.51L1567.44 871.29L1568.37 873.09L1569.28 874.90L1570.16 876.72L1571.03 878.55L1571.87 880.39L1572.70 882.24L1573.50 884.11L1574.29 885.98L1575.05 887.86L1575.80 889.75L1576.53 891.65L1577.24 893.55L1577.93 895.47L1578.60 897.39L1579.26 899.32L1579.90 901.25L1580.52 903.19L1581.12 905.14L1581.72 907.09L1582.29 909.05L1582.85 911.01L1583.40 912.98L1583.93 914.95L1584.44 916.92L1584.94 918.89L1585.43 920.87L1585.91 922.85L1586.37 924.84L1586.82 926.82L1587.26 928.81L1587.69 930.80L1588.10 932.79L1588.50 934.79L1588.89 936.78L1589.27 938.78L1589.64 940.78L1589.99 942.78L1590.33 944.79L1590.67 946.79L1590.99 948.80L1591.30 950.81L1591.60 952.82L1591.90 954.83L1592.18 956.84L1592.45 958.86L1592.71 960.88L1592.97 962.89L1593.21 964.91L1593.44 966.93L1593.67 968.96L1593.89 970.98L1594.10 973.00L1594.30 975.03L1594.49 977.05L1594.68 979.08L1594.86 981.11L1595.03 983.14L1595.19 985.17L1595.35 987.20L1595.49 989.23L1595.64 991.26L1595.77 993.29L1595.90 995.33L1596.03 997.36L1596.14 999.39L1596.26 1001.43L1596.36 1003.46L1596.46 1005.50L1596.56 1007.53L1596.65 1009.57L1596.74 1011.60L1596.82 1013.64L1596.90 1015.67L1596.97 1017.71L1597.04 1019.74L1597.11 1021.78L1597.17 1023.81L1597.23 1025.85L1597.28 1027.88L1597.33 1029.92L1597.38 1031.95L1597.43 1033.98L1597.47 1036.01L1597.51 1038.05L1597.55 1040.08L1597.59 1042.11L1597.63 1044.14L1597.66 1046.17L1597.70 1048.20L1597.73 1050.22L1597.76 1052.25L1597.79 1054.27L1597.82 1056.30L1597.85 1058.32L1597.88 1060.35L1597.91 1062.37L1597.94 1064.39" stroke="#c044a8" stroke-width="3.2" fill="none" stroke-linejoin="round"/>
<path d="M1017.02 635.26L1019.03 635.62L1021.04 635.98L1023.05 636.34L1025.06 636.70L1027.07 637.07L1029.08 637.43L1031.09 637.79L1033.10 638.15L1035.11 638.52L1037.12 638.88L1039.14 639.25L1041.15 639.62L1043.16 639.98L1045.17 640.35L1047.19 640.72L1049.20 641.09L1051.21 641.46L1053.22 641.83L1055.24 642.20L1057.25 642.58L1059.27 642.95L1061.28 643.32L1063.29 643.70L1065.31 644.08L1067.32 644.45L1069.34 644.83L1071.35 645.21L1073.36 645.59L1075.38 645.97L1077.39 646.36L1079.41 646.74L1081.42 647.13L1083.44 647.51L1085.45 647.90L1087.46 648.29L1089.48 648.68L1091.49 649.07L1093.51 649.46L1095.52 649.85L1097.53 650.25L1099.55 650.64L1101.56 651.04L1103.58 651.44L1105.59 651.84L1107.60 652.24L1109.62 652.64L1111.63 653.05L1113.64 653.45L1115.65 653.86L1117.67 654.27L1119.68 654.68L1121.69 655.09L1123.70 655.50L1125.71 655.92L1127.72 656.33L1129.74 656.75L1131.75 657.17L1133.76 657.59L1135.77 658.01L1137.78 658.44L1139.79 658.86L1141.80 659.29L1143.80 659.72L1145.81 660.15L1147.82 660.59L1149.83 661.02L1151.84 661.46L1153.84 661.90L1155.85 662.34L1157.86 662.78L1159.86 663.22L1161.87 663.67L1163.87 664.11L1165.88 664.56L1167.88 665.02L1169.88 665.47L1171.88 665.93L1173.89 666.38L1175.89 666.84L1177.89 667.30L1179.89 667.77L1181.89 668.23L1183.89 668.70L1185.89 669.17L1187.89 669.65L1189.89 670.12L1191.88 670.60L1193.88 671.08L1195.88 671.56L1197.87 672.04L1199.87 672.53L1201.86 673.01L1203.85 673.50L1205.85 674.00L1207.84 674.49L1209.83 674.99L1211.82 675.49L1213.81 675.99L1215.80 676.50L1217.79 677.00L1219.77 677.51L1221.76 678.03L1223.75 678.54L1225.73 679.06L1227.72 679.58L1229.70 680.10L1231.68 680.63L1233.66 681.15L1235.64 681.68L1237.62 682.22L1239.60 682.75L1241.58 683.29L1243.56 683.83L1245.53 684.38L1247.51 684.92L1249.48 685.47L1251.46 686.02L1253.43 686.58L1255.40 687.14L1257.37 687.70L1259.34 688.26L1261.31 688.83L1263.28 689.40L1265.25 689.97L1267.21 690.54L1269.18 691.12L1271.14 691.70L1273.10 692.29L1275.06 692.87L1277.02 693.47L1278.98 694.06L1280.94 694.66L1282.90 695.25L1284.85 695.86L1286.81 696.46L1288.76 697.07L1290.71 697.68L1292.67 698.30L1294.62 698.92L1296.56 699.54L1298.51 700.17L1300.46 700.79L1302.40 701.43L1304.35 702.06L1306.29 702.70L1308.23 703.34L1310.17 703.99L1312.11 704.64L1314.05 705.29L1315.98 705.94L1317.92 706.60L1319.85 707.27L1321.78 707.93L1323.71 708.60L1325.64 709.27L1327.57 709.95L1329.50 710.63L1331.42 711.32L1333.35 712.00L1335.27 712.69L1337.19 713.39L1339.11 714.09L1341.03 714.79L1342.94 715.50L1344.86 716.20L1346.77 716.92L1348.69 717.63L1350.60 718.36L1352.51 719.08L1354.42 719.81L1356.33 720.54L1358.23 721.28L1360.14 722.02L1362.04 722.76L1363.94 723.51L1365.85 724.26L1367.75 725.01L1369.64 725.77L1371.54 726.53L1373.44 727.30L1375.33 728.07L1377.23 728.84L1379.12 729.62L1381.01 730.40L1382.90 731.19L1384.79 731.98L1386.68 732.77L1388.57 733.57L1390.46 734.37L1392.34 735.18L1394.23 735.99L1396.11 736.80L1397.99 737.62L1399.87 738.44L1401.75 739.27L1403.63 740.10L1405.51 740.93L1407.39 741.77L1409.26 742.62L1411.14 743.46L1413.01 744.31L1414.89 745.17L1416.76 746.03L1418.63 746.89L1420.50 747.76L1422.37 748.63L1424.24 749.50L1426.10 750.38L1427.97 751.27L1429.84 752.16L1431.70 753.05L1433.56 753.95L1435.42 754.85L1437.28 755.76L1439.14 756.67L1440.99 757.59L1442.85 758.51L1444.70 759.44L1446.54 760.38L1448.39 761.32L1450.23 762.26L1452.07 763.22L1453.90 764.18L1455.73 765.14L1457.56 766.11L1459.38 767.09L1461.20 768.08L1463.02 769.07L1464.82 770.07L1466.63 771.08L1468.43 772.09L1470.23 773.11L1472.02 774.14L1473.80 775.18L1475.58 776.22L1477.35 777.28L1479.12 778.34L1480.88 779.41L1482.64 780.49L1484.38 781.57L1486.12 782.67L1487.86 783.78L1489.59 784.89L1491.31 786.01L1493.02 787.15L1494.73 788.29L1496.42 789.44L1498.11 790.60L1499.80 791.78L1501.47 792.96L1503.13 794.15L1504.79 795.35L1506.44 796.57L1508.08 797.79L1509.70 799.02L1511.32 800.27L1512.93 801.53L1514.54 802.80L1516.13 804.08L1517.71 805.37L1519.28 806.67L1520.84 807.98L1522.39 809.31L1523.92 810.65L1525.45 812.00L1526.97 813.36L1528.47 814.74L1529.97 816.13L1531.45 817.53L1532.92 818.95L1534.38 820.37L1535.82 821.81L1537.25 823.27L1538.68 824.73L1540.08 826.21L1541.48 827.70L1542.86 829.20L1544.23 830.71L1545.59 832.24L1546.93 833.78L1548.26 835.33L1549.58 836.89L1550.88 838.46L1552.17 840.04L1553.45 841.64L1554.71 843.24L1555.96 844.86L1557.19 846.49L1558.41 848.13L1559.61 849.78L1560.80 851.44L1561.97 853.11L1563.13 854.79L1564.27 856.48L1565.40 858.18L1566.51 859.89L1567.61 861.61L1568.69 863.34L1569.76 865.08L1570.81 866.83L1571.84 868.59L1572.86 870.36L1573.86 872.14L1574.84 873.92L1575.81 875.72L1576.76 877.52L1577.69 879.33L1578.60 881.16L1579.50 882.99L1580.38 884.82L1581.25 886.67L1582.09 888.53L1582.92 890.39L1583.73 892.26L1584.52 894.14L1585.30 896.02L1586.05 897.92L1586.79 899.82L1587.51 901.73L1588.21 903.64L1588.89 905.57L1589.55 907.50L1590.19 909.43L1590.81 911.38L1591.41 913.33L1592.00 915.29L1592.56 917.25L1593.10 919.22L1593.63 921.19L1594.13 923.18L1594.62 925.16L1595.08 927.16L1595.53 929.16L1595.96 931.16L1596.37 933.17L1596.76 935.18L1597.14 937.20L1597.50 939.23L1597.84 941.25L1598.17 943.29L1598.48 945.32L1598.78 947.36L1599.07 949.41L1599.34 951.45L1599.59 953.50L1599.83 955.56L1600.06 957.62L1600.28 959.68L1600.49 961.74L1600.68 963.80L1600.86 965.87L1601.03 967.94L1601.19 970.01L1601.35 972.08L1601.49 974.16L1601.62 976.23L1601.74 978.31L1601.86 980.38L1601.96 982.46L1602.06 984.54L1602.15 986.62L1602.24 988.70L1602.32 990.78L1602.39 992.86L1602.46 994.94L1602.52 997.02L1602.58 999.10L1602.63 1001.17L1602.68 1003.25L1602.72 1005.33L1602.76 1007.40L1602.80 1009.47L1602.84 1011.54L1602.87 1013.61L1602.91 1015.68L1602.94 1017.75L1602.97 1019.81L1603.00 1021.87L1603.04 1023.93L1603.07 1025.98L1603.10 1028.04L1603.14 1030.08L1603.18 1032.13L1603.22 1034.17L1603.26 1036.21L1603.31 1038.25L1603.35 1040.28L1603.41 1042.31L1603.47 1044.33L1603.53 1046.35L1603.60 1048.37L1603.67 1050.38L1603.75 1052.39L1603.84 1054.39L1603.93 1056.38L1604.04 1058.37L1604.15 1060.36L1604.26 1062.34L1604.39 1064.31" stroke="#3441a2" stroke-width="3.2" fill="none" stroke-linejoin="round"/>
</g>
<line x1="1217.3" y1="85.9" x2="1417.36" y2="327.82" stroke="#111111" stroke-width="2.4"/>
<path d="M1425.2 337.3L1409.15 328.25L1417.36 327.82L1419.32 319.84Z" fill="#111111"/>
<line x1="602.8" y1="729.8" x2="248.24" y2="816.96" stroke="#111111" stroke-width="2.4"/>
<path d="M236.3 819.9L251.43 809.38L248.24 816.96L254.58 822.2Z" fill="#111111"/>
<line x1="1353" y1="829.6" x2="1479.13" y2="759.95" stroke="#111111" stroke-width="2.4"/>
<path d="M1489.9 754L1478.03 768.09L1479.13 759.95L1471.65 756.54Z" fill="#111111"/>
<line x1="291.5" y1="53.5" x2="345.6" y2="53.5" stroke="#3441a2" stroke-width="3.3" stroke-dasharray="10.7 10.8"/>
<line x1="291.5" y1="85" x2="345.6" y2="85" stroke="#3441a2" stroke-width="3.3"/>
<line x1="291.5" y1="116.9" x2="345.6" y2="116.9" stroke="#3441a2" stroke-width="3.3" stroke-dasharray="2.9 2.4"/>
<text x="342.24" y="67.19" font-family="IPAGothic, 'Liberation Serif', serif" font-style="italic" font-size="27.94" fill="#111111">γ</text>
<text x="375.16" y="63.5" font-family="'Liberation Sans', Arial, Helvetica, sans-serif" font-size="26" font-weight="bold" fill="#111111">=</text>
<text x="398.76" y="63.5" font-family="'Liberation Sans', Arial, Helvetica, sans-serif" font-size="26" font-weight="bold" fill="#111111">1</text>
<text x="342.24" y="98.69" font-family="IPAGothic, 'Liberation Serif', serif" font-style="italic" font-size="27.94" fill="#111111">γ</text>
<text x="375.16" y="95" font-family="'Liberation Sans', Arial, Helvetica, sans-serif" font-size="26" font-weight="bold" fill="#111111">=</text>
<text x="398.76" y="95" font-family="'Liberation Sans', Arial, Helvetica, sans-serif" font-size="26" font-weight="bold" fill="#111111">3</text>
<text x="342.24" y="130.59" font-family="IPAGothic, 'Liberation Serif', serif" font-style="italic" font-size="27.94" fill="#111111">γ</text>
<text x="375.16" y="126.9" font-family="'Liberation Sans', Arial, Helvetica, sans-serif" font-size="26" font-weight="bold" fill="#111111">=</text>
<text x="398.76" y="126.9" font-family="'Liberation Sans', Arial, Helvetica, sans-serif" font-size="26" font-weight="bold" fill="#111111">5</text>
<text x="612.08" y="100.59" font-family="IPAGothic, 'Liberation Serif', serif" font-style="italic" font-size="26.83" fill="#111111">γ</text>
<text x="644.48" y="96.7" font-family="'Liberation Sans', Arial, Helvetica, sans-serif" font-size="25.5" font-weight="bold" fill="#111111">=</text>
<text x="668.48" y="96.7" font-family="'Liberation Sans', Arial, Helvetica, sans-serif" font-size="25.5" font-weight="bold" fill="#111111">1</text>
<text x="612.08" y="205.79" font-family="IPAGothic, 'Liberation Serif', serif" font-style="italic" font-size="26.83" fill="#111111">γ</text>
<text x="644.48" y="201.9" font-family="'Liberation Sans', Arial, Helvetica, sans-serif" font-size="25.5" font-weight="bold" fill="#111111">=</text>
<text x="668.48" y="201.9" font-family="'Liberation Sans', Arial, Helvetica, sans-serif" font-size="25.5" font-weight="bold" fill="#111111">3</text>
<text x="612.08" y="279.09" font-family="IPAGothic, 'Liberation Serif', serif" font-style="italic" font-size="26.83" fill="#111111">γ</text>
<text x="644.48" y="275.2" font-family="'Liberation Sans', Arial, Helvetica, sans-serif" font-size="25.5" font-weight="bold" fill="#111111">=</text>
<text x="668.48" y="275.2" font-family="'Liberation Sans', Arial, Helvetica, sans-serif" font-size="25.5" font-weight="bold" fill="#111111">5</text>
<line x1="1479" y1="303.7" x2="1528.2" y2="303.7" stroke="#3441a2" stroke-width="3.2"/>
<text x="1524.42" y="315.77" font-family="IPAGothic, 'Liberation Serif', serif" font-style="italic" font-size="24.76" fill="#111111">γ</text>
<text x="1552.07" y="312.4" font-family="'Liberation Sans', Arial, Helvetica, sans-serif" font-size="23.3" font-weight="bold" fill="#111111">=</text>
<text x="1572.27" y="312.4" font-family="'Liberation Sans', Arial, Helvetica, sans-serif" font-size="23.3" font-weight="bold" fill="#111111">0.1</text>
<line x1="1479" y1="331.86" x2="1528.2" y2="331.86" stroke="#c044a8" stroke-width="3.2"/>
<text x="1524.42" y="343.93" font-family="IPAGothic, 'Liberation Serif', serif" font-style="italic" font-size="24.76" fill="#111111">γ</text>
<text x="1552.07" y="340.56" font-family="'Liberation Sans', Arial, Helvetica, sans-serif" font-size="23.3" font-weight="bold" fill="#111111">=</text>
<text x="1572.27" y="340.56" font-family="'Liberation Sans', Arial, Helvetica, sans-serif" font-size="23.3" font-weight="bold" fill="#111111">1</text>
<line x1="1479" y1="360.02" x2="1528.2" y2="360.02" stroke="#70c000" stroke-width="3.2"/>
<text x="1524.42" y="372.09" font-family="IPAGothic, 'Liberation Serif', serif" font-style="italic" font-size="24.76" fill="#111111">γ</text>
<text x="1552.07" y="368.72" font-family="'Liberation Sans', Arial, Helvetica, sans-serif" font-size="23.3" font-weight="bold" fill="#111111">=</text>
<text x="1572.27" y="368.72" font-family="'Liberation Sans', Arial, Helvetica, sans-serif" font-size="23.3" font-weight="bold" fill="#111111">2</text>
<line x1="1479" y1="388.18" x2="1528.2" y2="388.18" stroke="#8fd8e6" stroke-width="3.2"/>
<text x="1524.42" y="400.25" font-family="IPAGothic, 'Liberation Serif', serif" font-style="italic" font-size="24.76" fill="#111111">γ</text>
<text x="1552.07" y="396.88" font-family="'Liberation Sans', Arial, Helvetica, sans-serif" font-size="23.3" font-weight="bold" fill="#111111">=</text>
<text x="1572.27" y="396.88" font-family="'Liberation Sans', Arial, Helvetica, sans-serif" font-size="23.3" font-weight="bold" fill="#111111">3</text>
<line x1="1479" y1="416.34" x2="1528.2" y2="416.34" stroke="#f8d000" stroke-width="3.2"/>
<text x="1524.42" y="428.41" font-family="IPAGothic, 'Liberation Serif', serif" font-style="italic" font-size="24.76" fill="#111111">γ</text>
<text x="1552.07" y="425.04" font-family="'Liberation Sans', Arial, Helvetica, sans-serif" font-size="23.3" font-weight="bold" fill="#111111">=</text>
<text x="1572.27" y="425.04" font-family="'Liberation Sans', Arial, Helvetica, sans-serif" font-size="23.3" font-weight="bold" fill="#111111">4</text>
<line x1="1479" y1="444.5" x2="1528.2" y2="444.5" stroke="#d91f10" stroke-width="3.2"/>
<text x="1524.42" y="456.57" font-family="IPAGothic, 'Liberation Serif', serif" font-style="italic" font-size="24.76" fill="#111111">γ</text>
<text x="1552.07" y="453.2" font-family="'Liberation Sans', Arial, Helvetica, sans-serif" font-size="23.3" font-weight="bold" fill="#111111">=</text>
<text x="1572.27" y="453.2" font-family="'Liberation Sans', Arial, Helvetica, sans-serif" font-size="23.3" font-weight="bold" fill="#111111">5</text>
<text x="1123.68" y="79.9" font-family="'Liberation Sans', Arial, Helvetica, sans-serif" font-size="26" font-weight="bold" fill="#111111">Increasing</text>
<text x="1255.23" y="83.07" font-family="IPAGothic, 'Liberation Serif', serif" font-style="italic" font-size="26.98" fill="#111111">γ</text>
<text x="564.68" y="718.3" font-family="'Liberation Sans', Arial, Helvetica, sans-serif" font-size="26" font-weight="bold" fill="#111111">Increasing</text>
<text x="696.49" y="721.56" font-family="IPAGothic, 'Liberation Serif', serif" font-style="italic" font-size="27.14" fill="#111111">γ</text>
<text x="1461.98" y="744.9" font-family="'Liberation Sans', Arial, Helvetica, sans-serif" font-size="26" font-weight="bold" fill="#111111">Increasing</text>
<text x="1600.48" y="744.9" font-family="'Liberation Sans', Arial, Helvetica, sans-serif" font-size="26" font-weight="bold" fill="#111111">E</text>
<text x="1617.4" y="757.1" font-family="'Liberation Sans', Arial, Helvetica, sans-serif" font-size="20" font-weight="bold" fill="#111111">0</text>
<line x1="142.1" y1="869.3" x2="192.2" y2="869.3" stroke="#3441a2" stroke-width="3.2"/>
<text x="188.04" y="882.96" font-family="IPAGothic, 'Liberation Serif', serif" font-style="italic" font-size="28.25" fill="#111111">γ</text>
<text x="219.16" y="879.6" font-family="'Liberation Sans', Arial, Helvetica, sans-serif" font-size="26" font-weight="bold" fill="#111111">=</text>
<text x="241.66" y="879.6" font-family="'Liberation Sans', Arial, Helvetica, sans-serif" font-size="26" font-weight="bold" fill="#111111">0.1</text>
<line x1="142.1" y1="901.1" x2="192.2" y2="901.1" stroke="#f8d000" stroke-width="3.2"/>
<text x="188.04" y="914.76" font-family="IPAGothic, 'Liberation Serif', serif" font-style="italic" font-size="28.25" fill="#111111">γ</text>
<text x="219.16" y="911.4" font-family="'Liberation Sans', Arial, Helvetica, sans-serif" font-size="26" font-weight="bold" fill="#111111">=</text>
<text x="241.66" y="911.4" font-family="'Liberation Sans', Arial, Helvetica, sans-serif" font-size="26" font-weight="bold" fill="#111111">1</text>
<line x1="142.1" y1="932.9" x2="192.2" y2="932.9" stroke="#70c000" stroke-width="3.2"/>
<text x="188.04" y="946.56" font-family="IPAGothic, 'Liberation Serif', serif" font-style="italic" font-size="28.25" fill="#111111">γ</text>
<text x="219.16" y="943.2" font-family="'Liberation Sans', Arial, Helvetica, sans-serif" font-size="26" font-weight="bold" fill="#111111">=</text>
<text x="241.66" y="943.2" font-family="'Liberation Sans', Arial, Helvetica, sans-serif" font-size="26" font-weight="bold" fill="#111111">2</text>
<line x1="142.1" y1="964.7" x2="192.2" y2="964.7" stroke="#c044a8" stroke-width="3.2"/>
<text x="188.04" y="978.36" font-family="IPAGothic, 'Liberation Serif', serif" font-style="italic" font-size="28.25" fill="#111111">γ</text>
<text x="219.16" y="975" font-family="'Liberation Sans', Arial, Helvetica, sans-serif" font-size="26" font-weight="bold" fill="#111111">=</text>
<text x="241.66" y="975" font-family="'Liberation Sans', Arial, Helvetica, sans-serif" font-size="26" font-weight="bold" fill="#111111">3</text>
<line x1="142.1" y1="996.5" x2="192.2" y2="996.5" stroke="#8fd8e6" stroke-width="3.2"/>
<text x="188.04" y="1010.16" font-family="IPAGothic, 'Liberation Serif', serif" font-style="italic" font-size="28.25" fill="#111111">γ</text>
<text x="219.16" y="1006.8" font-family="'Liberation Sans', Arial, Helvetica, sans-serif" font-size="26" font-weight="bold" fill="#111111">=</text>
<text x="241.66" y="1006.8" font-family="'Liberation Sans', Arial, Helvetica, sans-serif" font-size="26" font-weight="bold" fill="#111111">4</text>
<line x1="142.1" y1="1028.3" x2="192.2" y2="1028.3" stroke="#d91f10" stroke-width="3.2"/>
<text x="188.04" y="1041.96" font-family="IPAGothic, 'Liberation Serif', serif" font-style="italic" font-size="28.25" fill="#111111">γ</text>
<text x="219.16" y="1038.6" font-family="'Liberation Sans', Arial, Helvetica, sans-serif" font-size="26" font-weight="bold" fill="#111111">=</text>
<text x="241.66" y="1038.6" font-family="'Liberation Sans', Arial, Helvetica, sans-serif" font-size="26" font-weight="bold" fill="#111111">5</text>
<line x1="1029.4" y1="852.3" x2="1078.8" y2="852.3" stroke="#d91f10" stroke-width="3.2"/>
<text x="1082.59" y="855.9" font-family="'Liberation Sans', Arial, Helvetica, sans-serif" font-size="23" font-weight="bold" fill="#111111">E</text>
<text x="1099.16" y="867" font-family="'Liberation Sans', Arial, Helvetica, sans-serif" font-size="18.5" font-weight="bold" fill="#111111">0</text>
<text x="1116.88" y="855.9" font-family="'Liberation Sans', Arial, Helvetica, sans-serif" font-size="23" font-weight="bold" fill="#111111">= 0.1 k</text>
<text x="1188.45" y="867" font-family="'Liberation Sans', Arial, Helvetica, sans-serif" font-size="18.5" font-weight="bold" fill="#111111">B</text>
<text x="1202.01" y="855.9" font-family="'Liberation Sans', Arial, Helvetica, sans-serif" font-size="23" font-weight="bold" fill="#111111">T</text>
<line x1="1029.4" y1="890.35" x2="1078.8" y2="890.35" stroke="#8fd8e6" stroke-width="3.2"/>
<text x="1082.59" y="893.95" font-family="'Liberation Sans', Arial, Helvetica, sans-serif" font-size="23" font-weight="bold" fill="#111111">E</text>
<text x="1099.16" y="905.05" font-family="'Liberation Sans', Arial, Helvetica, sans-serif" font-size="18.5" font-weight="bold" fill="#111111">0</text>
<text x="1116.88" y="893.95" font-family="'Liberation Sans', Arial, Helvetica, sans-serif" font-size="23" font-weight="bold" fill="#111111">= 0.5 k</text>
<text x="1188.45" y="905.05" font-family="'Liberation Sans', Arial, Helvetica, sans-serif" font-size="18.5" font-weight="bold" fill="#111111">B</text>
<text x="1202.01" y="893.95" font-family="'Liberation Sans', Arial, Helvetica, sans-serif" font-size="23" font-weight="bold" fill="#111111">T</text>
<line x1="1029.4" y1="928.4" x2="1078.8" y2="928.4" stroke="#70c000" stroke-width="3.2"/>
<text x="1082.59" y="932" font-family="'Liberation Sans', Arial, Helvetica, sans-serif" font-size="23" font-weight="bold" fill="#111111">E</text>
<text x="1099.16" y="943.1" font-family="'Liberation Sans', Arial, Helvetica, sans-serif" font-size="18.5" font-weight="bold" fill="#111111">0</text>
<text x="1116.88" y="932" font-family="'Liberation Sans', Arial, Helvetica, sans-serif" font-size="23" font-weight="bold" fill="#111111">= 1 k</text>
<text x="1169.27" y="943.1" font-family="'Liberation Sans', Arial, Helvetica, sans-serif" font-size="18.5" font-weight="bold" fill="#111111">B</text>
<text x="1182.83" y="932" font-family="'Liberation Sans', Arial, Helvetica, sans-serif" font-size="23" font-weight="bold" fill="#111111">T</text>
<line x1="1029.4" y1="966.45" x2="1078.8" y2="966.45" stroke="#c044a8" stroke-width="3.2"/>
<text x="1082.59" y="970.05" font-family="'Liberation Sans', Arial, Helvetica, sans-serif" font-size="23" font-weight="bold" fill="#111111">E</text>
<text x="1099.16" y="981.15" font-family="'Liberation Sans', Arial, Helvetica, sans-serif" font-size="18.5" font-weight="bold" fill="#111111">0</text>
<text x="1116.88" y="970.05" font-family="'Liberation Sans', Arial, Helvetica, sans-serif" font-size="23" font-weight="bold" fill="#111111">= 2 k</text>
<text x="1169.27" y="981.15" font-family="'Liberation Sans', Arial, Helvetica, sans-serif" font-size="18.5" font-weight="bold" fill="#111111">B</text>
<text x="1182.83" y="970.05" font-family="'Liberation Sans', Arial, Helvetica, sans-serif" font-size="23" font-weight="bold" fill="#111111">T</text>
<line x1="1029.4" y1="1004.5" x2="1078.8" y2="1004.5" stroke="#3441a2" stroke-width="3.2"/>
<text x="1082.59" y="1008.1" font-family="'Liberation Sans', Arial, Helvetica, sans-serif" font-size="23" font-weight="bold" fill="#111111">E</text>
<text x="1099.16" y="1019.2" font-family="'Liberation Sans', Arial, Helvetica, sans-serif" font-size="18.5" font-weight="bold" fill="#111111">0</text>
<text x="1116.88" y="1008.1" font-family="'Liberation Sans', Arial, Helvetica, sans-serif" font-size="23" font-weight="bold" fill="#111111">= 3 k</text>
<text x="1169.27" y="1019.2" font-family="'Liberation Sans', Arial, Helvetica, sans-serif" font-size="18.5" font-weight="bold" fill="#111111">B</text>
<text x="1182.83" y="1008.1" font-family="'Liberation Sans', Arial, Helvetica, sans-serif" font-size="23" font-weight="bold" fill="#111111">T</text>
<line x1="1029.4" y1="1037.9" x2="1078.8" y2="1037.9" stroke="#3a3a3a" stroke-width="3.4" stroke-dasharray="9.8 10.2 10 10.2 9.8 40"/>
<circle cx="1054.2" cy="1037.9" r="2.9" fill="#3a3a3a"/>
<text x="1082.99" y="1045.4" font-family="'Liberation Sans', Arial, Helvetica, sans-serif" font-size="23.5" font-weight="bold" fill="#111111">Miller</text>
<text x="1149.09" y="1045.4" font-family="'Liberation Sans', Arial, Helvetica, sans-serif" font-size="23.5" font-weight="bold" fill="#111111">Abrahams</text>
<text x="1269.09" y="1045.4" font-family="'Liberation Sans', Arial, Helvetica, sans-serif" font-size="23.5" font-weight="bold" fill="#111111">rate</text>
<text x="-1" y="22.3" font-family="'Liberation Sans', Arial, Helvetica, sans-serif" font-size="30" font-weight="bold" fill="#111111" text-anchor="start">(a)</text>
<text x="896" y="22.3" font-family="'Liberation Sans', Arial, Helvetica, sans-serif" font-size="30" font-weight="bold" fill="#111111" text-anchor="start">(b)</text>
<text x="-1" y="618.6" font-family="'Liberation Sans', Arial, Helvetica, sans-serif" font-size="30" font-weight="bold" fill="#111111" text-anchor="start">(c)</text>
<text x="896.5" y="618.6" font-family="'Liberation Sans', Arial, Helvetica, sans-serif" font-size="30" font-weight="bold" fill="#111111" text-anchor="start">(d)</text>
<text transform="translate(31.2,240.6) rotate(-90)" font-family="'Liberation Sans', Arial, Helvetica, sans-serif" font-size="29.7" font-weight="bold" fill="#111111" text-anchor="middle">Seebeck coefficient [μVK<tspan dy="-9" font-size="20.5">-1</tspan><tspan dy="9">]</tspan></text>
<text transform="translate(812.2,253.3) rotate(90)" font-family="'Liberation Sans', Arial, Helvetica, sans-serif" font-size="29.7" font-weight="bold" fill="#111111" text-anchor="middle">Electrical conductivity [Scm<tspan dy="-9" font-size="20.5">-1</tspan><tspan dy="9">]</tspan></text>
<text x="395.3" y="558.2" font-family="'Liberation Sans', Arial, Helvetica, sans-serif" font-size="29.7" font-weight="bold" fill="#111111" text-anchor="middle">Carrier density [cm<tspan dy="-9" font-size="20.5">-3</tspan><tspan dy="9">]</tspan></text>
<text x="1340.5" y="558.8" font-family="'Liberation Sans', Arial, Helvetica, sans-serif" font-size="29.7" font-weight="bold" fill="#111111" text-anchor="middle">Carrier density [cm<tspan dy="-9" font-size="20.5">-3</tspan><tspan dy="9">]</tspan></text>
<text transform="translate(928.7,255.7) rotate(-90)" font-family="'Liberation Sans', Arial, Helvetica, sans-serif" font-size="30.2" font-weight="bold" fill="#111111" text-anchor="middle">Power factor [S<tspan dy="-9" font-size="20.5">2</tspan><tspan dy="9">σ]</tspan></text>
<text transform="translate(31.2,858.6) rotate(-90)" font-family="'Liberation Sans', Arial, Helvetica, sans-serif" font-size="29.7" font-weight="bold" fill="#111111" text-anchor="middle">Seebeck coefficient [μVK<tspan dy="-9" font-size="20.5">-1</tspan><tspan dy="9">]</tspan></text>
<text transform="translate(928.8,854.3) rotate(-90)" font-family="'Liberation Sans', Arial, Helvetica, sans-serif" font-size="29.7" font-weight="bold" fill="#111111" text-anchor="middle">Seebeck coefficient [μVK<tspan dy="-9" font-size="20.5">-1</tspan><tspan dy="9">]</tspan></text>
<text x="401.5" y="1156" font-family="'Liberation Sans', Arial, Helvetica, sans-serif" font-size="29.7" font-weight="bold" fill="#111111" text-anchor="middle">Electrical conductivity [Scm<tspan dy="-9" font-size="20.5">-1</tspan><tspan dy="9">]</tspan></text>
<text x="1340.1" y="1155.9" font-family="'Liberation Sans', Arial, Helvetica, sans-serif" font-size="29.7" font-weight="bold" fill="#111111" text-anchor="middle">Electrical conductivity [Scm<tspan dy="-9" font-size="20.5">-1</tspan><tspan dy="9">]</tspan></text>
</svg></body></html>
